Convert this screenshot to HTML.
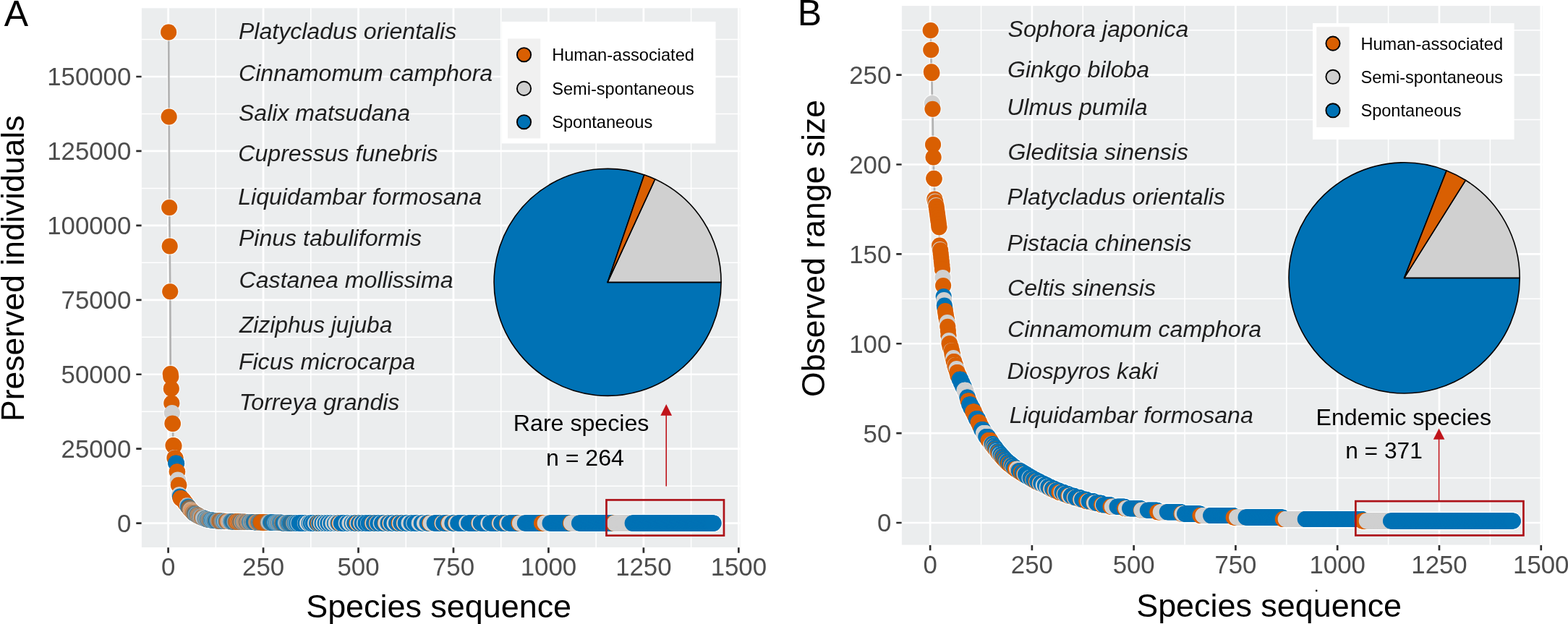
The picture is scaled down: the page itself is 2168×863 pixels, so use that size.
<!DOCTYPE html>
<html lang="en"><head><meta charset="utf-8"><title>Species sequence figure</title>
<style>html,body{margin:0;padding:0;background:#fff}body{width:2168px;height:863px;overflow:hidden}svg{display:block}text{font-family:"Liberation Sans",Arial,Helvetica,sans-serif}.tk text{font-size:34.8px;fill:#4D4D4D}.sp text{font-size:32.1px;font-style:italic;fill:#1e1e1e}.lg text{font-size:23.6px;fill:#000}.ax{font-size:44.9px;fill:#000}.ay{font-size:44.55px;fill:#000}.an{font-size:32.1px;fill:#000}.pl{font-size:50px;fill:#000}</style></head><body>
<svg width="2168" height="863" viewBox="0 0 2168 863">
<rect width="2168" height="863" fill="#fff"/>
<rect x="195.9" y="11.3" width="827.5" height="745.7" fill="#EBEDEE"/>
<path d="M298.32 11.3V757M429.77 11.3V757M561.23 11.3V757M692.68 11.3V757M824.13 11.3V757M955.58 11.3V757M195.9 672.13H1023.4M195.9 569.2H1023.4M195.9 466.27H1023.4M195.9 363.33H1023.4M195.9 260.4H1023.4M195.9 157.47H1023.4M195.9 54.53H1023.4" stroke="#fff" stroke-width="1.5" fill="none"/>
<path d="M232.6 11.3V757M364.05 11.3V757M495.5 11.3V757M626.95 11.3V757M758.4 11.3V757M889.85 11.3V757M1021.3 11.3V757M195.9 723.6H1023.4M195.9 620.67H1023.4M195.9 517.73H1023.4M195.9 414.8H1023.4M195.9 311.87H1023.4M195.9 208.93H1023.4M195.9 106H1023.4" stroke="#fff" stroke-width="2.7" fill="none"/>
<polyline points="233.13,44.5 233.65,161.5 234.18,287 234.7,340.5 235.23,403.3 235.75,517 236.28,521 236.81,537.5 237.33,557.5 237.86,571 238.38,585.5 238.91,586 239.44,616 239.96,616.35 240.49,616.7 241.01,633 241.54,633.4 242.06,633.6 242.59,633.8 243.12,640.6 243.64,640.8 244.17,641 244.69,652.2 245.22,652.5 245.75,663.6 246.27,664.6 246.8,670.7 247.32,671 247.85,684.2 248.37,684.6 248.9,686.5 249.43,689 249.95,689.2 250.48,689.4 251,689.6 251.53,689.8 252.05,690 252.58,690.71 253.11,691.41 253.63,692.12 254.16,692.82 254.68,693.53 255.21,694.24 255.74,694.94 256.26,695.65 256.79,696.35 257.31,697.06 257.84,697.76 258.36,698.47 258.89,699.18 259.42,699.88 259.94,700.59 260.47,701.29 260.99,702 261.52,702.61 262.04,703.22 262.57,703.83 263.1,704.43 263.62,705.04 264.15,705.65 264.67,706.26 265.2,706.87 265.73,707.47 266.25,708.08 266.78,708.69 267.3,709.3 267.83,709.61 268.35,709.92 268.88,710.24 269.41,710.55 269.93,710.86 270.46,711.17 270.98,711.49 271.51,711.8 272.03,712.06 272.56,712.33 273.09,712.59 273.61,712.86 274.14,713.12 274.66,713.39 275.19,713.65 275.72,713.91 276.24,714.18 276.77,714.44 277.29,714.71 277.82,714.97 278.34,715.24 278.87,715.5 279.4,715.7 279.92,715.9 280.45,716.1 280.97,716.3 281.5,716.5 282.03,716.7 282.55,716.9 283.08,717.1 283.6,717.3 284.13,717.5 284.65,717.7 285.18,717.9 285.71,718.1 286.23,718.3 286.76,718.5 287.28,718.59 287.81,718.67 288.33,718.76 288.86,718.85 289.39,718.93 289.91,719.02 290.44,719.11 290.96,719.19 291.49,719.28 292.02,719.37 292.54,719.45 293.07,719.54 293.59,719.63 294.12,719.71 294.64,719.8 295.17,719.84 295.7,719.89 296.22,719.93 296.75,719.98 297.27,720.02 297.8,720.07 298.32,720.11 298.85,720.16 299.38,720.2 299.9,720.24 300.43,720.29 300.95,720.33 301.48,720.38 302.01,720.42 302.53,720.47 303.06,720.51 303.58,720.56 304.11,720.6 304.63,720.62 305.16,720.65 305.69,720.68 306.21,720.7 306.74,720.73 307.26,720.75 307.79,720.77 308.32,720.8 308.84,720.83 309.37,720.85 309.89,720.88 310.42,720.9 310.94,720.93 311.47,720.95 312,720.98 312.52,721 313.05,721.03 313.57,721.05 314.1,721.08 314.62,721.1 315.15,721.12 315.68,721.15 316.2,721.18 316.73,721.2 317.25,721.22 317.78,721.23 318.31,721.25 318.83,721.27 319.36,721.28 319.88,721.3 320.41,721.32 320.93,721.33 321.46,721.35 321.99,721.37 322.51,721.38 323.04,721.4 323.56,721.42 324.09,721.43 324.62,721.45 325.14,721.47 325.67,721.48 326.19,721.5 326.72,721.52 327.24,721.53 327.77,721.55 328.3,721.57 328.82,721.58 329.35,721.6 329.87,721.62 330.4,721.63 330.92,721.65 331.45,721.67 331.98,721.68 332.5,721.7 333.03,721.72 333.55,721.73 334.08,721.75 334.61,721.77 335.13,721.78 335.66,721.8 336.18,721.81 336.71,721.82 337.23,721.83 337.76,721.84 338.29,721.86 338.81,721.87 339.34,721.88 339.86,721.89 340.39,721.9 340.91,721.91 341.44,721.92 341.97,721.93 342.49,721.94 343.02,721.96 343.54,721.97 344.07,721.98 344.6,721.99 345.12,722 345.65,722.01 346.17,722.02 346.7,722.03 347.22,722.04 347.75,722.06 348.28,722.07 348.8,722.08 349.33,722.09 349.85,722.1 350.38,722.11 350.9,722.12 351.43,722.13 351.96,722.14 352.48,722.16 353.01,722.17 353.53,722.18 354.06,722.19 354.59,722.2 355.11,722.21 355.64,722.22 356.16,722.23 356.69,722.24 357.21,722.26 357.74,722.27 358.27,722.28 358.79,722.29 359.32,722.3 359.84,722.31 360.37,722.32 360.9,722.33 361.42,722.34 361.95,722.36 362.47,722.37 363,722.38 363.52,722.39 364.05,722.4 364.58,722.41 365.1,722.42 365.63,722.43 366.15,722.44 366.68,722.45 367.2,722.46 367.73,722.47 368.26,722.48 368.78,722.49 369.31,722.5 369.83,722.51 370.36,722.52 370.89,722.52 371.41,722.53 371.94,722.54 372.46,722.55 372.99,722.56 373.51,722.57 374.04,722.58 374.57,722.59 375.09,722.6 375.62,722.61 376.14,722.62 376.67,722.63 377.19,722.64 377.72,722.65 378.25,722.66 378.77,722.67 379.3,722.68 379.82,722.69 380.35,722.7 380.88,722.71 381.4,722.72 381.93,722.73 382.45,722.74 382.98,722.75 383.5,722.76 384.03,722.77 384.56,722.77 385.08,722.78 385.61,722.79 386.13,722.8 386.66,722.81 387.19,722.82 387.71,722.83 388.24,722.84 388.76,722.85 389.29,722.86 389.81,722.87 390.34,723.37 390.87,723.37 391.39,723.37 391.92,723.37 392.44,723.37 392.97,723.37 393.49,723.37 394.02,723.37 394.55,723.37 395.07,723.37 395.6,723.37 396.12,723.37 396.65,723.37 397.18,723.37 397.7,723.38 398.23,723.38 398.75,723.38 399.28,723.38 399.8,723.38 400.33,723.38 400.86,723.38 401.38,723.38 401.91,723.38 402.43,723.38 402.96,723.39 403.49,723.39 404.01,723.39 404.54,723.39 405.06,723.39 405.59,723.39 406.11,723.39 406.64,723.39 407.17,723.39 407.69,723.39 408.22,723.39 408.74,723.39 409.27,723.39 409.79,723.39 410.32,723.39 410.85,723.39 411.37,723.39 411.9,723.39 412.42,723.4 412.95,723.4 413.48,723.4 414,723.4 414.53,723.4 415.05,723.4 415.58,723.4 416.1,723.4 416.63,723.4 417.16,723.4 417.68,723.4 418.21,723.4 418.73,723.41 419.26,723.41 419.78,723.41 420.31,723.41 420.84,723.41 421.36,723.41 421.89,723.41 422.41,723.41 422.94,723.41 423.47,723.41 423.99,723.41 424.52,723.41 425.04,723.41 425.57,723.41 426.09,723.41 426.62,723.41 427.15,723.41 427.67,723.41 428.2,723.41 428.72,723.42 429.25,723.42 429.77,723.42 430.3,723.42 430.83,723.42 431.35,723.42 431.88,723.42 432.4,723.42 432.93,723.42 433.46,723.42 433.98,723.42 434.51,723.42 435.03,723.42 435.56,723.42 436.08,723.43 436.61,723.43 437.14,723.43 437.66,723.43 438.19,723.43 438.71,723.43 439.24,723.43 439.77,723.43 440.29,723.43 440.82,723.43 441.34,723.43 441.87,723.43 442.39,723.43 442.92,723.43 443.45,723.44 443.97,723.44 444.5,723.44 445.02,723.44 445.55,723.44 446.07,723.44 446.6,723.44 447.13,723.44 447.65,723.44 448.18,723.44 448.7,723.44 449.23,723.44 449.76,723.44 450.28,723.44 450.81,723.44 451.33,723.44 451.86,723.44 452.38,723.44 452.91,723.44 453.44,723.44 453.96,723.44 454.49,723.44 455.01,723.44 455.54,723.44 456.07,723.45 456.59,723.45 457.12,723.45 457.64,723.45 458.17,723.45 458.69,723.45 459.22,723.45 459.75,723.45 460.27,723.45 460.8,723.45 461.32,723.45 461.85,723.45 462.37,723.45 462.9,723.45 463.43,723.45 463.95,723.45 464.48,723.46 465,723.46 465.53,723.46 466.06,723.46 466.58,723.46 467.11,723.46 467.63,723.46 468.16,723.46 468.68,723.46 469.21,723.46 469.74,723.46 470.26,723.46 470.79,723.46 471.31,723.46 471.84,723.46 472.36,723.46 472.89,723.46 473.42,723.46 473.94,723.46 474.47,723.46 474.99,723.46 475.52,723.46 476.05,723.46 476.57,723.46 477.1,723.46 477.62,723.46 478.15,723.46 478.67,723.47 479.2,723.47 479.73,723.47 480.25,723.47 480.78,723.47 481.3,723.47 481.83,723.47 482.36,723.47 482.88,723.47 483.41,723.47 483.93,723.47 484.46,723.47 484.98,723.47 485.51,723.47 486.04,723.47 486.56,723.47 487.09,723.47 487.61,723.47 488.14,723.48 488.66,723.48 489.19,723.48 489.72,723.48 490.24,723.48 490.77,723.48 491.29,723.48 491.82,723.48 492.35,723.48 492.87,723.48 493.4,723.48 493.92,723.48 494.45,723.48 494.97,723.48 495.5,723.48 496.03,723.48 496.55,723.48 497.08,723.48 497.6,723.48 498.13,723.48 498.65,723.48 499.18,723.48 499.71,723.48 500.23,723.48 500.76,723.48 501.28,723.48 501.81,723.48 502.34,723.48 502.86,723.48 503.39,723.48 503.91,723.49 504.44,723.49 504.96,723.49 505.49,723.49 506.02,723.49 506.54,723.49 507.07,723.49 507.59,723.49 508.12,723.49 508.64,723.49 509.17,723.49 509.7,723.49 510.22,723.49 510.75,723.49 511.27,723.49 511.8,723.49 512.33,723.49 512.85,723.49 513.38,723.49 513.9,723.49 514.43,723.49 514.95,723.5 515.48,723.5 516.01,723.5 516.53,723.5 517.06,723.5 517.58,723.5 518.11,723.5 518.64,723.5 519.16,723.5 519.69,723.5 520.21,723.5 520.74,723.5 521.26,723.5 521.79,723.5 522.32,723.5 522.84,723.5 523.37,723.5 523.89,723.5 524.42,723.5 524.94,723.5 525.47,723.5 526,723.5 526.52,723.51 527.05,723.51 527.57,723.51 528.1,723.51 528.63,723.51 529.15,723.51 529.68,723.51 530.2,723.51 530.73,723.51 531.25,723.51 531.78,723.51 532.31,723.51 532.83,723.51 533.36,723.51 533.88,723.51 534.41,723.51 534.94,723.51 535.46,723.51 535.99,723.51 536.51,723.51 537.04,723.51 537.56,723.51 538.09,723.51 538.62,723.51 539.14,723.51 539.67,723.51 540.19,723.51 540.72,723.51 541.24,723.51 541.77,723.51 542.3,723.51 542.82,723.51 543.35,723.51 543.87,723.51 544.4,723.51 544.93,723.51 545.45,723.52 545.98,723.52 546.5,723.52 547.03,723.52 547.55,723.52 548.08,723.52 548.61,723.52 549.13,723.52 549.66,723.52 550.18,723.52 550.71,723.52 551.23,723.52 551.76,723.52 552.29,723.52 552.81,723.52 553.34,723.52 553.86,723.52 554.39,723.52 554.92,723.52 555.44,723.52 555.97,723.52 556.49,723.52 557.02,723.52 557.54,723.52 558.07,723.52 558.6,723.53 559.12,723.53 559.65,723.53 560.17,723.53 560.7,723.53 561.23,723.53 561.75,723.53 562.28,723.53 562.8,723.53 563.33,723.53 563.85,723.53 564.38,723.53 564.91,723.53 565.43,723.53 565.96,723.53 566.48,723.53 567.01,723.53 567.53,723.53 568.06,723.53 568.59,723.53 569.11,723.53 569.64,723.53 570.16,723.53 570.69,723.53 571.22,723.53 571.74,723.53 572.27,723.53 572.79,723.53 573.32,723.53 573.84,723.53 574.37,723.53 574.9,723.53 575.42,723.53 575.95,723.53 576.47,723.53 577,723.53 577.52,723.53 578.05,723.53 578.58,723.53 579.1,723.53 579.63,723.54 580.15,723.54 580.68,723.54 581.21,723.54 581.73,723.54 582.26,723.54 582.78,723.54 583.31,723.54 583.83,723.54 584.36,723.54 584.89,723.54 585.41,723.54 585.94,723.54 586.46,723.54 586.99,723.54 587.51,723.54 588.04,723.54 588.57,723.54 589.09,723.54 589.62,723.54 590.14,723.54 590.67,723.54 591.2,723.54 591.72,723.54 592.25,723.54 592.77,723.54 593.3,723.54 593.82,723.54 594.35,723.55 594.88,723.55 595.4,723.55 595.93,723.55 596.45,723.55 596.98,723.55 597.51,723.55 598.03,723.55 598.56,723.55 599.08,723.55 599.61,723.55 600.13,723.55 600.66,723.55 601.19,723.55 601.71,723.55 602.24,723.55 602.76,723.55 603.29,723.55 603.81,723.55 604.34,723.55 604.87,723.55 605.39,723.55 605.92,723.55 606.44,723.55 606.97,723.55 607.5,723.55 608.02,723.55 608.55,723.55 609.07,723.55 609.6,723.55 610.12,723.55 610.65,723.55 611.18,723.55 611.7,723.55 612.23,723.55 612.75,723.55 613.28,723.55 613.81,723.55 614.33,723.55 614.86,723.55 615.38,723.55 615.91,723.55 616.43,723.55 616.96,723.55 617.49,723.55 618.01,723.55 618.54,723.55 619.06,723.55 619.59,723.55 620.11,723.55 620.64,723.55 621.17,723.55 621.69,723.55 622.22,723.55 622.74,723.55 623.27,723.55 623.8,723.55 624.32,723.55 624.85,723.55 625.37,723.55 625.9,723.55 626.42,723.55 626.95,723.55 627.48,723.55 628,723.55 628.53,723.55 629.05,723.55 629.58,723.55 630.1,723.56 630.63,723.56 631.16,723.56 631.68,723.56 632.21,723.56 632.73,723.56 633.26,723.56 633.79,723.56 634.31,723.56 634.84,723.56 635.36,723.56 635.89,723.56 636.41,723.56 636.94,723.56 637.47,723.56 637.99,723.56 638.52,723.56 639.04,723.56 639.57,723.56 640.1,723.56 640.62,723.56 641.15,723.56 641.67,723.56 642.2,723.56 642.72,723.56 643.25,723.56 643.78,723.56 644.3,723.56 644.83,723.56 645.35,723.56 645.88,723.56 646.4,723.56 646.93,723.56 647.46,723.56 647.98,723.56 648.51,723.56 649.03,723.56 649.56,723.56 650.09,723.56 650.61,723.56 651.14,723.56 651.66,723.56 652.19,723.56 652.71,723.56 653.24,723.56 653.77,723.56 654.29,723.56 654.82,723.56 655.34,723.56 655.87,723.56 656.39,723.56 656.92,723.56 657.45,723.56 657.97,723.56 658.5,723.56 659.02,723.56 659.55,723.56 660.08,723.56 660.6,723.56 661.13,723.56 661.65,723.56 662.18,723.57 662.7,723.57 663.23,723.57 663.76,723.57 664.28,723.57 664.81,723.57 665.33,723.57 665.86,723.57 666.38,723.57 666.91,723.57 667.44,723.57 667.96,723.57 668.49,723.57 669.01,723.57 669.54,723.57 670.07,723.57 670.59,723.57 671.12,723.57 671.64,723.57 672.17,723.57 672.69,723.57 673.22,723.57 673.75,723.57 674.27,723.57 674.8,723.57 675.32,723.57 675.85,723.57 676.38,723.57 676.9,723.57 677.43,723.57 677.95,723.57 678.48,723.57 679,723.57 679.53,723.57 680.06,723.57 680.58,723.57 681.11,723.57 681.63,723.57 682.16,723.57 682.68,723.57 683.21,723.57 683.74,723.57 684.26,723.57 684.79,723.57 685.31,723.57 685.84,723.57 686.37,723.57 686.89,723.57 687.42,723.57 687.94,723.57 688.47,723.57 688.99,723.57 689.52,723.57 690.05,723.57 690.57,723.58 691.1,723.58 691.62,723.58 692.15,723.58 692.68,723.58 693.2,723.58 693.73,723.58 694.25,723.58 694.78,723.58 695.3,723.58 695.83,723.58 696.36,723.58 696.88,723.58 697.41,723.58 697.93,723.58 698.46,723.58 698.98,723.58 699.51,723.58 700.04,723.58 700.56,723.58 701.09,723.58 701.61,723.58 702.14,723.58 702.67,723.58 703.19,723.58 703.72,723.58 704.24,723.58 704.77,723.58 705.29,723.58 705.82,723.58 706.35,723.58 706.87,723.58 707.4,723.58 707.92,723.58 708.45,723.58 708.97,723.58 709.5,723.58 710.03,723.58 710.55,723.58 711.08,723.58 711.6,723.58 712.13,723.58 712.66,723.58 713.18,723.58 713.71,723.58 714.23,723.58 714.76,723.58 715.28,723.58 715.81,723.58 716.34,723.58 716.86,723.58 717.39,723.58 717.91,723.58 718.44,723.58 718.97,723.58 719.49,723.58 720.02,723.58 720.54,723.58 721.07,723.58 721.59,723.58 722.12,723.58 722.65,723.58 723.17,723.58 723.7,723.58 724.22,723.58 724.75,723.58 725.27,723.58 725.8,723.58 726.33,723.58 726.85,723.58 727.38,723.58 727.9,723.58 728.43,723.58 728.96,723.58 729.48,723.58 730.01,723.58 730.53,723.58 731.06,723.58 731.58,723.58 732.11,723.58 732.64,723.58 733.16,723.58 733.69,723.58 734.21,723.58 734.74,723.58 735.26,723.58 735.79,723.58 736.32,723.58 736.84,723.58 737.37,723.58 737.89,723.58 738.42,723.58 738.95,723.58 739.47,723.58 740,723.58 740.52,723.58 741.05,723.58 741.57,723.58 742.1,723.58 742.63,723.58 743.15,723.58 743.68,723.58 744.2,723.58 744.73,723.58 745.26,723.58 745.78,723.58 746.31,723.58 746.83,723.58 747.36,723.58 747.88,723.58 748.41,723.58 748.94,723.59 749.46,723.59 749.99,723.59 750.51,723.59 751.04,723.59 751.56,723.59 752.09,723.59 752.62,723.59 753.14,723.59 753.67,723.59 754.19,723.59 754.72,723.59 755.25,723.59 755.77,723.59 756.3,723.59 756.82,723.59 757.35,723.59 757.87,723.59 758.4,723.59 758.93,723.59 759.45,723.59 759.98,723.59 760.5,723.59 761.03,723.59 761.55,723.59 762.08,723.59 762.61,723.59 763.13,723.59 763.66,723.59 764.18,723.59 764.71,723.59 765.24,723.59 765.76,723.59 766.29,723.59 766.81,723.59 767.34,723.59 767.86,723.59 768.39,723.59 768.92,723.59 769.44,723.59 769.97,723.59 770.49,723.59 771.02,723.59 771.55,723.59 772.07,723.59 772.6,723.59 773.12,723.59 773.65,723.59 774.17,723.59 774.7,723.59 775.23,723.59 775.75,723.59 776.28,723.59 776.8,723.59 777.33,723.59 777.85,723.59 778.38,723.59 778.91,723.59 779.43,723.59 779.96,723.59 780.48,723.59 781.01,723.59 781.54,723.59 782.06,723.59 782.59,723.59 783.11,723.59 783.64,723.59 784.16,723.59 784.69,723.59 785.22,723.59 785.74,723.59 786.27,723.59 786.79,723.59 787.32,723.59 787.84,723.59 788.37,723.59 788.9,723.59 789.42,723.59 789.95,723.59 790.47,723.59 791,723.59 791.53,723.59 792.05,723.59 792.58,723.59 793.1,723.59 793.63,723.59 794.15,723.59 794.68,723.59 795.21,723.59 795.73,723.59 796.26,723.59 796.78,723.59 797.31,723.59 797.84,723.59 798.36,723.59 798.89,723.59 799.41,723.59 799.94,723.59 800.46,723.59 800.99,723.59 801.52,723.59 802.04,723.59 802.57,723.59 803.09,723.59 803.62,723.59 804.14,723.59 804.67,723.59 805.2,723.59 805.72,723.59 806.25,723.59 806.77,723.59 807.3,723.59 807.83,723.59 808.35,723.59 808.88,723.59 809.4,723.59 809.93,723.59 810.45,723.59 810.98,723.59 811.51,723.59 812.03,723.59 812.56,723.59 813.08,723.59 813.61,723.59 814.13,723.59 814.66,723.59 815.19,723.59 815.71,723.59 816.24,723.59 816.76,723.59 817.29,723.59 817.82,723.59 818.34,723.59 818.87,723.59 819.39,723.59 819.92,723.59 820.44,723.59 820.97,723.59 821.5,723.59 822.02,723.59 822.55,723.59 823.07,723.59 823.6,723.59 824.13,723.59 824.65,723.59 825.18,723.59 825.7,723.59 826.23,723.59 826.75,723.59 827.28,723.59 827.81,723.59 828.33,723.59 828.86,723.59 829.38,723.59 829.91,723.59 830.43,723.59 830.96,723.59 831.49,723.59 832.01,723.59 832.54,723.59 833.06,723.59 833.59,723.59 834.12,723.59 834.64,723.59 835.17,723.59 835.69,723.59 836.22,723.59 836.74,723.59 837.27,723.59 837.8,723.59 838.32,723.59 838.85,723.59 839.37,723.59 839.9,723.59 840.42,723.59 840.95,723.59 841.48,723.59 842,723.59 842.53,723.59 843.05,723.59 843.58,723.59 844.11,723.59 844.63,723.59 845.16,723.59 845.68,723.59 846.21,723.59 846.73,723.59 847.26,723.59 847.79,723.59 848.31,723.6 848.84,723.6 849.36,723.6 849.89,723.6 850.42,723.6 850.94,723.6 851.47,723.6 851.99,723.6 852.52,723.6 853.04,723.6 853.57,723.6 854.1,723.6 854.62,723.6 855.15,723.6 855.67,723.6 856.2,723.6 856.72,723.6 857.25,723.6 857.78,723.6 858.3,723.6 858.83,723.6 859.35,723.6 859.88,723.6 860.41,723.6 860.93,723.6 861.46,723.6 861.98,723.6 862.51,723.6 863.03,723.6 863.56,723.6 864.09,723.6 864.61,723.6 865.14,723.6 865.66,723.6 866.19,723.6 866.71,723.6 867.24,723.6 867.77,723.6 868.29,723.6 868.82,723.6 869.34,723.6 869.87,723.6 870.4,723.6 870.92,723.6 871.45,723.6 871.97,723.6 872.5,723.6 873.02,723.6 873.55,723.6 874.08,723.6 874.6,723.6 875.13,723.6 875.65,723.6 876.18,723.6 876.71,723.6 877.23,723.6 877.76,723.6 878.28,723.6 878.81,723.6 879.33,723.6 879.86,723.6 880.39,723.6 880.91,723.6 881.44,723.6 881.96,723.6 882.49,723.6 883.01,723.6 883.54,723.6 884.07,723.6 884.59,723.6 885.12,723.6 885.64,723.6 886.17,723.6 886.7,723.6 887.22,723.6 887.75,723.6 888.27,723.6 888.8,723.6 889.32,723.6 889.85,723.6 890.38,723.6 890.9,723.6 891.43,723.6 891.95,723.6 892.48,723.6 893,723.6 893.53,723.6 894.06,723.6 894.58,723.6 895.11,723.6 895.63,723.6 896.16,723.6 896.69,723.6 897.21,723.6 897.74,723.6 898.26,723.6 898.79,723.6 899.31,723.6 899.84,723.6 900.37,723.6 900.89,723.6 901.42,723.6 901.94,723.6 902.47,723.6 903,723.6 903.52,723.6 904.05,723.6 904.57,723.6 905.1,723.6 905.62,723.6 906.15,723.6 906.68,723.6 907.2,723.6 907.73,723.6 908.25,723.6 908.78,723.6 909.3,723.6 909.83,723.6 910.36,723.6 910.88,723.6 911.41,723.6 911.93,723.6 912.46,723.6 912.99,723.6 913.51,723.6 914.04,723.6 914.56,723.6 915.09,723.6 915.61,723.6 916.14,723.6 916.67,723.6 917.19,723.6 917.72,723.6 918.24,723.6 918.77,723.6 919.29,723.6 919.82,723.6 920.35,723.6 920.87,723.6 921.4,723.6 921.92,723.6 922.45,723.6 922.98,723.6 923.5,723.6 924.03,723.6 924.55,723.6 925.08,723.6 925.6,723.6 926.13,723.6 926.66,723.6 927.18,723.6 927.71,723.6 928.23,723.6 928.76,723.6 929.29,723.6 929.81,723.6 930.34,723.6 930.86,723.6 931.39,723.6 931.91,723.6 932.44,723.6 932.97,723.6 933.49,723.6 934.02,723.6 934.54,723.6 935.07,723.6 935.59,723.6 936.12,723.6 936.65,723.6 937.17,723.6 937.7,723.6 938.22,723.6 938.75,723.6 939.28,723.6 939.8,723.6 940.33,723.6 940.85,723.6 941.38,723.6 941.9,723.6 942.43,723.6 942.96,723.6 943.48,723.6 944.01,723.6 944.53,723.6 945.06,723.6 945.58,723.6 946.11,723.6 946.64,723.6 947.16,723.6 947.69,723.6 948.21,723.6 948.74,723.6 949.27,723.6 949.79,723.6 950.32,723.6 950.84,723.6 951.37,723.6 951.89,723.6 952.42,723.6 952.95,723.6 953.47,723.6 954,723.6 954.52,723.6 955.05,723.6 955.58,723.6 956.1,723.6 956.63,723.6 957.15,723.6 957.68,723.6 958.2,723.6 958.73,723.6 959.26,723.6 959.78,723.6 960.31,723.6 960.83,723.6 961.36,723.6 961.88,723.6 962.41,723.6 962.94,723.6 963.46,723.6 963.99,723.6 964.51,723.6 965.04,723.6 965.57,723.6 966.09,723.6 966.62,723.6 967.14,723.6 967.67,723.6 968.19,723.6 968.72,723.6 969.25,723.6 969.77,723.6 970.3,723.6 970.82,723.6 971.35,723.6 971.87,723.6 972.4,723.6 972.93,723.6 973.45,723.6 973.98,723.6 974.5,723.6 975.03,723.6 975.56,723.6 976.08,723.6 976.61,723.6 977.13,723.6 977.66,723.6 978.18,723.6 978.71,723.6 979.24,723.6 979.76,723.6 980.29,723.6 980.81,723.6 981.34,723.6 981.87,723.6 982.39,723.6 982.92,723.6 983.44,723.6 983.97,723.6 984.49,723.6 985.02,723.6 985.55,723.6 986.07,723.6 986.6,723.6" fill="none" stroke="#B2B2B2" stroke-width="2.7" stroke-linejoin="round"/>
<g stroke="#fff" stroke-opacity="0.6" stroke-width="2.8"><use href="#sa"/></g>
<g id="sa">
<g>
<g fill="#D95F02"><circle cx="233.13" cy="44.5" r="11"/><circle cx="233.65" cy="161.5" r="11"/><circle cx="234.18" cy="287" r="11"/><circle cx="234.7" cy="340.5" r="11"/><circle cx="235.23" cy="403.3" r="11"/><circle cx="235.75" cy="517" r="11"/><circle cx="236.28" cy="521" r="11"/><circle cx="236.81" cy="537.5" r="11"/><circle cx="237.33" cy="557.5" r="11"/></g>
<g fill="#D0D0D0"><circle cx="237.86" cy="571" r="11"/></g>
<g fill="#D95F02"><circle cx="238.38" cy="585.5" r="11"/><circle cx="238.91" cy="586" r="11"/><circle cx="239.44" cy="616" r="11"/><circle cx="239.96" cy="616.35" r="11"/><circle cx="240.49" cy="616.7" r="11"/></g>
<g fill="#D0D0D0"><circle cx="241.01" cy="633" r="11"/></g>
<g fill="#D95F02"><circle cx="241.54" cy="633.4" r="11"/><circle cx="242.06" cy="633.6" r="11"/><circle cx="242.59" cy="633.8" r="11"/></g>
<g fill="#0072B5"><circle cx="243.12" cy="640.6" r="11"/><circle cx="243.64" cy="640.8" r="11"/><circle cx="244.17" cy="641" r="11"/></g>
<g fill="#D95F02"><circle cx="244.69" cy="652.2" r="11"/><circle cx="245.22" cy="652.5" r="11"/></g>
<g fill="#D0D0D0"><circle cx="245.75" cy="663.6" r="11"/><circle cx="246.27" cy="664.6" r="11"/></g>
<g fill="#D95F02"><circle cx="246.8" cy="670.7" r="11"/><circle cx="247.32" cy="671" r="11"/></g>
<g fill="#D0D0D0"><circle cx="247.85" cy="684.2" r="11"/><circle cx="248.37" cy="684.6" r="11"/></g>
<g fill="#0072B5"><circle cx="248.9" cy="686.5" r="11"/></g>
<g fill="#D95F02"><circle cx="249.43" cy="689" r="11"/><circle cx="249.95" cy="689.2" r="11"/><circle cx="250.48" cy="689.4" r="11"/><circle cx="251" cy="689.6" r="11"/><circle cx="251.53" cy="689.8" r="11"/><circle cx="252.05" cy="690" r="11"/><circle cx="252.58" cy="690.71" r="11"/><circle cx="253.11" cy="691.41" r="11"/><circle cx="253.63" cy="692.12" r="11"/><circle cx="254.16" cy="692.82" r="11"/><circle cx="254.68" cy="693.53" r="11"/><circle cx="255.21" cy="694.24" r="11"/><circle cx="255.74" cy="694.94" r="11"/><circle cx="256.26" cy="695.65" r="11"/><circle cx="256.79" cy="696.35" r="11"/><circle cx="257.31" cy="697.06" r="11"/><circle cx="257.84" cy="697.76" r="11"/><circle cx="258.36" cy="698.47" r="11"/></g>
</g>
<g id="da">
<g fill="#D0D0D0"><circle cx="258.89" cy="699.18" r="11"/><circle cx="259.42" cy="699.88" r="11"/></g>
<g fill="#0072B5"><circle cx="259.94" cy="700.59" r="11"/><circle cx="260.47" cy="701.29" r="11"/><circle cx="260.99" cy="702" r="11"/></g>
<g fill="#D95F02"><circle cx="261.52" cy="702.61" r="11"/><circle cx="262.04" cy="703.22" r="11"/></g>
<g fill="#0072B5"><circle cx="262.57" cy="703.83" r="11"/></g>
<g fill="#D95F02"><circle cx="263.1" cy="704.43" r="11"/></g>
<g fill="#D0D0D0"><circle cx="263.62" cy="705.04" r="11"/><circle cx="264.15" cy="705.65" r="11"/></g>
<g fill="#D95F02"><circle cx="264.67" cy="706.26" r="11"/></g>
<g fill="#D0D0D0"><circle cx="265.2" cy="706.87" r="11"/></g>
<g fill="#D95F02"><circle cx="265.73" cy="707.47" r="11"/></g>
<g fill="#D0D0D0"><circle cx="266.25" cy="708.08" r="11"/></g>
<g fill="#D95F02"><circle cx="266.78" cy="708.69" r="11"/><circle cx="267.3" cy="709.3" r="11"/></g>
<g fill="#D0D0D0"><circle cx="267.83" cy="709.61" r="11"/></g>
<g fill="#0072B5"><circle cx="268.35" cy="709.92" r="11"/></g>
<g fill="#D95F02"><circle cx="268.88" cy="710.24" r="11"/><circle cx="269.41" cy="710.55" r="11"/></g>
<g fill="#0072B5"><circle cx="269.93" cy="710.86" r="11"/><circle cx="270.46" cy="711.17" r="11"/></g>
<g fill="#D0D0D0"><circle cx="270.98" cy="711.49" r="11"/><circle cx="271.51" cy="711.8" r="11"/></g>
<g fill="#0072B5"><circle cx="272.03" cy="712.06" r="11"/></g>
<g fill="#D95F02"><circle cx="272.56" cy="712.33" r="11"/></g>
<g fill="#0072B5"><circle cx="273.09" cy="712.59" r="11"/></g>
<g fill="#D0D0D0"><circle cx="273.61" cy="712.86" r="11"/></g>
<g fill="#D95F02"><circle cx="274.14" cy="713.12" r="11"/><circle cx="274.66" cy="713.39" r="11"/></g>
<g fill="#D0D0D0"><circle cx="275.19" cy="713.65" r="11"/></g>
<g fill="#0072B5"><circle cx="275.72" cy="713.91" r="11"/></g>
<g fill="#D95F02"><circle cx="276.24" cy="714.18" r="11"/></g>
<g fill="#D0D0D0"><circle cx="276.77" cy="714.44" r="11"/></g>
<g fill="#0072B5"><circle cx="277.29" cy="714.71" r="11"/></g>
<g fill="#D0D0D0"><circle cx="277.82" cy="714.97" r="11"/><circle cx="278.34" cy="715.24" r="11"/></g>
<g fill="#D95F02"><circle cx="278.87" cy="715.5" r="11"/><circle cx="279.4" cy="715.7" r="11"/><circle cx="279.92" cy="715.9" r="11"/></g>
<g fill="#0072B5"><circle cx="280.45" cy="716.1" r="11"/></g>
<g fill="#D0D0D0"><circle cx="280.97" cy="716.3" r="11"/><circle cx="281.5" cy="716.5" r="11"/><circle cx="282.03" cy="716.7" r="11"/><circle cx="282.55" cy="716.9" r="11"/><circle cx="283.08" cy="717.1" r="11"/></g>
<g fill="#0072B5"><circle cx="283.6" cy="717.3" r="11"/><circle cx="284.13" cy="717.5" r="11"/></g>
<g fill="#D95F02"><circle cx="284.65" cy="717.7" r="11"/></g>
<g fill="#D0D0D0"><circle cx="285.18" cy="717.9" r="11"/><circle cx="285.71" cy="718.1" r="11"/></g>
<g fill="#0072B5"><circle cx="286.23" cy="718.3" r="11"/><circle cx="286.76" cy="718.5" r="11"/></g>
<g fill="#D0D0D0"><circle cx="287.28" cy="718.59" r="11"/></g>
<g fill="#0072B5"><circle cx="287.81" cy="718.67" r="11"/></g>
<g fill="#D95F02"><circle cx="288.33" cy="718.76" r="11"/></g>
<g fill="#D0D0D0"><circle cx="288.86" cy="718.85" r="11"/></g>
<g fill="#0072B5"><circle cx="289.39" cy="718.93" r="11"/></g>
<g fill="#D95F02"><circle cx="289.91" cy="719.02" r="11"/></g>
<g fill="#D0D0D0"><circle cx="290.44" cy="719.11" r="11"/></g>
<g fill="#D95F02"><circle cx="290.96" cy="719.19" r="11"/></g>
<g fill="#0072B5"><circle cx="291.49" cy="719.28" r="11"/><circle cx="292.02" cy="719.37" r="11"/></g>
<g fill="#D0D0D0"><circle cx="292.54" cy="719.45" r="11"/></g>
<g fill="#0072B5"><circle cx="293.07" cy="719.54" r="11"/></g>
<g fill="#D0D0D0"><circle cx="293.59" cy="719.63" r="11"/></g>
<g fill="#0072B5"><circle cx="294.12" cy="719.71" r="11"/><circle cx="294.64" cy="719.8" r="11"/></g>
<g fill="#D0D0D0"><circle cx="295.17" cy="719.84" r="11"/><circle cx="295.7" cy="719.89" r="11"/></g>
<g fill="#0072B5"><circle cx="296.22" cy="719.93" r="11"/><circle cx="296.75" cy="719.98" r="11"/></g>
<g fill="#D0D0D0"><circle cx="297.27" cy="720.02" r="11"/></g>
<g fill="#0072B5"><circle cx="297.8" cy="720.07" r="11"/></g>
<g fill="#D95F02"><circle cx="298.32" cy="720.11" r="11"/></g>
<g fill="#0072B5"><circle cx="298.85" cy="720.16" r="11"/><circle cx="299.38" cy="720.2" r="11"/><circle cx="299.9" cy="720.24" r="11"/><circle cx="300.43" cy="720.29" r="11"/></g>
<g fill="#D0D0D0"><circle cx="300.95" cy="720.33" r="11"/><circle cx="301.48" cy="720.38" r="11"/></g>
<g fill="#0072B5"><circle cx="302.01" cy="720.42" r="11"/></g>
<g fill="#D95F02"><circle cx="302.53" cy="720.47" r="11"/></g>
<g fill="#D0D0D0"><circle cx="303.06" cy="720.51" r="11"/></g>
<g fill="#D95F02"><circle cx="303.58" cy="720.56" r="11"/><circle cx="304.11" cy="720.6" r="11"/><circle cx="304.63" cy="720.62" r="11"/></g>
<g fill="#0072B5"><circle cx="305.16" cy="720.65" r="11"/></g>
<g fill="#D95F02"><circle cx="305.69" cy="720.68" r="11"/><circle cx="306.21" cy="720.7" r="11"/></g>
<g fill="#D0D0D0"><circle cx="306.74" cy="720.73" r="11"/></g>
<g fill="#0072B5"><circle cx="307.26" cy="720.75" r="11"/></g>
<g fill="#D95F02"><circle cx="307.79" cy="720.77" r="11"/></g>
<g fill="#D0D0D0"><circle cx="308.32" cy="720.8" r="11"/><circle cx="308.84" cy="720.83" r="11"/></g>
<g fill="#0072B5"><circle cx="309.37" cy="720.85" r="11"/><circle cx="309.89" cy="720.88" r="11"/><circle cx="310.42" cy="720.9" r="11"/></g>
<g fill="#D0D0D0"><circle cx="310.94" cy="720.93" r="11"/><circle cx="311.47" cy="720.95" r="11"/><circle cx="312" cy="720.98" r="11"/></g>
<g fill="#0072B5"><circle cx="312.52" cy="721" r="11"/><circle cx="313.05" cy="721.03" r="11"/></g>
<g fill="#D95F02"><circle cx="313.57" cy="721.05" r="11"/><circle cx="314.1" cy="721.08" r="11"/><circle cx="314.62" cy="721.1" r="11"/><circle cx="315.15" cy="721.12" r="11"/></g>
<g fill="#D0D0D0"><circle cx="315.68" cy="721.15" r="11"/><circle cx="316.2" cy="721.18" r="11"/><circle cx="316.73" cy="721.2" r="11"/></g>
<g fill="#D95F02"><circle cx="317.25" cy="721.22" r="11"/></g>
<g fill="#D0D0D0"><circle cx="317.78" cy="721.23" r="11"/><circle cx="318.31" cy="721.25" r="11"/><circle cx="318.83" cy="721.27" r="11"/></g>
<g fill="#0072B5"><circle cx="319.36" cy="721.28" r="11"/><circle cx="319.88" cy="721.3" r="11"/></g>
<g fill="#D0D0D0"><circle cx="320.41" cy="721.32" r="11"/></g>
<g fill="#0072B5"><circle cx="320.93" cy="721.33" r="11"/><circle cx="321.46" cy="721.35" r="11"/></g>
<g fill="#D95F02"><circle cx="321.99" cy="721.37" r="11"/></g>
<g fill="#0072B5"><circle cx="322.51" cy="721.38" r="11"/><circle cx="323.04" cy="721.4" r="11"/><circle cx="323.56" cy="721.42" r="11"/><circle cx="324.09" cy="721.43" r="11"/></g>
<g fill="#D0D0D0"><circle cx="324.62" cy="721.45" r="11"/><circle cx="325.14" cy="721.47" r="11"/></g>
<g fill="#D95F02"><circle cx="325.67" cy="721.48" r="11"/></g>
<g fill="#0072B5"><circle cx="326.19" cy="721.5" r="11"/></g>
<g fill="#D95F02"><circle cx="326.72" cy="721.52" r="11"/><circle cx="327.24" cy="721.53" r="11"/><circle cx="327.77" cy="721.55" r="11"/><circle cx="328.3" cy="721.57" r="11"/></g>
<g fill="#D0D0D0"><circle cx="328.82" cy="721.58" r="11"/></g>
<g fill="#D95F02"><circle cx="329.35" cy="721.6" r="11"/><circle cx="329.87" cy="721.62" r="11"/><circle cx="330.4" cy="721.63" r="11"/><circle cx="330.92" cy="721.65" r="11"/></g>
<g fill="#D0D0D0"><circle cx="331.45" cy="721.67" r="11"/></g>
<g fill="#D95F02"><circle cx="331.98" cy="721.68" r="11"/></g>
<g fill="#0072B5"><circle cx="332.5" cy="721.7" r="11"/><circle cx="333.03" cy="721.72" r="11"/></g>
<g fill="#D95F02"><circle cx="333.55" cy="721.73" r="11"/><circle cx="334.08" cy="721.75" r="11"/></g>
<g fill="#D0D0D0"><circle cx="334.61" cy="721.77" r="11"/><circle cx="335.13" cy="721.78" r="11"/></g>
<g fill="#D95F02"><circle cx="335.66" cy="721.8" r="11"/></g>
<g fill="#0072B5"><circle cx="336.18" cy="721.81" r="11"/><circle cx="336.71" cy="721.82" r="11"/></g>
<g fill="#D0D0D0"><circle cx="337.23" cy="721.83" r="11"/><circle cx="337.76" cy="721.84" r="11"/></g>
<g fill="#D95F02"><circle cx="338.29" cy="721.86" r="11"/><circle cx="338.81" cy="721.87" r="11"/></g>
<g fill="#D0D0D0"><circle cx="339.34" cy="721.88" r="11"/><circle cx="339.86" cy="721.89" r="11"/></g>
<g fill="#0072B5"><circle cx="340.39" cy="721.9" r="11"/></g>
<g fill="#D95F02"><circle cx="340.91" cy="721.91" r="11"/><circle cx="341.44" cy="721.92" r="11"/></g>
<g fill="#0072B5"><circle cx="341.97" cy="721.93" r="11"/></g>
<g fill="#D0D0D0"><circle cx="342.49" cy="721.94" r="11"/></g>
<g fill="#D95F02"><circle cx="343.02" cy="721.96" r="11"/></g>
<g fill="#D0D0D0"><circle cx="343.54" cy="721.97" r="11"/></g>
<g fill="#D95F02"><circle cx="344.07" cy="721.98" r="11"/></g>
<g fill="#D0D0D0"><circle cx="344.6" cy="721.99" r="11"/></g>
<g fill="#0072B5"><circle cx="345.12" cy="722" r="11"/><circle cx="345.65" cy="722.01" r="11"/><circle cx="346.17" cy="722.02" r="11"/></g>
<g fill="#D0D0D0"><circle cx="346.7" cy="722.03" r="11"/><circle cx="347.22" cy="722.04" r="11"/></g>
<g fill="#D95F02"><circle cx="347.75" cy="722.06" r="11"/></g>
<g fill="#0072B5"><circle cx="348.28" cy="722.07" r="11"/></g>
<g fill="#D0D0D0"><circle cx="348.8" cy="722.08" r="11"/></g>
<g fill="#0072B5"><circle cx="349.33" cy="722.09" r="11"/></g>
<g fill="#D0D0D0"><circle cx="349.85" cy="722.1" r="11"/></g>
<g fill="#D95F02"><circle cx="350.38" cy="722.11" r="11"/></g>
<g fill="#0072B5"><circle cx="350.9" cy="722.12" r="11"/><circle cx="351.43" cy="722.13" r="11"/><circle cx="351.96" cy="722.14" r="11"/><circle cx="352.48" cy="722.16" r="11"/><circle cx="353.01" cy="722.17" r="11"/><circle cx="353.53" cy="722.18" r="11"/></g>
<g fill="#D95F02"><circle cx="354.06" cy="722.19" r="11"/></g>
<g fill="#D0D0D0"><circle cx="354.59" cy="722.2" r="11"/><circle cx="355.11" cy="722.21" r="11"/></g>
<g fill="#D95F02"><circle cx="355.64" cy="722.22" r="11"/><circle cx="356.16" cy="722.23" r="11"/></g>
<g fill="#D0D0D0"><circle cx="356.69" cy="722.24" r="11"/></g>
<g fill="#D95F02"><circle cx="357.21" cy="722.26" r="11"/></g>
<g fill="#0072B5"><circle cx="357.74" cy="722.27" r="11"/><circle cx="358.27" cy="722.28" r="11"/></g>
<g fill="#D0D0D0"><circle cx="358.79" cy="722.29" r="11"/></g>
<g fill="#0072B5"><circle cx="359.32" cy="722.3" r="11"/><circle cx="359.84" cy="722.31" r="11"/></g>
<g fill="#D95F02"><circle cx="360.37" cy="722.32" r="11"/><circle cx="360.9" cy="722.33" r="11"/><circle cx="361.42" cy="722.34" r="11"/><circle cx="361.95" cy="722.36" r="11"/><circle cx="362.47" cy="722.37" r="11"/><circle cx="363" cy="722.38" r="11"/><circle cx="363.52" cy="722.39" r="11"/><circle cx="364.05" cy="722.4" r="11"/><circle cx="364.58" cy="722.41" r="11"/><circle cx="365.1" cy="722.42" r="11"/><circle cx="365.63" cy="722.43" r="11"/><circle cx="366.15" cy="722.44" r="11"/><circle cx="366.68" cy="722.45" r="11"/><circle cx="367.2" cy="722.46" r="11"/><circle cx="367.73" cy="722.47" r="11"/><circle cx="368.26" cy="722.48" r="11"/><circle cx="368.78" cy="722.49" r="11"/><circle cx="369.31" cy="722.5" r="11"/><circle cx="369.83" cy="722.51" r="11"/><circle cx="370.36" cy="722.52" r="11"/></g>
<g fill="#0072B5"><circle cx="370.89" cy="722.52" r="11"/></g>
<g fill="#D0D0D0"><circle cx="371.41" cy="722.53" r="11"/><circle cx="371.94" cy="722.54" r="11"/><circle cx="372.46" cy="722.55" r="11"/><circle cx="372.99" cy="722.56" r="11"/><circle cx="373.51" cy="722.57" r="11"/></g>
<g fill="#0072B5"><circle cx="374.04" cy="722.58" r="11"/><circle cx="374.57" cy="722.59" r="11"/><circle cx="375.09" cy="722.6" r="11"/><circle cx="375.62" cy="722.61" r="11"/><circle cx="376.14" cy="722.62" r="11"/><circle cx="376.67" cy="722.63" r="11"/></g>
<g fill="#D95F02"><circle cx="377.19" cy="722.64" r="11"/></g>
<g fill="#0072B5"><circle cx="377.72" cy="722.65" r="11"/><circle cx="378.25" cy="722.66" r="11"/><circle cx="378.77" cy="722.67" r="11"/><circle cx="379.3" cy="722.68" r="11"/><circle cx="379.82" cy="722.69" r="11"/></g>
<g fill="#D0D0D0"><circle cx="380.35" cy="722.7" r="11"/></g>
<g fill="#0072B5"><circle cx="380.88" cy="722.71" r="11"/></g>
<g fill="#D0D0D0"><circle cx="381.4" cy="722.72" r="11"/></g>
<g fill="#0072B5"><circle cx="381.93" cy="722.73" r="11"/><circle cx="382.45" cy="722.74" r="11"/></g>
<g fill="#D0D0D0"><circle cx="382.98" cy="722.75" r="11"/><circle cx="383.5" cy="722.76" r="11"/></g>
<g fill="#0072B5"><circle cx="384.03" cy="722.77" r="11"/><circle cx="384.56" cy="722.77" r="11"/></g>
<g fill="#D0D0D0"><circle cx="385.08" cy="722.78" r="11"/></g>
<g fill="#D95F02"><circle cx="385.61" cy="722.79" r="11"/></g>
<g fill="#D0D0D0"><circle cx="386.13" cy="722.8" r="11"/></g>
<g fill="#0072B5"><circle cx="386.66" cy="722.81" r="11"/><circle cx="387.19" cy="722.82" r="11"/></g>
<g fill="#D0D0D0"><circle cx="387.71" cy="722.83" r="11"/></g>
<g fill="#0072B5"><circle cx="388.24" cy="722.84" r="11"/><circle cx="388.76" cy="722.85" r="11"/><circle cx="389.29" cy="722.86" r="11"/></g>
<g fill="#D0D0D0"><circle cx="389.81" cy="722.87" r="11"/></g>
<g fill="#D95F02"><circle cx="390.34" cy="723.37" r="11"/><circle cx="390.87" cy="723.37" r="11"/></g>
<g fill="#0072B5"><circle cx="391.39" cy="723.37" r="11"/><circle cx="391.92" cy="723.37" r="11"/><circle cx="392.44" cy="723.37" r="11"/><circle cx="392.97" cy="723.37" r="11"/><circle cx="393.49" cy="723.37" r="11"/><circle cx="394.02" cy="723.37" r="11"/><circle cx="394.55" cy="723.37" r="11"/></g>
<g fill="#D0D0D0"><circle cx="395.07" cy="723.37" r="11"/><circle cx="395.6" cy="723.37" r="11"/><circle cx="396.12" cy="723.37" r="11"/><circle cx="396.65" cy="723.37" r="11"/></g>
<g fill="#0072B5"><circle cx="397.18" cy="723.37" r="11"/></g>
<g fill="#D95F02"><circle cx="397.7" cy="723.38" r="11"/></g>
<g fill="#D0D0D0"><circle cx="398.23" cy="723.38" r="11"/></g>
<g fill="#0072B5"><circle cx="398.75" cy="723.38" r="11"/><circle cx="399.28" cy="723.38" r="11"/><circle cx="399.8" cy="723.38" r="11"/></g>
<g fill="#D0D0D0"><circle cx="400.33" cy="723.38" r="11"/></g>
<g fill="#0072B5"><circle cx="400.86" cy="723.38" r="11"/><circle cx="401.38" cy="723.38" r="11"/><circle cx="401.91" cy="723.38" r="11"/><circle cx="402.43" cy="723.38" r="11"/></g>
<g fill="#D95F02"><circle cx="402.96" cy="723.39" r="11"/></g>
<g fill="#0072B5"><circle cx="403.49" cy="723.39" r="11"/><circle cx="404.01" cy="723.39" r="11"/><circle cx="404.54" cy="723.39" r="11"/><circle cx="405.06" cy="723.39" r="11"/><circle cx="405.59" cy="723.39" r="11"/></g>
<g fill="#D95F02"><circle cx="406.11" cy="723.39" r="11"/></g>
<g fill="#D0D0D0"><circle cx="406.64" cy="723.39" r="11"/><circle cx="407.17" cy="723.39" r="11"/></g>
<g fill="#0072B5"><circle cx="407.69" cy="723.39" r="11"/><circle cx="408.22" cy="723.39" r="11"/><circle cx="408.74" cy="723.39" r="11"/></g>
<g fill="#D0D0D0"><circle cx="409.27" cy="723.39" r="11"/><circle cx="409.79" cy="723.39" r="11"/></g>
<g fill="#0072B5"><circle cx="410.32" cy="723.39" r="11"/><circle cx="410.85" cy="723.39" r="11"/><circle cx="411.37" cy="723.39" r="11"/></g>
</g>
<filter id="ba" filterUnits="userSpaceOnUse" x="195.9" y="11.3" width="827.5" height="745.7" color-interpolation-filters="sRGB"><feGaussianBlur stdDeviation="0.8"/></filter>
<filter id="wa" filterUnits="userSpaceOnUse" x="195.9" y="11.3" width="827.5" height="745.7" color-interpolation-filters="sRGB"><feColorMatrix type="matrix" values="0 0 0 0 1 0 0 0 0 1 0 0 0 0 1 0 0 0 1 0"/></filter>
<mask id="ma" maskUnits="userSpaceOnUse" x="195.9" y="11.3" width="827.5" height="745.7"><use href="#da" filter="url(#wa)"/></mask>
<g mask="url(#ma)" opacity="0.6"><use href="#da" filter="url(#ba)"/></g>
<g>
<g fill="#0072B5"><circle cx="411.9" cy="723.39" r="11"/></g>
<g fill="#D0D0D0"><circle cx="412.42" cy="723.4" r="11"/><circle cx="412.95" cy="723.4" r="11"/></g>
<g fill="#0072B5"><circle cx="413.48" cy="723.4" r="11"/><circle cx="414" cy="723.4" r="11"/><circle cx="414.53" cy="723.4" r="11"/><circle cx="415.05" cy="723.4" r="11"/><circle cx="415.58" cy="723.4" r="11"/><circle cx="416.1" cy="723.4" r="11"/><circle cx="416.63" cy="723.4" r="11"/><circle cx="417.16" cy="723.4" r="11"/><circle cx="417.68" cy="723.4" r="11"/><circle cx="418.21" cy="723.4" r="11"/><circle cx="418.73" cy="723.41" r="11"/><circle cx="419.26" cy="723.41" r="11"/><circle cx="419.78" cy="723.41" r="11"/><circle cx="420.31" cy="723.41" r="11"/><circle cx="420.84" cy="723.41" r="11"/><circle cx="421.36" cy="723.41" r="11"/></g>
<g fill="#D0D0D0"><circle cx="421.89" cy="723.41" r="11"/></g>
<g fill="#0072B5"><circle cx="422.41" cy="723.41" r="11"/><circle cx="422.94" cy="723.41" r="11"/><circle cx="423.47" cy="723.41" r="11"/><circle cx="423.99" cy="723.41" r="11"/><circle cx="424.52" cy="723.41" r="11"/></g>
<g fill="#D0D0D0"><circle cx="425.04" cy="723.41" r="11"/><circle cx="425.57" cy="723.41" r="11"/><circle cx="426.09" cy="723.41" r="11"/><circle cx="426.62" cy="723.41" r="11"/><circle cx="427.15" cy="723.41" r="11"/></g>
<g fill="#0072B5"><circle cx="427.67" cy="723.41" r="11"/><circle cx="428.2" cy="723.41" r="11"/></g>
<g fill="#D0D0D0"><circle cx="428.72" cy="723.42" r="11"/><circle cx="429.25" cy="723.42" r="11"/></g>
<g fill="#0072B5"><circle cx="429.77" cy="723.42" r="11"/><circle cx="430.3" cy="723.42" r="11"/><circle cx="430.83" cy="723.42" r="11"/><circle cx="431.35" cy="723.42" r="11"/><circle cx="431.88" cy="723.42" r="11"/></g>
<g fill="#D0D0D0"><circle cx="432.4" cy="723.42" r="11"/></g>
<g fill="#0072B5"><circle cx="432.93" cy="723.42" r="11"/><circle cx="433.46" cy="723.42" r="11"/><circle cx="433.98" cy="723.42" r="11"/><circle cx="434.51" cy="723.42" r="11"/><circle cx="435.03" cy="723.42" r="11"/><circle cx="435.56" cy="723.42" r="11"/></g>
<g fill="#D0D0D0"><circle cx="436.08" cy="723.43" r="11"/><circle cx="436.61" cy="723.43" r="11"/><circle cx="437.14" cy="723.43" r="11"/><circle cx="437.66" cy="723.43" r="11"/></g>
<g fill="#0072B5"><circle cx="438.19" cy="723.43" r="11"/><circle cx="438.71" cy="723.43" r="11"/><circle cx="439.24" cy="723.43" r="11"/></g>
<g fill="#D95F02"><circle cx="439.77" cy="723.43" r="11"/><circle cx="440.29" cy="723.43" r="11"/></g>
<g fill="#D0D0D0"><circle cx="440.82" cy="723.43" r="11"/></g>
<g fill="#0072B5"><circle cx="441.34" cy="723.43" r="11"/><circle cx="441.87" cy="723.43" r="11"/><circle cx="442.39" cy="723.43" r="11"/><circle cx="442.92" cy="723.43" r="11"/></g>
<g fill="#D95F02"><circle cx="443.45" cy="723.44" r="11"/></g>
<g fill="#D0D0D0"><circle cx="443.97" cy="723.44" r="11"/><circle cx="444.5" cy="723.44" r="11"/><circle cx="445.02" cy="723.44" r="11"/></g>
<g fill="#0072B5"><circle cx="445.55" cy="723.44" r="11"/><circle cx="446.07" cy="723.44" r="11"/><circle cx="446.6" cy="723.44" r="11"/><circle cx="447.13" cy="723.44" r="11"/></g>
<g fill="#D0D0D0"><circle cx="447.65" cy="723.44" r="11"/><circle cx="448.18" cy="723.44" r="11"/><circle cx="448.7" cy="723.44" r="11"/><circle cx="449.23" cy="723.44" r="11"/></g>
<g fill="#0072B5"><circle cx="449.76" cy="723.44" r="11"/><circle cx="450.28" cy="723.44" r="11"/><circle cx="450.81" cy="723.44" r="11"/><circle cx="451.33" cy="723.44" r="11"/></g>
<g fill="#D0D0D0"><circle cx="451.86" cy="723.44" r="11"/><circle cx="452.38" cy="723.44" r="11"/><circle cx="452.91" cy="723.44" r="11"/></g>
<g fill="#0072B5"><circle cx="453.44" cy="723.44" r="11"/><circle cx="453.96" cy="723.44" r="11"/><circle cx="454.49" cy="723.44" r="11"/><circle cx="455.01" cy="723.44" r="11"/><circle cx="455.54" cy="723.44" r="11"/></g>
<g fill="#D0D0D0"><circle cx="456.07" cy="723.45" r="11"/><circle cx="456.59" cy="723.45" r="11"/><circle cx="457.12" cy="723.45" r="11"/></g>
<g fill="#0072B5"><circle cx="457.64" cy="723.45" r="11"/><circle cx="458.17" cy="723.45" r="11"/><circle cx="458.69" cy="723.45" r="11"/><circle cx="459.22" cy="723.45" r="11"/><circle cx="459.75" cy="723.45" r="11"/></g>
<g fill="#D0D0D0"><circle cx="460.27" cy="723.45" r="11"/><circle cx="460.8" cy="723.45" r="11"/><circle cx="461.32" cy="723.45" r="11"/><circle cx="461.85" cy="723.45" r="11"/><circle cx="462.37" cy="723.45" r="11"/></g>
<g fill="#0072B5"><circle cx="462.9" cy="723.45" r="11"/><circle cx="463.43" cy="723.45" r="11"/><circle cx="463.95" cy="723.45" r="11"/></g>
<g fill="#D0D0D0"><circle cx="464.48" cy="723.46" r="11"/><circle cx="465" cy="723.46" r="11"/><circle cx="465.53" cy="723.46" r="11"/><circle cx="466.06" cy="723.46" r="11"/><circle cx="466.58" cy="723.46" r="11"/><circle cx="467.11" cy="723.46" r="11"/></g>
<g fill="#0072B5"><circle cx="467.63" cy="723.46" r="11"/><circle cx="468.16" cy="723.46" r="11"/><circle cx="468.68" cy="723.46" r="11"/></g>
<g fill="#D95F02"><circle cx="469.21" cy="723.46" r="11"/><circle cx="469.74" cy="723.46" r="11"/></g>
<g fill="#D0D0D0"><circle cx="470.26" cy="723.46" r="11"/><circle cx="470.79" cy="723.46" r="11"/><circle cx="471.31" cy="723.46" r="11"/></g>
<g fill="#0072B5"><circle cx="471.84" cy="723.46" r="11"/><circle cx="472.36" cy="723.46" r="11"/><circle cx="472.89" cy="723.46" r="11"/><circle cx="473.42" cy="723.46" r="11"/><circle cx="473.94" cy="723.46" r="11"/><circle cx="474.47" cy="723.46" r="11"/><circle cx="474.99" cy="723.46" r="11"/><circle cx="475.52" cy="723.46" r="11"/><circle cx="476.05" cy="723.46" r="11"/><circle cx="476.57" cy="723.46" r="11"/><circle cx="477.1" cy="723.46" r="11"/><circle cx="477.62" cy="723.46" r="11"/><circle cx="478.15" cy="723.46" r="11"/></g>
<g fill="#D0D0D0"><circle cx="478.67" cy="723.47" r="11"/><circle cx="479.2" cy="723.47" r="11"/><circle cx="479.73" cy="723.47" r="11"/></g>
<g fill="#0072B5"><circle cx="480.25" cy="723.47" r="11"/><circle cx="480.78" cy="723.47" r="11"/><circle cx="481.3" cy="723.47" r="11"/><circle cx="481.83" cy="723.47" r="11"/><circle cx="482.36" cy="723.47" r="11"/><circle cx="482.88" cy="723.47" r="11"/></g>
<g fill="#D0D0D0"><circle cx="483.41" cy="723.47" r="11"/><circle cx="483.93" cy="723.47" r="11"/><circle cx="484.46" cy="723.47" r="11"/><circle cx="484.98" cy="723.47" r="11"/><circle cx="485.51" cy="723.47" r="11"/><circle cx="486.04" cy="723.47" r="11"/></g>
<g fill="#0072B5"><circle cx="486.56" cy="723.47" r="11"/><circle cx="487.09" cy="723.47" r="11"/><circle cx="487.61" cy="723.47" r="11"/></g>
<g fill="#D0D0D0"><circle cx="488.14" cy="723.48" r="11"/><circle cx="488.66" cy="723.48" r="11"/><circle cx="489.19" cy="723.48" r="11"/><circle cx="489.72" cy="723.48" r="11"/></g>
<g fill="#0072B5"><circle cx="490.24" cy="723.48" r="11"/><circle cx="490.77" cy="723.48" r="11"/><circle cx="491.29" cy="723.48" r="11"/><circle cx="491.82" cy="723.48" r="11"/><circle cx="492.35" cy="723.48" r="11"/><circle cx="492.87" cy="723.48" r="11"/></g>
<g fill="#D95F02"><circle cx="493.4" cy="723.48" r="11"/><circle cx="493.92" cy="723.48" r="11"/></g>
<g fill="#D0D0D0"><circle cx="494.45" cy="723.48" r="11"/><circle cx="494.97" cy="723.48" r="11"/><circle cx="495.5" cy="723.48" r="11"/></g>
<g fill="#0072B5"><circle cx="496.03" cy="723.48" r="11"/><circle cx="496.55" cy="723.48" r="11"/><circle cx="497.08" cy="723.48" r="11"/><circle cx="497.6" cy="723.48" r="11"/><circle cx="498.13" cy="723.48" r="11"/></g>
<g fill="#D95F02"><circle cx="498.65" cy="723.48" r="11"/></g>
<g fill="#D0D0D0"><circle cx="499.18" cy="723.48" r="11"/><circle cx="499.71" cy="723.48" r="11"/><circle cx="500.23" cy="723.48" r="11"/></g>
<g fill="#0072B5"><circle cx="500.76" cy="723.48" r="11"/><circle cx="501.28" cy="723.48" r="11"/><circle cx="501.81" cy="723.48" r="11"/><circle cx="502.34" cy="723.48" r="11"/><circle cx="502.86" cy="723.48" r="11"/><circle cx="503.39" cy="723.48" r="11"/></g>
<g fill="#D0D0D0"><circle cx="503.91" cy="723.49" r="11"/><circle cx="504.44" cy="723.49" r="11"/><circle cx="504.96" cy="723.49" r="11"/></g>
<g fill="#0072B5"><circle cx="505.49" cy="723.49" r="11"/><circle cx="506.02" cy="723.49" r="11"/><circle cx="506.54" cy="723.49" r="11"/><circle cx="507.07" cy="723.49" r="11"/><circle cx="507.59" cy="723.49" r="11"/><circle cx="508.12" cy="723.49" r="11"/><circle cx="508.64" cy="723.49" r="11"/></g>
<g fill="#D0D0D0"><circle cx="509.17" cy="723.49" r="11"/></g>
<g fill="#0072B5"><circle cx="509.7" cy="723.49" r="11"/><circle cx="510.22" cy="723.49" r="11"/><circle cx="510.75" cy="723.49" r="11"/><circle cx="511.27" cy="723.49" r="11"/><circle cx="511.8" cy="723.49" r="11"/><circle cx="512.33" cy="723.49" r="11"/><circle cx="512.85" cy="723.49" r="11"/><circle cx="513.38" cy="723.49" r="11"/><circle cx="513.9" cy="723.49" r="11"/><circle cx="514.43" cy="723.49" r="11"/></g>
<g fill="#D95F02"><circle cx="514.95" cy="723.5" r="11"/></g>
<g fill="#D0D0D0"><circle cx="515.48" cy="723.5" r="11"/><circle cx="516.01" cy="723.5" r="11"/><circle cx="516.53" cy="723.5" r="11"/></g>
<g fill="#0072B5"><circle cx="517.06" cy="723.5" r="11"/><circle cx="517.58" cy="723.5" r="11"/><circle cx="518.11" cy="723.5" r="11"/><circle cx="518.64" cy="723.5" r="11"/><circle cx="519.16" cy="723.5" r="11"/><circle cx="519.69" cy="723.5" r="11"/><circle cx="520.21" cy="723.5" r="11"/></g>
<g fill="#D95F02"><circle cx="520.74" cy="723.5" r="11"/></g>
<g fill="#D0D0D0"><circle cx="521.26" cy="723.5" r="11"/><circle cx="521.79" cy="723.5" r="11"/></g>
<g fill="#0072B5"><circle cx="522.32" cy="723.5" r="11"/><circle cx="522.84" cy="723.5" r="11"/><circle cx="523.37" cy="723.5" r="11"/><circle cx="523.89" cy="723.5" r="11"/><circle cx="524.42" cy="723.5" r="11"/><circle cx="524.94" cy="723.5" r="11"/><circle cx="525.47" cy="723.5" r="11"/><circle cx="526" cy="723.5" r="11"/></g>
<g fill="#D0D0D0"><circle cx="526.52" cy="723.51" r="11"/><circle cx="527.05" cy="723.51" r="11"/><circle cx="527.57" cy="723.51" r="11"/></g>
<g fill="#0072B5"><circle cx="528.1" cy="723.51" r="11"/><circle cx="528.63" cy="723.51" r="11"/><circle cx="529.15" cy="723.51" r="11"/><circle cx="529.68" cy="723.51" r="11"/><circle cx="530.2" cy="723.51" r="11"/><circle cx="530.73" cy="723.51" r="11"/><circle cx="531.25" cy="723.51" r="11"/><circle cx="531.78" cy="723.51" r="11"/><circle cx="532.31" cy="723.51" r="11"/></g>
<g fill="#D95F02"><circle cx="532.83" cy="723.51" r="11"/></g>
<g fill="#D0D0D0"><circle cx="533.36" cy="723.51" r="11"/><circle cx="533.88" cy="723.51" r="11"/><circle cx="534.41" cy="723.51" r="11"/><circle cx="534.94" cy="723.51" r="11"/><circle cx="535.46" cy="723.51" r="11"/><circle cx="535.99" cy="723.51" r="11"/></g>
<g fill="#0072B5"><circle cx="536.51" cy="723.51" r="11"/><circle cx="537.04" cy="723.51" r="11"/><circle cx="537.56" cy="723.51" r="11"/><circle cx="538.09" cy="723.51" r="11"/><circle cx="538.62" cy="723.51" r="11"/></g>
<g fill="#D95F02"><circle cx="539.14" cy="723.51" r="11"/></g>
<g fill="#D0D0D0"><circle cx="539.67" cy="723.51" r="11"/><circle cx="540.19" cy="723.51" r="11"/><circle cx="540.72" cy="723.51" r="11"/></g>
<g fill="#0072B5"><circle cx="541.24" cy="723.51" r="11"/><circle cx="541.77" cy="723.51" r="11"/><circle cx="542.3" cy="723.51" r="11"/><circle cx="542.82" cy="723.51" r="11"/><circle cx="543.35" cy="723.51" r="11"/><circle cx="543.87" cy="723.51" r="11"/><circle cx="544.4" cy="723.51" r="11"/><circle cx="544.93" cy="723.51" r="11"/></g>
<g fill="#D0D0D0"><circle cx="545.45" cy="723.52" r="11"/><circle cx="545.98" cy="723.52" r="11"/><circle cx="546.5" cy="723.52" r="11"/><circle cx="547.03" cy="723.52" r="11"/><circle cx="547.55" cy="723.52" r="11"/></g>
<g fill="#0072B5"><circle cx="548.08" cy="723.52" r="11"/><circle cx="548.61" cy="723.52" r="11"/><circle cx="549.13" cy="723.52" r="11"/><circle cx="549.66" cy="723.52" r="11"/><circle cx="550.18" cy="723.52" r="11"/><circle cx="550.71" cy="723.52" r="11"/><circle cx="551.23" cy="723.52" r="11"/></g>
<g fill="#D95F02"><circle cx="551.76" cy="723.52" r="11"/><circle cx="552.29" cy="723.52" r="11"/></g>
<g fill="#D0D0D0"><circle cx="552.81" cy="723.52" r="11"/><circle cx="553.34" cy="723.52" r="11"/><circle cx="553.86" cy="723.52" r="11"/></g>
<g fill="#0072B5"><circle cx="554.39" cy="723.52" r="11"/><circle cx="554.92" cy="723.52" r="11"/><circle cx="555.44" cy="723.52" r="11"/><circle cx="555.97" cy="723.52" r="11"/><circle cx="556.49" cy="723.52" r="11"/><circle cx="557.02" cy="723.52" r="11"/><circle cx="557.54" cy="723.52" r="11"/><circle cx="558.07" cy="723.52" r="11"/></g>
<g fill="#D95F02"><circle cx="558.6" cy="723.53" r="11"/></g>
<g fill="#D0D0D0"><circle cx="559.12" cy="723.53" r="11"/><circle cx="559.65" cy="723.53" r="11"/><circle cx="560.17" cy="723.53" r="11"/></g>
<g fill="#0072B5"><circle cx="560.7" cy="723.53" r="11"/><circle cx="561.23" cy="723.53" r="11"/><circle cx="561.75" cy="723.53" r="11"/><circle cx="562.28" cy="723.53" r="11"/><circle cx="562.8" cy="723.53" r="11"/><circle cx="563.33" cy="723.53" r="11"/><circle cx="563.85" cy="723.53" r="11"/><circle cx="564.38" cy="723.53" r="11"/><circle cx="564.91" cy="723.53" r="11"/></g>
<g fill="#D0D0D0"><circle cx="565.43" cy="723.53" r="11"/><circle cx="565.96" cy="723.53" r="11"/><circle cx="566.48" cy="723.53" r="11"/><circle cx="567.01" cy="723.53" r="11"/><circle cx="567.53" cy="723.53" r="11"/><circle cx="568.06" cy="723.53" r="11"/></g>
<g fill="#0072B5"><circle cx="568.59" cy="723.53" r="11"/><circle cx="569.11" cy="723.53" r="11"/><circle cx="569.64" cy="723.53" r="11"/><circle cx="570.16" cy="723.53" r="11"/><circle cx="570.69" cy="723.53" r="11"/><circle cx="571.22" cy="723.53" r="11"/><circle cx="571.74" cy="723.53" r="11"/></g>
<g fill="#D0D0D0"><circle cx="572.27" cy="723.53" r="11"/><circle cx="572.79" cy="723.53" r="11"/></g>
<g fill="#0072B5"><circle cx="573.32" cy="723.53" r="11"/><circle cx="573.84" cy="723.53" r="11"/><circle cx="574.37" cy="723.53" r="11"/><circle cx="574.9" cy="723.53" r="11"/><circle cx="575.42" cy="723.53" r="11"/><circle cx="575.95" cy="723.53" r="11"/><circle cx="576.47" cy="723.53" r="11"/><circle cx="577" cy="723.53" r="11"/><circle cx="577.52" cy="723.53" r="11"/><circle cx="578.05" cy="723.53" r="11"/><circle cx="578.58" cy="723.53" r="11"/><circle cx="579.1" cy="723.53" r="11"/></g>
<g fill="#D0D0D0"><circle cx="579.63" cy="723.54" r="11"/><circle cx="580.15" cy="723.54" r="11"/><circle cx="580.68" cy="723.54" r="11"/><circle cx="581.21" cy="723.54" r="11"/><circle cx="581.73" cy="723.54" r="11"/><circle cx="582.26" cy="723.54" r="11"/></g>
<g fill="#0072B5"><circle cx="582.78" cy="723.54" r="11"/><circle cx="583.31" cy="723.54" r="11"/><circle cx="583.83" cy="723.54" r="11"/><circle cx="584.36" cy="723.54" r="11"/><circle cx="584.89" cy="723.54" r="11"/><circle cx="585.41" cy="723.54" r="11"/><circle cx="585.94" cy="723.54" r="11"/><circle cx="586.46" cy="723.54" r="11"/></g>
<g fill="#D0D0D0"><circle cx="586.99" cy="723.54" r="11"/><circle cx="587.51" cy="723.54" r="11"/><circle cx="588.04" cy="723.54" r="11"/><circle cx="588.57" cy="723.54" r="11"/><circle cx="589.09" cy="723.54" r="11"/><circle cx="589.62" cy="723.54" r="11"/><circle cx="590.14" cy="723.54" r="11"/></g>
<g fill="#0072B5"><circle cx="590.67" cy="723.54" r="11"/><circle cx="591.2" cy="723.54" r="11"/><circle cx="591.72" cy="723.54" r="11"/><circle cx="592.25" cy="723.54" r="11"/><circle cx="592.77" cy="723.54" r="11"/><circle cx="593.3" cy="723.54" r="11"/><circle cx="593.82" cy="723.54" r="11"/></g>
<g fill="#D95F02"><circle cx="594.35" cy="723.55" r="11"/><circle cx="594.88" cy="723.55" r="11"/></g>
<g fill="#D0D0D0"><circle cx="595.4" cy="723.55" r="11"/><circle cx="595.93" cy="723.55" r="11"/><circle cx="596.45" cy="723.55" r="11"/><circle cx="596.98" cy="723.55" r="11"/><circle cx="597.51" cy="723.55" r="11"/><circle cx="598.03" cy="723.55" r="11"/><circle cx="598.56" cy="723.55" r="11"/><circle cx="599.08" cy="723.55" r="11"/><circle cx="599.61" cy="723.55" r="11"/><circle cx="600.13" cy="723.55" r="11"/></g>
<g fill="#0072B5"><circle cx="600.66" cy="723.55" r="11"/><circle cx="601.19" cy="723.55" r="11"/><circle cx="601.71" cy="723.55" r="11"/><circle cx="602.24" cy="723.55" r="11"/><circle cx="602.76" cy="723.55" r="11"/><circle cx="603.29" cy="723.55" r="11"/><circle cx="603.81" cy="723.55" r="11"/><circle cx="604.34" cy="723.55" r="11"/><circle cx="604.87" cy="723.55" r="11"/><circle cx="605.39" cy="723.55" r="11"/><circle cx="605.92" cy="723.55" r="11"/><circle cx="606.44" cy="723.55" r="11"/><circle cx="606.97" cy="723.55" r="11"/><circle cx="607.5" cy="723.55" r="11"/><circle cx="608.02" cy="723.55" r="11"/><circle cx="608.55" cy="723.55" r="11"/><circle cx="609.07" cy="723.55" r="11"/><circle cx="609.6" cy="723.55" r="11"/><circle cx="610.12" cy="723.55" r="11"/><circle cx="610.65" cy="723.55" r="11"/></g>
<g fill="#D95F02"><circle cx="611.18" cy="723.55" r="11"/></g>
<g fill="#D0D0D0"><circle cx="611.7" cy="723.55" r="11"/><circle cx="612.23" cy="723.55" r="11"/><circle cx="612.75" cy="723.55" r="11"/></g>
<g fill="#0072B5"><circle cx="613.28" cy="723.55" r="11"/><circle cx="613.81" cy="723.55" r="11"/><circle cx="614.33" cy="723.55" r="11"/><circle cx="614.86" cy="723.55" r="11"/><circle cx="615.38" cy="723.55" r="11"/><circle cx="615.91" cy="723.55" r="11"/><circle cx="616.43" cy="723.55" r="11"/><circle cx="616.96" cy="723.55" r="11"/><circle cx="617.49" cy="723.55" r="11"/><circle cx="618.01" cy="723.55" r="11"/><circle cx="618.54" cy="723.55" r="11"/><circle cx="619.06" cy="723.55" r="11"/><circle cx="619.59" cy="723.55" r="11"/></g>
<g fill="#D95F02"><circle cx="620.11" cy="723.55" r="11"/><circle cx="620.64" cy="723.55" r="11"/></g>
<g fill="#D0D0D0"><circle cx="621.17" cy="723.55" r="11"/><circle cx="621.69" cy="723.55" r="11"/><circle cx="622.22" cy="723.55" r="11"/><circle cx="622.74" cy="723.55" r="11"/><circle cx="623.27" cy="723.55" r="11"/><circle cx="623.8" cy="723.55" r="11"/><circle cx="624.32" cy="723.55" r="11"/><circle cx="624.85" cy="723.55" r="11"/></g>
<g fill="#0072B5"><circle cx="625.37" cy="723.55" r="11"/><circle cx="625.9" cy="723.55" r="11"/><circle cx="626.42" cy="723.55" r="11"/><circle cx="626.95" cy="723.55" r="11"/><circle cx="627.48" cy="723.55" r="11"/><circle cx="628" cy="723.55" r="11"/><circle cx="628.53" cy="723.55" r="11"/><circle cx="629.05" cy="723.55" r="11"/><circle cx="629.58" cy="723.55" r="11"/></g>
<g fill="#D95F02"><circle cx="630.1" cy="723.56" r="11"/></g>
<g fill="#D0D0D0"><circle cx="630.63" cy="723.56" r="11"/><circle cx="631.16" cy="723.56" r="11"/><circle cx="631.68" cy="723.56" r="11"/><circle cx="632.21" cy="723.56" r="11"/><circle cx="632.73" cy="723.56" r="11"/></g>
<g fill="#0072B5"><circle cx="633.26" cy="723.56" r="11"/><circle cx="633.79" cy="723.56" r="11"/><circle cx="634.31" cy="723.56" r="11"/><circle cx="634.84" cy="723.56" r="11"/><circle cx="635.36" cy="723.56" r="11"/><circle cx="635.89" cy="723.56" r="11"/><circle cx="636.41" cy="723.56" r="11"/><circle cx="636.94" cy="723.56" r="11"/><circle cx="637.47" cy="723.56" r="11"/><circle cx="637.99" cy="723.56" r="11"/><circle cx="638.52" cy="723.56" r="11"/><circle cx="639.04" cy="723.56" r="11"/><circle cx="639.57" cy="723.56" r="11"/><circle cx="640.1" cy="723.56" r="11"/><circle cx="640.62" cy="723.56" r="11"/><circle cx="641.15" cy="723.56" r="11"/><circle cx="641.67" cy="723.56" r="11"/><circle cx="642.2" cy="723.56" r="11"/><circle cx="642.72" cy="723.56" r="11"/><circle cx="643.25" cy="723.56" r="11"/><circle cx="643.78" cy="723.56" r="11"/><circle cx="644.3" cy="723.56" r="11"/><circle cx="644.83" cy="723.56" r="11"/></g>
<g fill="#D0D0D0"><circle cx="645.35" cy="723.56" r="11"/><circle cx="645.88" cy="723.56" r="11"/><circle cx="646.4" cy="723.56" r="11"/><circle cx="646.93" cy="723.56" r="11"/><circle cx="647.46" cy="723.56" r="11"/></g>
<g fill="#0072B5"><circle cx="647.98" cy="723.56" r="11"/><circle cx="648.51" cy="723.56" r="11"/><circle cx="649.03" cy="723.56" r="11"/><circle cx="649.56" cy="723.56" r="11"/><circle cx="650.09" cy="723.56" r="11"/><circle cx="650.61" cy="723.56" r="11"/><circle cx="651.14" cy="723.56" r="11"/><circle cx="651.66" cy="723.56" r="11"/><circle cx="652.19" cy="723.56" r="11"/><circle cx="652.71" cy="723.56" r="11"/><circle cx="653.24" cy="723.56" r="11"/><circle cx="653.77" cy="723.56" r="11"/><circle cx="654.29" cy="723.56" r="11"/><circle cx="654.82" cy="723.56" r="11"/><circle cx="655.34" cy="723.56" r="11"/><circle cx="655.87" cy="723.56" r="11"/><circle cx="656.39" cy="723.56" r="11"/><circle cx="656.92" cy="723.56" r="11"/><circle cx="657.45" cy="723.56" r="11"/><circle cx="657.97" cy="723.56" r="11"/><circle cx="658.5" cy="723.56" r="11"/><circle cx="659.02" cy="723.56" r="11"/><circle cx="659.55" cy="723.56" r="11"/><circle cx="660.08" cy="723.56" r="11"/><circle cx="660.6" cy="723.56" r="11"/><circle cx="661.13" cy="723.56" r="11"/><circle cx="661.65" cy="723.56" r="11"/></g>
<g fill="#D95F02"><circle cx="662.18" cy="723.57" r="11"/></g>
<g fill="#D0D0D0"><circle cx="662.7" cy="723.57" r="11"/><circle cx="663.23" cy="723.57" r="11"/><circle cx="663.76" cy="723.57" r="11"/><circle cx="664.28" cy="723.57" r="11"/></g>
<g fill="#0072B5"><circle cx="664.81" cy="723.57" r="11"/><circle cx="665.33" cy="723.57" r="11"/><circle cx="665.86" cy="723.57" r="11"/><circle cx="666.38" cy="723.57" r="11"/><circle cx="666.91" cy="723.57" r="11"/><circle cx="667.44" cy="723.57" r="11"/><circle cx="667.96" cy="723.57" r="11"/><circle cx="668.49" cy="723.57" r="11"/><circle cx="669.01" cy="723.57" r="11"/><circle cx="669.54" cy="723.57" r="11"/><circle cx="670.07" cy="723.57" r="11"/><circle cx="670.59" cy="723.57" r="11"/><circle cx="671.12" cy="723.57" r="11"/><circle cx="671.64" cy="723.57" r="11"/><circle cx="672.17" cy="723.57" r="11"/><circle cx="672.69" cy="723.57" r="11"/><circle cx="673.22" cy="723.57" r="11"/><circle cx="673.75" cy="723.57" r="11"/><circle cx="674.27" cy="723.57" r="11"/><circle cx="674.8" cy="723.57" r="11"/></g>
<g fill="#D0D0D0"><circle cx="675.32" cy="723.57" r="11"/><circle cx="675.85" cy="723.57" r="11"/><circle cx="676.38" cy="723.57" r="11"/><circle cx="676.9" cy="723.57" r="11"/><circle cx="677.43" cy="723.57" r="11"/></g>
<g fill="#0072B5"><circle cx="677.95" cy="723.57" r="11"/><circle cx="678.48" cy="723.57" r="11"/><circle cx="679" cy="723.57" r="11"/><circle cx="679.53" cy="723.57" r="11"/><circle cx="680.06" cy="723.57" r="11"/><circle cx="680.58" cy="723.57" r="11"/><circle cx="681.11" cy="723.57" r="11"/><circle cx="681.63" cy="723.57" r="11"/><circle cx="682.16" cy="723.57" r="11"/><circle cx="682.68" cy="723.57" r="11"/><circle cx="683.21" cy="723.57" r="11"/><circle cx="683.74" cy="723.57" r="11"/><circle cx="684.26" cy="723.57" r="11"/><circle cx="684.79" cy="723.57" r="11"/><circle cx="685.31" cy="723.57" r="11"/><circle cx="685.84" cy="723.57" r="11"/><circle cx="686.37" cy="723.57" r="11"/><circle cx="686.89" cy="723.57" r="11"/><circle cx="687.42" cy="723.57" r="11"/><circle cx="687.94" cy="723.57" r="11"/><circle cx="688.47" cy="723.57" r="11"/><circle cx="688.99" cy="723.57" r="11"/><circle cx="689.52" cy="723.57" r="11"/><circle cx="690.05" cy="723.57" r="11"/></g>
<g fill="#D95F02"><circle cx="690.57" cy="723.58" r="11"/></g>
<g fill="#D0D0D0"><circle cx="691.1" cy="723.58" r="11"/><circle cx="691.62" cy="723.58" r="11"/><circle cx="692.15" cy="723.58" r="11"/><circle cx="692.68" cy="723.58" r="11"/></g>
<g fill="#0072B5"><circle cx="693.2" cy="723.58" r="11"/><circle cx="693.73" cy="723.58" r="11"/><circle cx="694.25" cy="723.58" r="11"/><circle cx="694.78" cy="723.58" r="11"/><circle cx="695.3" cy="723.58" r="11"/><circle cx="695.83" cy="723.58" r="11"/><circle cx="696.36" cy="723.58" r="11"/><circle cx="696.88" cy="723.58" r="11"/><circle cx="697.41" cy="723.58" r="11"/><circle cx="697.93" cy="723.58" r="11"/><circle cx="698.46" cy="723.58" r="11"/><circle cx="698.98" cy="723.58" r="11"/><circle cx="699.51" cy="723.58" r="11"/><circle cx="700.04" cy="723.58" r="11"/><circle cx="700.56" cy="723.58" r="11"/></g>
<g fill="#D95F02"><circle cx="701.09" cy="723.58" r="11"/></g>
<g fill="#D0D0D0"><circle cx="701.61" cy="723.58" r="11"/><circle cx="702.14" cy="723.58" r="11"/><circle cx="702.67" cy="723.58" r="11"/><circle cx="703.19" cy="723.58" r="11"/><circle cx="703.72" cy="723.58" r="11"/></g>
<g fill="#0072B5"><circle cx="704.24" cy="723.58" r="11"/><circle cx="704.77" cy="723.58" r="11"/><circle cx="705.29" cy="723.58" r="11"/><circle cx="705.82" cy="723.58" r="11"/><circle cx="706.35" cy="723.58" r="11"/><circle cx="706.87" cy="723.58" r="11"/><circle cx="707.4" cy="723.58" r="11"/><circle cx="707.92" cy="723.58" r="11"/><circle cx="708.45" cy="723.58" r="11"/><circle cx="708.97" cy="723.58" r="11"/><circle cx="709.5" cy="723.58" r="11"/><circle cx="710.03" cy="723.58" r="11"/><circle cx="710.55" cy="723.58" r="11"/><circle cx="711.08" cy="723.58" r="11"/><circle cx="711.6" cy="723.58" r="11"/><circle cx="712.13" cy="723.58" r="11"/><circle cx="712.66" cy="723.58" r="11"/><circle cx="713.18" cy="723.58" r="11"/><circle cx="713.71" cy="723.58" r="11"/><circle cx="714.23" cy="723.58" r="11"/><circle cx="714.76" cy="723.58" r="11"/><circle cx="715.28" cy="723.58" r="11"/><circle cx="715.81" cy="723.58" r="11"/><circle cx="716.34" cy="723.58" r="11"/><circle cx="716.86" cy="723.58" r="11"/></g>
<g fill="#D95F02"><circle cx="717.39" cy="723.58" r="11"/><circle cx="717.91" cy="723.58" r="11"/><circle cx="718.44" cy="723.58" r="11"/></g>
<g fill="#D0D0D0"><circle cx="718.97" cy="723.58" r="11"/><circle cx="719.49" cy="723.58" r="11"/><circle cx="720.02" cy="723.58" r="11"/><circle cx="720.54" cy="723.58" r="11"/><circle cx="721.07" cy="723.58" r="11"/><circle cx="721.59" cy="723.58" r="11"/><circle cx="722.12" cy="723.58" r="11"/><circle cx="722.65" cy="723.58" r="11"/><circle cx="723.17" cy="723.58" r="11"/><circle cx="723.7" cy="723.58" r="11"/><circle cx="724.22" cy="723.58" r="11"/><circle cx="724.75" cy="723.58" r="11"/><circle cx="725.27" cy="723.58" r="11"/></g>
<g fill="#0072B5"><circle cx="725.8" cy="723.58" r="11"/><circle cx="726.33" cy="723.58" r="11"/><circle cx="726.85" cy="723.58" r="11"/><circle cx="727.38" cy="723.58" r="11"/><circle cx="727.9" cy="723.58" r="11"/><circle cx="728.43" cy="723.58" r="11"/><circle cx="728.96" cy="723.58" r="11"/><circle cx="729.48" cy="723.58" r="11"/><circle cx="730.01" cy="723.58" r="11"/><circle cx="730.53" cy="723.58" r="11"/><circle cx="731.06" cy="723.58" r="11"/><circle cx="731.58" cy="723.58" r="11"/><circle cx="732.11" cy="723.58" r="11"/><circle cx="732.64" cy="723.58" r="11"/><circle cx="733.16" cy="723.58" r="11"/><circle cx="733.69" cy="723.58" r="11"/><circle cx="734.21" cy="723.58" r="11"/><circle cx="734.74" cy="723.58" r="11"/><circle cx="735.26" cy="723.58" r="11"/><circle cx="735.79" cy="723.58" r="11"/><circle cx="736.32" cy="723.58" r="11"/><circle cx="736.84" cy="723.58" r="11"/><circle cx="737.37" cy="723.58" r="11"/><circle cx="737.89" cy="723.58" r="11"/><circle cx="738.42" cy="723.58" r="11"/><circle cx="738.95" cy="723.58" r="11"/><circle cx="739.47" cy="723.58" r="11"/><circle cx="740" cy="723.58" r="11"/><circle cx="740.52" cy="723.58" r="11"/><circle cx="741.05" cy="723.58" r="11"/><circle cx="741.57" cy="723.58" r="11"/><circle cx="742.1" cy="723.58" r="11"/><circle cx="742.63" cy="723.58" r="11"/><circle cx="743.15" cy="723.58" r="11"/><circle cx="743.68" cy="723.58" r="11"/><circle cx="744.2" cy="723.58" r="11"/><circle cx="744.73" cy="723.58" r="11"/><circle cx="745.26" cy="723.58" r="11"/><circle cx="745.78" cy="723.58" r="11"/><circle cx="746.31" cy="723.58" r="11"/><circle cx="746.83" cy="723.58" r="11"/><circle cx="747.36" cy="723.58" r="11"/><circle cx="747.88" cy="723.58" r="11"/><circle cx="748.41" cy="723.58" r="11"/></g>
<g fill="#D95F02"><circle cx="748.94" cy="723.59" r="11"/><circle cx="749.46" cy="723.59" r="11"/><circle cx="749.99" cy="723.59" r="11"/><circle cx="750.51" cy="723.59" r="11"/><circle cx="751.04" cy="723.59" r="11"/><circle cx="751.56" cy="723.59" r="11"/><circle cx="752.09" cy="723.59" r="11"/><circle cx="752.62" cy="723.59" r="11"/><circle cx="753.14" cy="723.59" r="11"/></g>
<g fill="#D0D0D0"><circle cx="753.67" cy="723.59" r="11"/><circle cx="754.19" cy="723.59" r="11"/><circle cx="754.72" cy="723.59" r="11"/><circle cx="755.25" cy="723.59" r="11"/><circle cx="755.77" cy="723.59" r="11"/><circle cx="756.3" cy="723.59" r="11"/><circle cx="756.82" cy="723.59" r="11"/><circle cx="757.35" cy="723.59" r="11"/><circle cx="757.87" cy="723.59" r="11"/><circle cx="758.4" cy="723.59" r="11"/><circle cx="758.93" cy="723.59" r="11"/><circle cx="759.45" cy="723.59" r="11"/><circle cx="759.98" cy="723.59" r="11"/></g>
<g fill="#0072B5"><circle cx="760.5" cy="723.59" r="11"/><circle cx="761.03" cy="723.59" r="11"/><circle cx="761.55" cy="723.59" r="11"/><circle cx="762.08" cy="723.59" r="11"/><circle cx="762.61" cy="723.59" r="11"/><circle cx="763.13" cy="723.59" r="11"/><circle cx="763.66" cy="723.59" r="11"/><circle cx="764.18" cy="723.59" r="11"/><circle cx="764.71" cy="723.59" r="11"/><circle cx="765.24" cy="723.59" r="11"/><circle cx="765.76" cy="723.59" r="11"/><circle cx="766.29" cy="723.59" r="11"/><circle cx="766.81" cy="723.59" r="11"/><circle cx="767.34" cy="723.59" r="11"/><circle cx="767.86" cy="723.59" r="11"/><circle cx="768.39" cy="723.59" r="11"/><circle cx="768.92" cy="723.59" r="11"/><circle cx="769.44" cy="723.59" r="11"/><circle cx="769.97" cy="723.59" r="11"/><circle cx="770.49" cy="723.59" r="11"/><circle cx="771.02" cy="723.59" r="11"/><circle cx="771.55" cy="723.59" r="11"/><circle cx="772.07" cy="723.59" r="11"/><circle cx="772.6" cy="723.59" r="11"/><circle cx="773.12" cy="723.59" r="11"/><circle cx="773.65" cy="723.59" r="11"/><circle cx="774.17" cy="723.59" r="11"/><circle cx="774.7" cy="723.59" r="11"/><circle cx="775.23" cy="723.59" r="11"/><circle cx="775.75" cy="723.59" r="11"/><circle cx="776.28" cy="723.59" r="11"/><circle cx="776.8" cy="723.59" r="11"/><circle cx="777.33" cy="723.59" r="11"/><circle cx="777.85" cy="723.59" r="11"/><circle cx="778.38" cy="723.59" r="11"/><circle cx="778.91" cy="723.59" r="11"/><circle cx="779.43" cy="723.59" r="11"/><circle cx="779.96" cy="723.59" r="11"/><circle cx="780.48" cy="723.59" r="11"/><circle cx="781.01" cy="723.59" r="11"/><circle cx="781.54" cy="723.59" r="11"/><circle cx="782.06" cy="723.59" r="11"/><circle cx="782.59" cy="723.59" r="11"/><circle cx="783.11" cy="723.59" r="11"/><circle cx="783.64" cy="723.59" r="11"/><circle cx="784.16" cy="723.59" r="11"/><circle cx="784.69" cy="723.59" r="11"/><circle cx="785.22" cy="723.59" r="11"/><circle cx="785.74" cy="723.59" r="11"/><circle cx="786.27" cy="723.59" r="11"/><circle cx="786.79" cy="723.59" r="11"/><circle cx="787.32" cy="723.59" r="11"/><circle cx="787.84" cy="723.59" r="11"/><circle cx="788.37" cy="723.59" r="11"/></g>
<g fill="#D95F02"><circle cx="788.9" cy="723.59" r="11"/><circle cx="789.42" cy="723.59" r="11"/></g>
<g fill="#D0D0D0"><circle cx="789.95" cy="723.59" r="11"/><circle cx="790.47" cy="723.59" r="11"/><circle cx="791" cy="723.59" r="11"/><circle cx="791.53" cy="723.59" r="11"/><circle cx="792.05" cy="723.59" r="11"/><circle cx="792.58" cy="723.59" r="11"/><circle cx="793.1" cy="723.59" r="11"/><circle cx="793.63" cy="723.59" r="11"/><circle cx="794.15" cy="723.59" r="11"/><circle cx="794.68" cy="723.59" r="11"/><circle cx="795.21" cy="723.59" r="11"/><circle cx="795.73" cy="723.59" r="11"/><circle cx="796.26" cy="723.59" r="11"/><circle cx="796.78" cy="723.59" r="11"/><circle cx="797.31" cy="723.59" r="11"/><circle cx="797.84" cy="723.59" r="11"/><circle cx="798.36" cy="723.59" r="11"/><circle cx="798.89" cy="723.59" r="11"/><circle cx="799.41" cy="723.59" r="11"/><circle cx="799.94" cy="723.59" r="11"/><circle cx="800.46" cy="723.59" r="11"/></g>
<g fill="#0072B5"><circle cx="800.99" cy="723.59" r="11"/><circle cx="801.52" cy="723.59" r="11"/><circle cx="802.04" cy="723.59" r="11"/><circle cx="802.57" cy="723.59" r="11"/><circle cx="803.09" cy="723.59" r="11"/><circle cx="803.62" cy="723.59" r="11"/><circle cx="804.14" cy="723.59" r="11"/><circle cx="804.67" cy="723.59" r="11"/><circle cx="805.2" cy="723.59" r="11"/><circle cx="805.72" cy="723.59" r="11"/><circle cx="806.25" cy="723.59" r="11"/><circle cx="806.77" cy="723.59" r="11"/><circle cx="807.3" cy="723.59" r="11"/><circle cx="807.83" cy="723.59" r="11"/><circle cx="808.35" cy="723.59" r="11"/><circle cx="808.88" cy="723.59" r="11"/><circle cx="809.4" cy="723.59" r="11"/><circle cx="809.93" cy="723.59" r="11"/><circle cx="810.45" cy="723.59" r="11"/><circle cx="810.98" cy="723.59" r="11"/><circle cx="811.51" cy="723.59" r="11"/><circle cx="812.03" cy="723.59" r="11"/><circle cx="812.56" cy="723.59" r="11"/><circle cx="813.08" cy="723.59" r="11"/><circle cx="813.61" cy="723.59" r="11"/><circle cx="814.13" cy="723.59" r="11"/><circle cx="814.66" cy="723.59" r="11"/><circle cx="815.19" cy="723.59" r="11"/><circle cx="815.71" cy="723.59" r="11"/><circle cx="816.24" cy="723.59" r="11"/><circle cx="816.76" cy="723.59" r="11"/><circle cx="817.29" cy="723.59" r="11"/><circle cx="817.82" cy="723.59" r="11"/><circle cx="818.34" cy="723.59" r="11"/><circle cx="818.87" cy="723.59" r="11"/><circle cx="819.39" cy="723.59" r="11"/><circle cx="819.92" cy="723.59" r="11"/><circle cx="820.44" cy="723.59" r="11"/><circle cx="820.97" cy="723.59" r="11"/><circle cx="821.5" cy="723.59" r="11"/><circle cx="822.02" cy="723.59" r="11"/><circle cx="822.55" cy="723.59" r="11"/><circle cx="823.07" cy="723.59" r="11"/><circle cx="823.6" cy="723.59" r="11"/><circle cx="824.13" cy="723.59" r="11"/><circle cx="824.65" cy="723.59" r="11"/><circle cx="825.18" cy="723.59" r="11"/><circle cx="825.7" cy="723.59" r="11"/><circle cx="826.23" cy="723.59" r="11"/><circle cx="826.75" cy="723.59" r="11"/><circle cx="827.28" cy="723.59" r="11"/><circle cx="827.81" cy="723.59" r="11"/><circle cx="828.33" cy="723.59" r="11"/><circle cx="828.86" cy="723.59" r="11"/><circle cx="829.38" cy="723.59" r="11"/><circle cx="829.91" cy="723.59" r="11"/><circle cx="830.43" cy="723.59" r="11"/><circle cx="830.96" cy="723.59" r="11"/><circle cx="831.49" cy="723.59" r="11"/><circle cx="832.01" cy="723.59" r="11"/><circle cx="832.54" cy="723.59" r="11"/><circle cx="833.06" cy="723.59" r="11"/><circle cx="833.59" cy="723.59" r="11"/><circle cx="834.12" cy="723.59" r="11"/><circle cx="834.64" cy="723.59" r="11"/><circle cx="835.17" cy="723.59" r="11"/><circle cx="835.69" cy="723.59" r="11"/><circle cx="836.22" cy="723.59" r="11"/><circle cx="836.74" cy="723.59" r="11"/><circle cx="837.27" cy="723.59" r="11"/><circle cx="837.8" cy="723.59" r="11"/><circle cx="838.32" cy="723.59" r="11"/><circle cx="838.85" cy="723.59" r="11"/><circle cx="839.37" cy="723.59" r="11"/><circle cx="839.9" cy="723.59" r="11"/><circle cx="840.42" cy="723.59" r="11"/><circle cx="840.95" cy="723.59" r="11"/><circle cx="841.48" cy="723.59" r="11"/><circle cx="842" cy="723.59" r="11"/><circle cx="842.53" cy="723.59" r="11"/><circle cx="843.05" cy="723.59" r="11"/><circle cx="843.58" cy="723.59" r="11"/><circle cx="844.11" cy="723.59" r="11"/><circle cx="844.63" cy="723.59" r="11"/><circle cx="845.16" cy="723.59" r="11"/><circle cx="845.68" cy="723.59" r="11"/><circle cx="846.21" cy="723.59" r="11"/><circle cx="846.73" cy="723.59" r="11"/><circle cx="847.26" cy="723.59" r="11"/><circle cx="847.79" cy="723.59" r="11"/></g>
<g fill="#D95F02"><circle cx="848.31" cy="723.6" r="11"/><circle cx="848.84" cy="723.6" r="11"/><circle cx="849.36" cy="723.6" r="11"/></g>
<g fill="#D0D0D0"><circle cx="849.89" cy="723.6" r="11"/><circle cx="850.42" cy="723.6" r="11"/><circle cx="850.94" cy="723.6" r="11"/><circle cx="851.47" cy="723.6" r="11"/><circle cx="851.99" cy="723.6" r="11"/><circle cx="852.52" cy="723.6" r="11"/><circle cx="853.04" cy="723.6" r="11"/><circle cx="853.57" cy="723.6" r="11"/><circle cx="854.1" cy="723.6" r="11"/><circle cx="854.62" cy="723.6" r="11"/><circle cx="855.15" cy="723.6" r="11"/><circle cx="855.67" cy="723.6" r="11"/><circle cx="856.2" cy="723.6" r="11"/><circle cx="856.72" cy="723.6" r="11"/><circle cx="857.25" cy="723.6" r="11"/><circle cx="857.78" cy="723.6" r="11"/><circle cx="858.3" cy="723.6" r="11"/><circle cx="858.83" cy="723.6" r="11"/><circle cx="859.35" cy="723.6" r="11"/><circle cx="859.88" cy="723.6" r="11"/><circle cx="860.41" cy="723.6" r="11"/><circle cx="860.93" cy="723.6" r="11"/><circle cx="861.46" cy="723.6" r="11"/><circle cx="861.98" cy="723.6" r="11"/><circle cx="862.51" cy="723.6" r="11"/><circle cx="863.03" cy="723.6" r="11"/><circle cx="863.56" cy="723.6" r="11"/><circle cx="864.09" cy="723.6" r="11"/><circle cx="864.61" cy="723.6" r="11"/><circle cx="865.14" cy="723.6" r="11"/><circle cx="865.66" cy="723.6" r="11"/><circle cx="866.19" cy="723.6" r="11"/><circle cx="866.71" cy="723.6" r="11"/><circle cx="867.24" cy="723.6" r="11"/><circle cx="867.77" cy="723.6" r="11"/><circle cx="868.29" cy="723.6" r="11"/><circle cx="868.82" cy="723.6" r="11"/><circle cx="869.34" cy="723.6" r="11"/><circle cx="869.87" cy="723.6" r="11"/><circle cx="870.4" cy="723.6" r="11"/><circle cx="870.92" cy="723.6" r="11"/><circle cx="871.45" cy="723.6" r="11"/><circle cx="871.97" cy="723.6" r="11"/><circle cx="872.5" cy="723.6" r="11"/><circle cx="873.02" cy="723.6" r="11"/><circle cx="873.55" cy="723.6" r="11"/><circle cx="874.08" cy="723.6" r="11"/></g>
<g fill="#0072B5"><circle cx="874.6" cy="723.6" r="11"/><circle cx="875.13" cy="723.6" r="11"/><circle cx="875.65" cy="723.6" r="11"/><circle cx="876.18" cy="723.6" r="11"/><circle cx="876.71" cy="723.6" r="11"/><circle cx="877.23" cy="723.6" r="11"/><circle cx="877.76" cy="723.6" r="11"/><circle cx="878.28" cy="723.6" r="11"/><circle cx="878.81" cy="723.6" r="11"/><circle cx="879.33" cy="723.6" r="11"/><circle cx="879.86" cy="723.6" r="11"/><circle cx="880.39" cy="723.6" r="11"/><circle cx="880.91" cy="723.6" r="11"/><circle cx="881.44" cy="723.6" r="11"/><circle cx="881.96" cy="723.6" r="11"/><circle cx="882.49" cy="723.6" r="11"/><circle cx="883.01" cy="723.6" r="11"/><circle cx="883.54" cy="723.6" r="11"/><circle cx="884.07" cy="723.6" r="11"/><circle cx="884.59" cy="723.6" r="11"/><circle cx="885.12" cy="723.6" r="11"/><circle cx="885.64" cy="723.6" r="11"/><circle cx="886.17" cy="723.6" r="11"/><circle cx="886.7" cy="723.6" r="11"/><circle cx="887.22" cy="723.6" r="11"/><circle cx="887.75" cy="723.6" r="11"/><circle cx="888.27" cy="723.6" r="11"/><circle cx="888.8" cy="723.6" r="11"/><circle cx="889.32" cy="723.6" r="11"/><circle cx="889.85" cy="723.6" r="11"/><circle cx="890.38" cy="723.6" r="11"/><circle cx="890.9" cy="723.6" r="11"/><circle cx="891.43" cy="723.6" r="11"/><circle cx="891.95" cy="723.6" r="11"/><circle cx="892.48" cy="723.6" r="11"/><circle cx="893" cy="723.6" r="11"/><circle cx="893.53" cy="723.6" r="11"/><circle cx="894.06" cy="723.6" r="11"/><circle cx="894.58" cy="723.6" r="11"/><circle cx="895.11" cy="723.6" r="11"/><circle cx="895.63" cy="723.6" r="11"/><circle cx="896.16" cy="723.6" r="11"/><circle cx="896.69" cy="723.6" r="11"/><circle cx="897.21" cy="723.6" r="11"/><circle cx="897.74" cy="723.6" r="11"/><circle cx="898.26" cy="723.6" r="11"/><circle cx="898.79" cy="723.6" r="11"/><circle cx="899.31" cy="723.6" r="11"/><circle cx="899.84" cy="723.6" r="11"/><circle cx="900.37" cy="723.6" r="11"/><circle cx="900.89" cy="723.6" r="11"/><circle cx="901.42" cy="723.6" r="11"/><circle cx="901.94" cy="723.6" r="11"/><circle cx="902.47" cy="723.6" r="11"/><circle cx="903" cy="723.6" r="11"/><circle cx="903.52" cy="723.6" r="11"/><circle cx="904.05" cy="723.6" r="11"/><circle cx="904.57" cy="723.6" r="11"/><circle cx="905.1" cy="723.6" r="11"/><circle cx="905.62" cy="723.6" r="11"/><circle cx="906.15" cy="723.6" r="11"/><circle cx="906.68" cy="723.6" r="11"/><circle cx="907.2" cy="723.6" r="11"/><circle cx="907.73" cy="723.6" r="11"/><circle cx="908.25" cy="723.6" r="11"/><circle cx="908.78" cy="723.6" r="11"/><circle cx="909.3" cy="723.6" r="11"/><circle cx="909.83" cy="723.6" r="11"/><circle cx="910.36" cy="723.6" r="11"/><circle cx="910.88" cy="723.6" r="11"/><circle cx="911.41" cy="723.6" r="11"/><circle cx="911.93" cy="723.6" r="11"/><circle cx="912.46" cy="723.6" r="11"/><circle cx="912.99" cy="723.6" r="11"/><circle cx="913.51" cy="723.6" r="11"/><circle cx="914.04" cy="723.6" r="11"/><circle cx="914.56" cy="723.6" r="11"/><circle cx="915.09" cy="723.6" r="11"/><circle cx="915.61" cy="723.6" r="11"/><circle cx="916.14" cy="723.6" r="11"/><circle cx="916.67" cy="723.6" r="11"/><circle cx="917.19" cy="723.6" r="11"/><circle cx="917.72" cy="723.6" r="11"/><circle cx="918.24" cy="723.6" r="11"/><circle cx="918.77" cy="723.6" r="11"/><circle cx="919.29" cy="723.6" r="11"/><circle cx="919.82" cy="723.6" r="11"/><circle cx="920.35" cy="723.6" r="11"/><circle cx="920.87" cy="723.6" r="11"/><circle cx="921.4" cy="723.6" r="11"/><circle cx="921.92" cy="723.6" r="11"/><circle cx="922.45" cy="723.6" r="11"/><circle cx="922.98" cy="723.6" r="11"/><circle cx="923.5" cy="723.6" r="11"/><circle cx="924.03" cy="723.6" r="11"/><circle cx="924.55" cy="723.6" r="11"/><circle cx="925.08" cy="723.6" r="11"/><circle cx="925.6" cy="723.6" r="11"/><circle cx="926.13" cy="723.6" r="11"/><circle cx="926.66" cy="723.6" r="11"/><circle cx="927.18" cy="723.6" r="11"/><circle cx="927.71" cy="723.6" r="11"/><circle cx="928.23" cy="723.6" r="11"/><circle cx="928.76" cy="723.6" r="11"/><circle cx="929.29" cy="723.6" r="11"/><circle cx="929.81" cy="723.6" r="11"/><circle cx="930.34" cy="723.6" r="11"/><circle cx="930.86" cy="723.6" r="11"/><circle cx="931.39" cy="723.6" r="11"/><circle cx="931.91" cy="723.6" r="11"/><circle cx="932.44" cy="723.6" r="11"/><circle cx="932.97" cy="723.6" r="11"/><circle cx="933.49" cy="723.6" r="11"/><circle cx="934.02" cy="723.6" r="11"/><circle cx="934.54" cy="723.6" r="11"/><circle cx="935.07" cy="723.6" r="11"/><circle cx="935.59" cy="723.6" r="11"/><circle cx="936.12" cy="723.6" r="11"/><circle cx="936.65" cy="723.6" r="11"/><circle cx="937.17" cy="723.6" r="11"/><circle cx="937.7" cy="723.6" r="11"/><circle cx="938.22" cy="723.6" r="11"/><circle cx="938.75" cy="723.6" r="11"/><circle cx="939.28" cy="723.6" r="11"/><circle cx="939.8" cy="723.6" r="11"/><circle cx="940.33" cy="723.6" r="11"/><circle cx="940.85" cy="723.6" r="11"/><circle cx="941.38" cy="723.6" r="11"/><circle cx="941.9" cy="723.6" r="11"/><circle cx="942.43" cy="723.6" r="11"/><circle cx="942.96" cy="723.6" r="11"/><circle cx="943.48" cy="723.6" r="11"/><circle cx="944.01" cy="723.6" r="11"/><circle cx="944.53" cy="723.6" r="11"/><circle cx="945.06" cy="723.6" r="11"/><circle cx="945.58" cy="723.6" r="11"/><circle cx="946.11" cy="723.6" r="11"/><circle cx="946.64" cy="723.6" r="11"/><circle cx="947.16" cy="723.6" r="11"/><circle cx="947.69" cy="723.6" r="11"/><circle cx="948.21" cy="723.6" r="11"/><circle cx="948.74" cy="723.6" r="11"/><circle cx="949.27" cy="723.6" r="11"/><circle cx="949.79" cy="723.6" r="11"/><circle cx="950.32" cy="723.6" r="11"/><circle cx="950.84" cy="723.6" r="11"/><circle cx="951.37" cy="723.6" r="11"/><circle cx="951.89" cy="723.6" r="11"/><circle cx="952.42" cy="723.6" r="11"/><circle cx="952.95" cy="723.6" r="11"/><circle cx="953.47" cy="723.6" r="11"/><circle cx="954" cy="723.6" r="11"/><circle cx="954.52" cy="723.6" r="11"/><circle cx="955.05" cy="723.6" r="11"/><circle cx="955.58" cy="723.6" r="11"/><circle cx="956.1" cy="723.6" r="11"/><circle cx="956.63" cy="723.6" r="11"/><circle cx="957.15" cy="723.6" r="11"/><circle cx="957.68" cy="723.6" r="11"/><circle cx="958.2" cy="723.6" r="11"/><circle cx="958.73" cy="723.6" r="11"/><circle cx="959.26" cy="723.6" r="11"/><circle cx="959.78" cy="723.6" r="11"/><circle cx="960.31" cy="723.6" r="11"/><circle cx="960.83" cy="723.6" r="11"/><circle cx="961.36" cy="723.6" r="11"/><circle cx="961.88" cy="723.6" r="11"/><circle cx="962.41" cy="723.6" r="11"/><circle cx="962.94" cy="723.6" r="11"/><circle cx="963.46" cy="723.6" r="11"/><circle cx="963.99" cy="723.6" r="11"/><circle cx="964.51" cy="723.6" r="11"/><circle cx="965.04" cy="723.6" r="11"/><circle cx="965.57" cy="723.6" r="11"/><circle cx="966.09" cy="723.6" r="11"/><circle cx="966.62" cy="723.6" r="11"/><circle cx="967.14" cy="723.6" r="11"/><circle cx="967.67" cy="723.6" r="11"/><circle cx="968.19" cy="723.6" r="11"/><circle cx="968.72" cy="723.6" r="11"/><circle cx="969.25" cy="723.6" r="11"/><circle cx="969.77" cy="723.6" r="11"/><circle cx="970.3" cy="723.6" r="11"/><circle cx="970.82" cy="723.6" r="11"/><circle cx="971.35" cy="723.6" r="11"/><circle cx="971.87" cy="723.6" r="11"/><circle cx="972.4" cy="723.6" r="11"/><circle cx="972.93" cy="723.6" r="11"/><circle cx="973.45" cy="723.6" r="11"/><circle cx="973.98" cy="723.6" r="11"/><circle cx="974.5" cy="723.6" r="11"/><circle cx="975.03" cy="723.6" r="11"/><circle cx="975.56" cy="723.6" r="11"/><circle cx="976.08" cy="723.6" r="11"/><circle cx="976.61" cy="723.6" r="11"/><circle cx="977.13" cy="723.6" r="11"/><circle cx="977.66" cy="723.6" r="11"/><circle cx="978.18" cy="723.6" r="11"/><circle cx="978.71" cy="723.6" r="11"/><circle cx="979.24" cy="723.6" r="11"/><circle cx="979.76" cy="723.6" r="11"/><circle cx="980.29" cy="723.6" r="11"/><circle cx="980.81" cy="723.6" r="11"/><circle cx="981.34" cy="723.6" r="11"/><circle cx="981.87" cy="723.6" r="11"/><circle cx="982.39" cy="723.6" r="11"/><circle cx="982.92" cy="723.6" r="11"/><circle cx="983.44" cy="723.6" r="11"/><circle cx="983.97" cy="723.6" r="11"/><circle cx="984.49" cy="723.6" r="11"/><circle cx="985.02" cy="723.6" r="11"/><circle cx="985.55" cy="723.6" r="11"/><circle cx="986.07" cy="723.6" r="11"/><circle cx="986.6" cy="723.6" r="11"/></g>
</g>
</g>
<rect x="693.7" y="29.9" width="295.8" height="168.5" fill="#fff"/>
<rect x="702" y="53.5" width="45.2" height="137.9" fill="#F0F0F0"/>
<g stroke="#000" stroke-width="1.9">
<circle cx="724.5" cy="75.7" r="9.6" fill="#D95F02"/>
<circle cx="724.5" cy="122.4" r="9.6" fill="#D0D0D0"/>
<circle cx="724.5" cy="168.7" r="9.6" fill="#0072B5"/>
</g>
<g class="lg">
<text x="763.2" y="84.4">Human-associated</text>
<text x="763.2" y="130.5">Semi-spontaneous</text>
<text x="763.2" y="177">Spontaneous</text>
</g>
<g stroke="#000" stroke-width="1.6" stroke-linejoin="round">
<path d="M840.1 390.4L890.7 241.78A157 157 0 1 0 997.1 390.4Z" fill="#0072B5"/>
<path d="M840.1 390.4L997.1 390.4A157 157 0 0 0 905.71 247.76Z" fill="#D0D0D0"/>
<path d="M840.1 390.4L905.71 247.76A157 157 0 0 0 890.7 241.78Z" fill="#D95F02"/>
</g>
<g class="sp">
<text x="329.9" y="54.1">Platycladus orientalis</text>
<text x="330" y="111.6">Cinnamomum camphora</text>
<text x="329.9" y="166.6">Salix matsudana</text>
<text x="329.3" y="223">Cupressus funebris</text>
<text x="329.2" y="283">Liquidambar formosana</text>
<text x="329.9" y="340">Pinus tabuliformis</text>
<text x="330.6" y="398.1">Castanea mollissima</text>
<text x="331" y="460" style="font-size:31.7px">Ziziphus jujuba</text>
<text x="329.9" y="510.7">Ficus microcarpa</text>
<text x="330.7" y="567.2">Torreya grandis</text>
</g>
<text class="an" x="709.8" y="596.3" style="font-size:32.15px">Rare species</text>
<text class="an" x="754.9" y="643.9">n = 264</text>
<rect x="838.45" y="691.45" width="162.5" height="49.2" fill="none" stroke="#AD1219" stroke-width="2.7"/>
<path d="M921.2 672.6V573.7" stroke="#BE141B" stroke-width="1.6" fill="none"/>
<path d="M921.2 559.1L929.1 574.7H913.3Z" fill="#C0141B"/>
<path d="M232.6 757.3v7.4M364.05 757.3v7.4M495.5 757.3v7.4M626.95 757.3v7.4M758.4 757.3v7.4M889.85 757.3v7.4M1021.3 757.3v7.4M195.6 723.6h-7.3M195.6 620.67h-7.3M195.6 517.73h-7.3M195.6 414.8h-7.3M195.6 311.87h-7.3M195.6 208.93h-7.3M195.6 106h-7.3" stroke="#2e2e2e" stroke-width="2.7" fill="none"/>
<g class="tk" text-anchor="middle">
<text transform="translate(232.6 796.3) scale(1 1.02)">0</text>
<text transform="translate(364.05 796.3) scale(1 1.02)">250</text>
<text transform="translate(495.5 796.3) scale(1 1.02)">500</text>
<text transform="translate(626.95 796.3) scale(1 1.02)">750</text>
<text transform="translate(758.4 796.3) scale(1 1.02)">1000</text>
<text transform="translate(889.85 796.3) scale(1 1.02)">1250</text>
<text transform="translate(1021.3 796.3) scale(1 1.02)">1500</text>
</g>
<g class="tk" text-anchor="end">
<text transform="translate(181.3 736) scale(1 1.02)">0</text>
<text transform="translate(181.3 633.07) scale(1 1.02)">25000</text>
<text transform="translate(181.3 530.13) scale(1 1.02)">50000</text>
<text transform="translate(181.3 427.2) scale(1 1.02)">75000</text>
<text transform="translate(181.3 324.27) scale(1 1.02)">100000</text>
<text transform="translate(181.3 221.33) scale(1 1.02)">125000</text>
<text transform="translate(181.3 118.4) scale(1 1.02)">150000</text>
</g>
<text class="ax" x="423.2" y="854.3">Species sequence</text>
<text class="ay" transform="translate(33.3 583) rotate(-90)">Preserved individuals</text>
<text class="pl" x="5.8" y="35.6">A</text>
<rect x="1246.9" y="8.1" width="885.5" height="745.5" fill="#EBEDEE"/>
<path d="M1356.49 8.1V753.6M1497.26 8.1V753.6M1638.04 8.1V753.6M1778.81 8.1V753.6M1919.59 8.1V753.6M2060.36 8.1V753.6M1246.9 661.06H2132.4M1246.9 537.18H2132.4M1246.9 413.3H2132.4M1246.9 289.42H2132.4M1246.9 165.54H2132.4M1246.9 41.66H2132.4" stroke="#fff" stroke-width="1.5" fill="none"/>
<path d="M1286.1 8.1V753.6M1426.88 8.1V753.6M1567.65 8.1V753.6M1708.42 8.1V753.6M1849.2 8.1V753.6M1989.97 8.1V753.6M2130.75 8.1V753.6M1246.9 723H2132.4M1246.9 599.12H2132.4M1246.9 475.24H2132.4M1246.9 351.36H2132.4M1246.9 227.48H2132.4M1246.9 103.6H2132.4" stroke="#fff" stroke-width="2.7" fill="none"/>
<polyline points="1286.66,42 1287.23,69 1287.79,99.3 1288.35,100.9 1288.92,143 1289.48,150.8 1290.04,200 1290.6,217.5 1291.17,246.8 1291.73,247.3 1292.29,275.4 1292.86,278.6 1293.42,279.6 1293.98,284 1294.55,285 1295.11,289 1295.67,293.2 1296.24,297.4 1296.8,301.6 1297.36,305.8 1297.93,310 1298.49,314.2 1299.05,339.5 1299.61,345 1300.18,346 1300.74,351 1301.3,356.38 1301.87,361.75 1302.43,367.12 1302.99,372.5 1303.56,384 1304.12,395 1304.68,410 1305.25,415 1305.81,422.5 1306.37,426.25 1306.93,430 1307.5,433.75 1308.06,437.5 1308.62,440.33 1309.19,443.17 1309.75,446 1310.31,451.75 1310.88,457.5 1311.44,464.25 1312,471 1312.57,475.24 1313.13,475.24 1313.69,480.2 1314.25,480.2 1314.82,480.2 1315.38,485.15 1315.94,485.15 1316.51,490.11 1317.07,490.11 1317.63,495.06 1318.2,495.06 1318.76,500.02 1319.32,500.02 1319.89,504.97 1320.45,504.97 1321.01,504.97 1321.58,509.93 1322.14,509.93 1322.7,509.93 1323.26,514.88 1323.83,514.88 1324.39,519.84 1324.95,519.84 1325.52,519.84 1326.08,519.84 1326.64,524.79 1327.21,524.79 1327.77,524.79 1328.33,524.79 1328.9,529.75 1329.46,529.75 1330.02,529.75 1330.58,529.75 1331.15,534.7 1331.71,534.7 1332.27,534.7 1332.84,534.7 1333.4,539.66 1333.96,539.66 1334.53,539.66 1335.09,539.66 1335.65,544.61 1336.22,544.61 1336.78,544.61 1337.34,549.57 1337.91,549.57 1338.47,554.52 1339.03,554.52 1339.59,554.52 1340.16,559.48 1340.72,559.48 1341.28,559.48 1341.85,559.48 1342.41,564.43 1342.97,564.43 1343.54,564.43 1344.1,564.43 1344.66,564.43 1345.23,569.39 1345.79,569.39 1346.35,569.39 1346.91,569.39 1347.48,574.34 1348.04,574.34 1348.6,574.34 1349.17,574.34 1349.73,579.3 1350.29,579.3 1350.86,579.3 1351.42,579.3 1351.98,579.3 1352.55,584.25 1353.11,584.25 1353.67,584.25 1354.24,584.25 1354.8,589.21 1355.36,589.21 1355.92,589.21 1356.49,589.21 1357.05,594.16 1357.61,594.16 1358.18,594.16 1358.74,594.16 1359.3,594.16 1359.87,599.12 1360.43,599.12 1360.99,599.12 1361.56,599.12 1362.12,599.12 1362.68,599.12 1363.24,604.08 1363.81,604.08 1364.37,604.08 1364.93,604.08 1365.5,604.08 1366.06,604.08 1366.62,609.03 1367.19,609.03 1367.75,609.03 1368.31,609.03 1368.88,609.03 1369.44,609.03 1370,613.99 1370.56,611.51 1371.13,613.99 1371.69,613.99 1372.25,613.99 1372.82,616.46 1373.38,616.46 1373.94,616.46 1374.51,618.94 1375.07,618.94 1375.63,618.94 1376.2,618.94 1376.76,621.42 1377.32,621.42 1377.89,621.42 1378.45,623.9 1379.01,623.9 1379.57,623.9 1380.14,626.37 1380.7,626.37 1381.26,626.37 1381.83,626.37 1382.39,628.85 1382.95,628.85 1383.52,628.85 1384.08,628.85 1384.64,631.33 1385.21,631.33 1385.77,631.33 1386.33,631.33 1386.89,633.81 1387.46,633.81 1388.02,633.81 1388.58,633.81 1389.15,636.28 1389.71,636.28 1390.27,636.28 1390.84,636.28 1391.4,638.76 1391.96,638.76 1392.53,638.76 1393.09,638.76 1393.65,638.76 1394.22,641.24 1394.78,641.24 1395.34,641.24 1395.9,641.24 1396.47,641.24 1397.03,641.24 1397.59,643.72 1398.16,643.72 1398.72,643.72 1399.28,643.72 1399.85,643.72 1400.41,646.19 1400.97,646.19 1401.54,646.19 1402.1,646.19 1402.66,646.19 1403.22,646.19 1403.79,648.67 1404.35,648.67 1404.91,648.67 1405.48,648.67 1406.04,648.67 1406.6,648.67 1407.17,648.67 1407.73,651.15 1408.29,651.15 1408.86,651.15 1409.42,651.15 1409.98,651.15 1410.55,651.15 1411.11,651.15 1411.67,653.63 1412.23,653.63 1412.8,653.63 1413.36,653.63 1413.92,653.63 1414.49,653.63 1415.05,653.63 1415.61,656.1 1416.18,656.1 1416.74,656.1 1417.3,656.1 1417.87,656.1 1418.43,656.1 1418.99,656.1 1419.55,658.58 1420.12,658.58 1420.68,658.58 1421.24,658.58 1421.81,658.58 1422.37,658.58 1422.93,658.58 1423.5,661.06 1424.06,661.06 1424.62,661.06 1425.19,661.06 1425.75,661.06 1426.31,661.06 1426.88,661.06 1427.44,661.06 1428,663.54 1428.56,663.54 1429.13,663.54 1429.69,663.54 1430.25,663.54 1430.82,663.54 1431.38,663.54 1431.94,663.54 1432.51,666.02 1433.07,666.02 1433.63,666.02 1434.2,666.02 1434.76,666.02 1435.32,666.02 1435.88,666.02 1436.45,666.02 1437.01,666.02 1437.57,668.49 1438.14,668.49 1438.7,668.49 1439.26,668.49 1439.83,668.49 1440.39,668.49 1440.95,668.49 1441.52,668.49 1442.08,668.49 1442.64,670.97 1443.2,670.97 1443.77,670.97 1444.33,670.97 1444.89,670.97 1445.46,670.97 1446.02,670.97 1446.58,670.97 1447.15,670.97 1447.71,673.45 1448.27,673.45 1448.84,673.45 1449.4,673.45 1449.96,673.45 1450.53,673.45 1451.09,673.45 1451.65,673.45 1452.21,673.45 1452.78,675.93 1453.34,675.93 1453.9,675.93 1454.47,675.93 1455.03,675.93 1455.59,675.93 1456.16,675.93 1456.72,675.93 1457.28,675.93 1457.85,675.93 1458.41,678.4 1458.97,678.4 1459.53,678.4 1460.1,678.4 1460.66,678.4 1461.22,678.4 1461.79,678.4 1462.35,678.4 1462.91,678.4 1463.48,678.4 1464.04,678.4 1464.6,680.88 1465.17,680.88 1465.73,680.88 1466.29,680.88 1466.86,680.88 1467.42,680.88 1467.98,680.88 1468.54,680.88 1469.11,680.88 1469.67,680.88 1470.23,680.88 1470.8,680.88 1471.36,683.36 1471.92,683.36 1472.49,683.36 1473.05,683.36 1473.61,683.36 1474.18,683.36 1474.74,683.36 1475.3,683.36 1475.86,683.36 1476.43,683.36 1476.99,683.36 1477.55,685.84 1478.12,685.84 1478.68,685.84 1479.24,685.84 1479.81,685.84 1480.37,685.84 1480.93,685.84 1481.5,685.84 1482.06,685.84 1482.62,685.84 1483.18,685.84 1483.75,685.84 1484.31,685.84 1484.87,685.84 1485.44,688.31 1486,688.31 1486.56,688.31 1487.13,688.31 1487.69,688.31 1488.25,688.31 1488.82,688.31 1489.38,688.31 1489.94,688.31 1490.51,688.31 1491.07,688.31 1491.63,688.31 1492.19,688.31 1492.76,688.31 1493.32,688.31 1493.88,690.79 1494.45,690.79 1495.01,690.79 1495.57,690.79 1496.14,690.79 1496.7,690.79 1497.26,690.79 1497.83,690.79 1498.39,690.79 1498.95,690.79 1499.51,690.79 1500.08,690.79 1500.64,690.79 1501.2,690.79 1501.77,690.79 1502.33,693.27 1502.89,693.27 1503.46,693.27 1504.02,693.27 1504.58,693.27 1505.15,693.27 1505.71,693.27 1506.27,693.27 1506.84,693.27 1507.4,693.27 1507.96,693.27 1508.52,693.27 1509.09,693.27 1509.65,693.27 1510.21,693.27 1510.78,693.27 1511.34,693.27 1511.9,693.27 1512.47,695.75 1513.03,695.75 1513.59,695.75 1514.16,695.75 1514.72,695.75 1515.28,695.75 1515.84,695.75 1516.41,695.75 1516.97,695.75 1517.53,695.75 1518.1,695.75 1518.66,695.75 1519.22,695.75 1519.79,695.75 1520.35,695.75 1520.91,695.75 1521.48,695.75 1522.04,695.75 1522.6,695.75 1523.17,698.22 1523.73,698.22 1524.29,698.22 1524.85,698.22 1525.42,698.22 1525.98,698.22 1526.54,698.22 1527.11,698.22 1527.67,698.22 1528.23,698.22 1528.8,698.22 1529.36,698.22 1529.92,698.22 1530.49,698.22 1531.05,698.22 1531.61,698.22 1532.17,698.22 1532.74,698.22 1533.3,698.22 1533.86,698.22 1534.43,698.22 1534.99,698.22 1535.55,700.7 1536.12,700.7 1536.68,700.7 1537.24,700.7 1537.81,700.7 1538.37,700.7 1538.93,700.7 1539.49,700.7 1540.06,700.7 1540.62,700.7 1541.18,700.7 1541.75,700.7 1542.31,700.7 1542.87,700.7 1543.44,700.7 1544,700.7 1544.56,700.7 1545.13,700.7 1545.69,700.7 1546.25,700.7 1546.82,700.7 1547.38,700.7 1547.94,700.7 1548.5,700.7 1549.07,700.7 1549.63,700.7 1550.19,700.7 1550.76,700.7 1551.32,700.7 1551.88,700.7 1552.45,700.7 1553.01,700.7 1553.57,700.7 1554.14,700.7 1554.7,700.7 1555.26,703.18 1555.82,703.18 1556.39,703.18 1556.95,703.18 1557.51,703.18 1558.08,703.18 1558.64,703.18 1559.2,703.18 1559.77,703.18 1560.33,703.18 1560.89,703.18 1561.46,703.18 1562.02,703.18 1562.58,703.18 1563.15,703.18 1563.71,703.18 1564.27,703.18 1564.83,703.18 1565.4,703.18 1565.96,703.18 1566.52,703.18 1567.09,703.18 1567.65,703.18 1568.21,703.18 1568.78,703.18 1569.34,703.18 1569.9,703.18 1570.47,703.18 1571.03,703.18 1571.59,703.18 1572.15,703.18 1572.72,703.18 1573.28,703.18 1573.84,703.18 1574.41,703.18 1574.97,703.18 1575.53,703.18 1576.1,703.18 1576.66,703.18 1577.22,703.18 1577.79,705.66 1578.35,705.66 1578.91,705.66 1579.48,705.66 1580.04,705.66 1580.6,705.66 1581.16,705.66 1581.73,705.66 1582.29,705.66 1582.85,705.66 1583.42,705.66 1583.98,705.66 1584.54,705.66 1585.11,705.66 1585.67,705.66 1586.23,705.66 1586.8,705.66 1587.36,705.66 1587.92,705.66 1588.48,705.66 1589.05,705.66 1589.61,705.66 1590.17,705.66 1590.74,705.66 1591.3,705.66 1591.86,705.66 1592.43,705.66 1592.99,705.66 1593.55,705.66 1594.12,705.66 1594.68,705.66 1595.24,705.66 1595.8,705.66 1596.37,705.66 1596.93,705.66 1597.49,705.66 1598.06,705.66 1598.62,705.66 1599.18,705.66 1599.75,705.66 1600.31,708.13 1600.87,708.13 1601.44,708.13 1602,708.13 1602.56,708.13 1603.13,708.13 1603.69,708.13 1604.25,708.13 1604.81,708.13 1605.38,708.13 1605.94,708.13 1606.5,708.13 1607.07,708.13 1607.63,708.13 1608.19,708.13 1608.76,708.13 1609.32,708.13 1609.88,708.13 1610.45,708.13 1611.01,708.13 1611.57,708.13 1612.13,708.13 1612.7,708.13 1613.26,708.13 1613.82,708.13 1614.39,708.13 1614.95,708.13 1615.51,708.13 1616.08,708.13 1616.64,708.13 1617.2,708.13 1617.77,708.13 1618.33,708.13 1618.89,708.13 1619.46,708.13 1620.02,708.13 1620.58,708.13 1621.14,708.13 1621.71,708.13 1622.27,708.13 1622.83,708.13 1623.4,708.13 1623.96,708.13 1624.52,708.13 1625.09,708.13 1625.65,708.13 1626.21,708.13 1626.78,708.13 1627.34,708.13 1627.9,708.13 1628.46,708.13 1629.03,708.13 1629.59,708.13 1630.15,708.13 1630.72,708.13 1631.28,708.13 1631.84,708.13 1632.41,708.13 1632.97,708.13 1633.53,710.61 1634.1,710.61 1634.66,710.61 1635.22,710.61 1635.79,710.61 1636.35,710.61 1636.91,710.61 1637.47,710.61 1638.04,710.61 1638.6,710.61 1639.16,710.61 1639.73,710.61 1640.29,710.61 1640.85,710.61 1641.42,710.61 1641.98,710.61 1642.54,710.61 1643.11,710.61 1643.67,710.61 1644.23,710.61 1644.79,710.61 1645.36,710.61 1645.92,710.61 1646.48,710.61 1647.05,710.61 1647.61,710.61 1648.17,710.61 1648.74,710.61 1649.3,710.61 1649.86,710.61 1650.43,710.61 1650.99,710.61 1651.55,710.61 1652.12,710.61 1652.68,710.61 1653.24,710.61 1653.8,710.61 1654.37,710.61 1654.93,710.61 1655.49,710.61 1656.06,710.61 1656.62,710.61 1657.18,710.61 1657.75,710.61 1658.31,710.61 1658.87,710.61 1659.44,713.09 1660,713.09 1660.56,713.09 1661.12,713.09 1661.69,713.09 1662.25,713.09 1662.81,713.09 1663.38,713.09 1663.94,713.09 1664.5,713.09 1665.07,713.09 1665.63,713.09 1666.19,713.09 1666.76,713.09 1667.32,713.09 1667.88,713.09 1668.44,713.09 1669.01,713.09 1669.57,713.09 1670.13,713.09 1670.7,713.09 1671.26,713.09 1671.82,713.09 1672.39,713.09 1672.95,713.09 1673.51,713.09 1674.08,713.09 1674.64,713.09 1675.2,713.09 1675.77,713.09 1676.33,713.09 1676.89,713.09 1677.45,713.09 1678.02,713.09 1678.58,713.09 1679.14,713.09 1679.71,713.09 1680.27,713.09 1680.83,713.09 1681.4,713.09 1681.96,713.09 1682.52,713.09 1683.09,713.09 1683.65,713.09 1684.21,713.09 1684.77,713.09 1685.34,713.09 1685.9,713.09 1686.46,713.09 1687.03,713.09 1687.59,713.09 1688.15,713.09 1688.72,713.09 1689.28,713.09 1689.84,713.09 1690.41,713.09 1690.97,713.09 1691.53,713.09 1692.1,713.09 1692.66,713.09 1693.22,713.09 1693.78,713.09 1694.35,713.09 1694.91,713.09 1695.47,713.09 1696.04,713.09 1696.6,713.09 1697.16,713.09 1697.73,713.09 1698.29,713.09 1698.85,713.09 1699.42,713.09 1699.98,713.09 1700.54,713.09 1701.1,713.09 1701.67,713.09 1702.23,713.09 1702.79,713.09 1703.36,713.09 1703.92,713.09 1704.48,713.09 1705.05,713.09 1705.61,715.57 1706.17,715.57 1706.74,715.57 1707.3,715.57 1707.86,715.57 1708.42,715.57 1708.99,715.57 1709.55,715.57 1710.11,715.57 1710.68,715.57 1711.24,715.57 1711.8,715.57 1712.37,715.57 1712.93,715.57 1713.49,715.57 1714.06,715.57 1714.62,715.57 1715.18,715.57 1715.75,715.57 1716.31,715.57 1716.87,715.57 1717.43,715.57 1718,715.57 1718.56,715.57 1719.12,715.57 1719.69,715.57 1720.25,715.57 1720.81,715.57 1721.38,715.57 1721.94,715.57 1722.5,715.57 1723.07,715.57 1723.63,715.57 1724.19,715.57 1724.75,715.57 1725.32,715.57 1725.88,715.57 1726.44,715.57 1727.01,715.57 1727.57,715.57 1728.13,715.57 1728.7,715.57 1729.26,715.57 1729.82,715.57 1730.39,715.57 1730.95,715.57 1731.51,715.57 1732.08,715.57 1732.64,715.57 1733.2,715.57 1733.76,715.57 1734.33,715.57 1734.89,715.57 1735.45,715.57 1736.02,715.57 1736.58,715.57 1737.14,715.57 1737.71,715.57 1738.27,715.57 1738.83,715.57 1739.4,715.57 1739.96,715.57 1740.52,715.57 1741.08,715.57 1741.65,715.57 1742.21,715.57 1742.77,715.57 1743.34,715.57 1743.9,715.57 1744.46,715.57 1745.03,715.57 1745.59,715.57 1746.15,715.57 1746.72,715.57 1747.28,715.57 1747.84,715.57 1748.41,715.57 1748.97,715.57 1749.53,715.57 1750.09,715.57 1750.66,715.57 1751.22,715.57 1751.78,715.57 1752.35,715.57 1752.91,715.57 1753.47,715.57 1754.04,715.57 1754.6,715.57 1755.16,715.57 1755.73,715.57 1756.29,715.57 1756.85,715.57 1757.41,715.57 1757.98,715.57 1758.54,715.57 1759.1,715.57 1759.67,715.57 1760.23,715.57 1760.79,715.57 1761.36,715.57 1761.92,715.57 1762.48,715.57 1763.05,715.57 1763.61,715.57 1764.17,715.57 1764.73,715.57 1765.3,715.57 1765.86,715.57 1766.42,715.57 1766.99,715.57 1767.55,715.57 1768.11,715.57 1768.68,715.57 1769.24,715.57 1769.8,715.57 1770.37,715.57 1770.93,715.57 1771.49,715.57 1772.06,715.57 1772.62,715.57 1773.18,715.57 1773.74,718.04 1774.31,718.04 1774.87,718.04 1775.43,718.04 1776,718.04 1776.56,718.04 1777.12,718.04 1777.69,718.04 1778.25,718.04 1778.81,718.04 1779.38,718.04 1779.94,718.04 1780.5,718.04 1781.06,718.04 1781.63,718.04 1782.19,718.04 1782.75,718.04 1783.32,718.04 1783.88,718.04 1784.44,718.04 1785.01,718.04 1785.57,718.04 1786.13,718.04 1786.7,718.04 1787.26,718.04 1787.82,718.04 1788.39,718.04 1788.95,718.04 1789.51,718.04 1790.07,718.04 1790.64,718.04 1791.2,718.04 1791.76,718.04 1792.33,718.04 1792.89,718.04 1793.45,718.04 1794.02,718.04 1794.58,718.04 1795.14,718.04 1795.71,718.04 1796.27,718.04 1796.83,718.04 1797.39,718.04 1797.96,718.04 1798.52,718.04 1799.08,718.04 1799.65,718.04 1800.21,718.04 1800.77,718.04 1801.34,718.04 1801.9,718.04 1802.46,718.04 1803.03,718.04 1803.59,718.04 1804.15,718.04 1804.72,718.04 1805.28,718.04 1805.84,718.04 1806.4,718.04 1806.97,718.04 1807.53,718.04 1808.09,718.04 1808.66,718.04 1809.22,718.04 1809.78,718.04 1810.35,718.04 1810.91,718.04 1811.47,718.04 1812.04,718.04 1812.6,718.04 1813.16,718.04 1813.72,718.04 1814.29,718.04 1814.85,718.04 1815.41,718.04 1815.98,718.04 1816.54,718.04 1817.1,718.04 1817.67,718.04 1818.23,718.04 1818.79,718.04 1819.36,718.04 1819.92,718.04 1820.48,718.04 1821.05,718.04 1821.61,718.04 1822.17,718.04 1822.73,718.04 1823.3,718.04 1823.86,718.04 1824.42,718.04 1824.99,718.04 1825.55,718.04 1826.11,718.04 1826.68,718.04 1827.24,718.04 1827.8,718.04 1828.37,718.04 1828.93,718.04 1829.49,718.04 1830.05,718.04 1830.62,718.04 1831.18,718.04 1831.74,718.04 1832.31,718.04 1832.87,718.04 1833.43,718.04 1834,718.04 1834.56,718.04 1835.12,718.04 1835.69,718.04 1836.25,718.04 1836.81,718.04 1837.37,718.04 1837.94,718.04 1838.5,718.04 1839.06,718.04 1839.63,718.04 1840.19,718.04 1840.75,718.04 1841.32,718.04 1841.88,718.04 1842.44,718.04 1843.01,718.04 1843.57,718.04 1844.13,718.04 1844.7,718.04 1845.26,718.04 1845.82,718.04 1846.38,718.04 1846.95,718.04 1847.51,718.04 1848.07,718.04 1848.64,718.04 1849.2,718.04 1849.76,718.04 1850.33,718.04 1850.89,718.04 1851.45,718.04 1852.02,718.04 1852.58,718.04 1853.14,718.04 1853.7,718.04 1854.27,718.04 1854.83,718.04 1855.39,718.04 1855.96,718.04 1856.52,718.04 1857.08,718.04 1857.65,718.04 1858.21,718.04 1858.77,718.04 1859.34,718.04 1859.9,718.04 1860.46,718.04 1861.03,718.04 1861.59,718.04 1862.15,718.04 1862.71,718.04 1863.28,718.04 1863.84,718.04 1864.4,718.04 1864.97,718.04 1865.53,718.04 1866.09,718.04 1866.66,718.04 1867.22,718.04 1867.78,718.04 1868.35,718.04 1868.91,718.04 1869.47,718.04 1870.03,718.04 1870.6,718.04 1871.16,718.04 1871.72,718.04 1872.29,718.04 1872.85,718.04 1873.41,718.04 1873.98,718.04 1874.54,718.04 1875.1,718.04 1875.67,718.04 1876.23,718.04 1876.79,718.04 1877.36,718.04 1877.92,718.04 1878.48,718.04 1879.04,718.04 1879.61,718.04 1880.17,718.04 1880.73,718.04 1881.3,718.04 1881.86,718.04 1882.42,718.04 1882.99,718.04 1883.55,720.52 1884.11,720.52 1884.68,720.52 1885.24,720.52 1885.8,720.52 1886.36,720.52 1886.93,720.52 1887.49,720.52 1888.05,720.52 1888.62,720.52 1889.18,720.52 1889.74,720.52 1890.31,720.52 1890.87,720.52 1891.43,720.52 1892,720.52 1892.56,720.52 1893.12,720.52 1893.68,720.52 1894.25,720.52 1894.81,720.52 1895.37,720.52 1895.94,720.52 1896.5,720.52 1897.06,720.52 1897.63,720.52 1898.19,720.52 1898.75,720.52 1899.32,720.52 1899.88,720.52 1900.44,720.52 1901.01,720.52 1901.57,720.52 1902.13,720.52 1902.69,720.52 1903.26,720.52 1903.82,720.52 1904.38,720.52 1904.95,720.52 1905.51,720.52 1906.07,720.52 1906.64,720.52 1907.2,720.52 1907.76,720.52 1908.33,720.52 1908.89,720.52 1909.45,720.52 1910.01,720.52 1910.58,720.52 1911.14,720.52 1911.7,720.52 1912.27,720.52 1912.83,720.52 1913.39,720.52 1913.96,720.52 1914.52,720.52 1915.08,720.52 1915.65,720.52 1916.21,720.52 1916.77,720.52 1917.34,720.52 1917.9,720.52 1918.46,720.52 1919.02,720.52 1919.59,720.52 1920.15,720.52 1920.71,720.52 1921.28,720.52 1921.84,720.52 1922.4,720.52 1922.97,720.52 1923.53,720.52 1924.09,720.52 1924.66,720.52 1925.22,720.52 1925.78,720.52 1926.34,720.52 1926.91,720.52 1927.47,720.52 1928.03,720.52 1928.6,720.52 1929.16,720.52 1929.72,720.52 1930.29,720.52 1930.85,720.52 1931.41,720.52 1931.98,720.52 1932.54,720.52 1933.1,720.52 1933.66,720.52 1934.23,720.52 1934.79,720.52 1935.35,720.52 1935.92,720.52 1936.48,720.52 1937.04,720.52 1937.61,720.52 1938.17,720.52 1938.73,720.52 1939.3,720.52 1939.86,720.52 1940.42,720.52 1940.99,720.52 1941.55,720.52 1942.11,720.52 1942.67,720.52 1943.24,720.52 1943.8,720.52 1944.36,720.52 1944.93,720.52 1945.49,720.52 1946.05,720.52 1946.62,720.52 1947.18,720.52 1947.74,720.52 1948.31,720.52 1948.87,720.52 1949.43,720.52 1949.99,720.52 1950.56,720.52 1951.12,720.52 1951.68,720.52 1952.25,720.52 1952.81,720.52 1953.37,720.52 1953.94,720.52 1954.5,720.52 1955.06,720.52 1955.63,720.52 1956.19,720.52 1956.75,720.52 1957.32,720.52 1957.88,720.52 1958.44,720.52 1959,720.52 1959.57,720.52 1960.13,720.52 1960.69,720.52 1961.26,720.52 1961.82,720.52 1962.38,720.52 1962.95,720.52 1963.51,720.52 1964.07,720.52 1964.64,720.52 1965.2,720.52 1965.76,720.52 1966.32,720.52 1966.89,720.52 1967.45,720.52 1968.01,720.52 1968.58,720.52 1969.14,720.52 1969.7,720.52 1970.27,720.52 1970.83,720.52 1971.39,720.52 1971.96,720.52 1972.52,720.52 1973.08,720.52 1973.65,720.52 1974.21,720.52 1974.77,720.52 1975.33,720.52 1975.9,720.52 1976.46,720.52 1977.02,720.52 1977.59,720.52 1978.15,720.52 1978.71,720.52 1979.28,720.52 1979.84,720.52 1980.4,720.52 1980.97,720.52 1981.53,720.52 1982.09,720.52 1982.65,720.52 1983.22,720.52 1983.78,720.52 1984.34,720.52 1984.91,720.52 1985.47,720.52 1986.03,720.52 1986.6,720.52 1987.16,720.52 1987.72,720.52 1988.29,720.52 1988.85,720.52 1989.41,720.52 1989.97,720.52 1990.54,720.52 1991.1,720.52 1991.66,720.52 1992.23,720.52 1992.79,720.52 1993.35,720.52 1993.92,720.52 1994.48,720.52 1995.04,720.52 1995.61,720.52 1996.17,720.52 1996.73,720.52 1997.3,720.52 1997.86,720.52 1998.42,720.52 1998.98,720.52 1999.55,720.52 2000.11,720.52 2000.67,720.52 2001.24,720.52 2001.8,720.52 2002.36,720.52 2002.93,720.52 2003.49,720.52 2004.05,720.52 2004.62,720.52 2005.18,720.52 2005.74,720.52 2006.3,720.52 2006.87,720.52 2007.43,720.52 2007.99,720.52 2008.56,720.52 2009.12,720.52 2009.68,720.52 2010.25,720.52 2010.81,720.52 2011.37,720.52 2011.94,720.52 2012.5,720.52 2013.06,720.52 2013.63,720.52 2014.19,720.52 2014.75,720.52 2015.31,720.52 2015.88,720.52 2016.44,720.52 2017,720.52 2017.57,720.52 2018.13,720.52 2018.69,720.52 2019.26,720.52 2019.82,720.52 2020.38,720.52 2020.95,720.52 2021.51,720.52 2022.07,720.52 2022.63,720.52 2023.2,720.52 2023.76,720.52 2024.32,720.52 2024.89,720.52 2025.45,720.52 2026.01,720.52 2026.58,720.52 2027.14,720.52 2027.7,720.52 2028.27,720.52 2028.83,720.52 2029.39,720.52 2029.96,720.52 2030.52,720.52 2031.08,720.52 2031.64,720.52 2032.21,720.52 2032.77,720.52 2033.33,720.52 2033.9,720.52 2034.46,720.52 2035.02,720.52 2035.59,720.52 2036.15,720.52 2036.71,720.52 2037.28,720.52 2037.84,720.52 2038.4,720.52 2038.96,720.52 2039.53,720.52 2040.09,720.52 2040.65,720.52 2041.22,720.52 2041.78,720.52 2042.34,720.52 2042.91,720.52 2043.47,720.52 2044.03,720.52 2044.6,720.52 2045.16,720.52 2045.72,720.52 2046.28,720.52 2046.85,720.52 2047.41,720.52 2047.97,720.52 2048.54,720.52 2049.1,720.52 2049.66,720.52 2050.23,720.52 2050.79,720.52 2051.35,720.52 2051.92,720.52 2052.48,720.52 2053.04,720.52 2053.61,720.52 2054.17,720.52 2054.73,720.52 2055.29,720.52 2055.86,720.52 2056.42,720.52 2056.98,720.52 2057.55,720.52 2058.11,720.52 2058.67,720.52 2059.24,720.52 2059.8,720.52 2060.36,720.52 2060.93,720.52 2061.49,720.52 2062.05,720.52 2062.61,720.52 2063.18,720.52 2063.74,720.52 2064.3,720.52 2064.87,720.52 2065.43,720.52 2065.99,720.52 2066.56,720.52 2067.12,720.52 2067.68,720.52 2068.25,720.52 2068.81,720.52 2069.37,720.52 2069.94,720.52 2070.5,720.52 2071.06,720.52 2071.62,720.52 2072.19,720.52 2072.75,720.52 2073.31,720.52 2073.88,720.52 2074.44,720.52 2075,720.52 2075.57,720.52 2076.13,720.52 2076.69,720.52 2077.26,720.52 2077.82,720.52 2078.38,720.52 2078.94,720.52 2079.51,720.52 2080.07,720.52 2080.63,720.52 2081.2,720.52 2081.76,720.52 2082.32,720.52 2082.89,720.52 2083.45,720.52 2084.01,720.52 2084.58,720.52 2085.14,720.52 2085.7,720.52 2086.27,720.52 2086.83,720.52 2087.39,720.52 2087.95,720.52 2088.52,720.52 2089.08,720.52 2089.64,720.52 2090.21,720.52 2090.77,720.52 2091.33,720.52 2091.9,720.52" fill="none" stroke="#B2B2B2" stroke-width="2.7" stroke-linejoin="round"/>
<g stroke="#fff" stroke-opacity="0.6" stroke-width="2.8"><use href="#sb"/></g>
<g id="sb">
<g>
<g fill="#D95F02"><circle cx="1286.66" cy="42" r="11"/><circle cx="1287.23" cy="69" r="11"/><circle cx="1287.79" cy="99.3" r="11"/><circle cx="1288.35" cy="100.9" r="11"/></g>
<g fill="#D0D0D0"><circle cx="1288.92" cy="143" r="11"/></g>
<g fill="#D95F02"><circle cx="1289.48" cy="150.8" r="11"/><circle cx="1290.04" cy="200" r="11"/><circle cx="1290.6" cy="217.5" r="11"/><circle cx="1291.17" cy="246.8" r="11"/><circle cx="1291.73" cy="247.3" r="11"/><circle cx="1292.29" cy="275.4" r="11"/></g>
<g fill="#D0D0D0"><circle cx="1292.86" cy="278.6" r="11"/></g>
<g fill="#D95F02"><circle cx="1293.42" cy="279.6" r="11"/></g>
<g fill="#D0D0D0"><circle cx="1293.98" cy="284" r="11"/></g>
<g fill="#D95F02"><circle cx="1294.55" cy="285" r="11"/><circle cx="1295.11" cy="289" r="11"/><circle cx="1295.67" cy="293.2" r="11"/><circle cx="1296.24" cy="297.4" r="11"/><circle cx="1296.8" cy="301.6" r="11"/><circle cx="1297.36" cy="305.8" r="11"/><circle cx="1297.93" cy="310" r="11"/><circle cx="1298.49" cy="314.2" r="11"/><circle cx="1299.05" cy="339.5" r="11"/></g>
<g fill="#D0D0D0"><circle cx="1299.61" cy="345" r="11"/></g>
<g fill="#D95F02"><circle cx="1300.18" cy="346" r="11"/><circle cx="1300.74" cy="351" r="11"/><circle cx="1301.3" cy="356.38" r="11"/><circle cx="1301.87" cy="361.75" r="11"/><circle cx="1302.43" cy="367.12" r="11"/><circle cx="1302.99" cy="372.5" r="11"/></g>
<g fill="#D0D0D0"><circle cx="1303.56" cy="384" r="11"/></g>
<g fill="#D95F02"><circle cx="1304.12" cy="395" r="11"/></g>
<g fill="#0072B5"><circle cx="1304.68" cy="410" r="11"/></g>
<g fill="#D0D0D0"><circle cx="1305.25" cy="415" r="11"/></g>
<g fill="#0072B5"><circle cx="1305.81" cy="422.5" r="11"/><circle cx="1306.37" cy="426.25" r="11"/></g>
<g fill="#D95F02"><circle cx="1306.93" cy="430" r="11"/><circle cx="1307.5" cy="433.75" r="11"/><circle cx="1308.06" cy="437.5" r="11"/><circle cx="1308.62" cy="440.33" r="11"/><circle cx="1309.19" cy="443.17" r="11"/></g>
<g fill="#D0D0D0"><circle cx="1309.75" cy="446" r="11"/></g>
<g fill="#D95F02"><circle cx="1310.31" cy="451.75" r="11"/><circle cx="1310.88" cy="457.5" r="11"/><circle cx="1311.44" cy="464.25" r="11"/></g>
<g fill="#D0D0D0"><circle cx="1312" cy="471" r="11"/></g>
<g fill="#D95F02"><circle cx="1312.57" cy="475.24" r="11"/><circle cx="1313.13" cy="475.24" r="11"/><circle cx="1313.69" cy="480.2" r="11"/><circle cx="1314.25" cy="480.2" r="11"/><circle cx="1314.82" cy="480.2" r="11"/></g>
<g fill="#D0D0D0"><circle cx="1315.38" cy="485.15" r="11"/></g>
<g fill="#D95F02"><circle cx="1315.94" cy="485.15" r="11"/><circle cx="1316.51" cy="490.11" r="11"/><circle cx="1317.07" cy="490.11" r="11"/><circle cx="1317.63" cy="495.06" r="11"/></g>
<g fill="#D0D0D0"><circle cx="1318.2" cy="495.06" r="11"/></g>
<g fill="#D95F02"><circle cx="1318.76" cy="500.02" r="11"/><circle cx="1319.32" cy="500.02" r="11"/><circle cx="1319.89" cy="504.97" r="11"/></g>
<g fill="#D0D0D0"><circle cx="1320.45" cy="504.97" r="11"/></g>
<g fill="#D95F02"><circle cx="1321.01" cy="504.97" r="11"/><circle cx="1321.58" cy="509.93" r="11"/><circle cx="1322.14" cy="509.93" r="11"/></g>
<g fill="#D0D0D0"><circle cx="1322.7" cy="509.93" r="11"/></g>
<g fill="#D95F02"><circle cx="1323.26" cy="514.88" r="11"/><circle cx="1323.83" cy="514.88" r="11"/><circle cx="1324.39" cy="519.84" r="11"/><circle cx="1324.95" cy="519.84" r="11"/><circle cx="1325.52" cy="519.84" r="11"/><circle cx="1326.08" cy="519.84" r="11"/></g>
<g fill="#0072B5"><circle cx="1326.64" cy="524.79" r="11"/><circle cx="1327.21" cy="524.79" r="11"/><circle cx="1327.77" cy="524.79" r="11"/><circle cx="1328.33" cy="524.79" r="11"/><circle cx="1328.9" cy="529.75" r="11"/><circle cx="1329.46" cy="529.75" r="11"/><circle cx="1330.02" cy="529.75" r="11"/><circle cx="1330.58" cy="529.75" r="11"/><circle cx="1331.15" cy="534.7" r="11"/><circle cx="1331.71" cy="534.7" r="11"/><circle cx="1332.27" cy="534.7" r="11"/><circle cx="1332.84" cy="534.7" r="11"/></g>
<g fill="#D0D0D0"><circle cx="1333.4" cy="539.66" r="11"/><circle cx="1333.96" cy="539.66" r="11"/><circle cx="1334.53" cy="539.66" r="11"/><circle cx="1335.09" cy="539.66" r="11"/><circle cx="1335.65" cy="544.61" r="11"/><circle cx="1336.22" cy="544.61" r="11"/><circle cx="1336.78" cy="544.61" r="11"/></g>
<g fill="#0072B5"><circle cx="1337.34" cy="549.57" r="11"/><circle cx="1337.91" cy="549.57" r="11"/></g>
<g fill="#D95F02"><circle cx="1338.47" cy="554.52" r="11"/><circle cx="1339.03" cy="554.52" r="11"/><circle cx="1339.59" cy="554.52" r="11"/></g>
<g fill="#0072B5"><circle cx="1340.16" cy="559.48" r="11"/><circle cx="1340.72" cy="559.48" r="11"/><circle cx="1341.28" cy="559.48" r="11"/><circle cx="1341.85" cy="559.48" r="11"/><circle cx="1342.41" cy="564.43" r="11"/><circle cx="1342.97" cy="564.43" r="11"/><circle cx="1343.54" cy="564.43" r="11"/><circle cx="1344.1" cy="564.43" r="11"/><circle cx="1344.66" cy="564.43" r="11"/></g>
<g fill="#D95F02"><circle cx="1345.23" cy="569.39" r="11"/><circle cx="1345.79" cy="569.39" r="11"/><circle cx="1346.35" cy="569.39" r="11"/><circle cx="1346.91" cy="569.39" r="11"/><circle cx="1347.48" cy="574.34" r="11"/><circle cx="1348.04" cy="574.34" r="11"/><circle cx="1348.6" cy="574.34" r="11"/><circle cx="1349.17" cy="574.34" r="11"/></g>
<g fill="#0072B5"><circle cx="1349.73" cy="579.3" r="11"/><circle cx="1350.29" cy="579.3" r="11"/><circle cx="1350.86" cy="579.3" r="11"/><circle cx="1351.42" cy="579.3" r="11"/><circle cx="1351.98" cy="579.3" r="11"/></g>
<g fill="#D95F02"><circle cx="1352.55" cy="584.25" r="11"/><circle cx="1353.11" cy="584.25" r="11"/><circle cx="1353.67" cy="584.25" r="11"/><circle cx="1354.24" cy="584.25" r="11"/><circle cx="1354.8" cy="589.21" r="11"/><circle cx="1355.36" cy="589.21" r="11"/><circle cx="1355.92" cy="589.21" r="11"/><circle cx="1356.49" cy="589.21" r="11"/></g>
<g fill="#0072B5"><circle cx="1357.05" cy="594.16" r="11"/><circle cx="1357.61" cy="594.16" r="11"/><circle cx="1358.18" cy="594.16" r="11"/><circle cx="1358.74" cy="594.16" r="11"/><circle cx="1359.3" cy="594.16" r="11"/></g>
<g fill="#D0D0D0"><circle cx="1359.87" cy="599.12" r="11"/><circle cx="1360.43" cy="599.12" r="11"/><circle cx="1360.99" cy="599.12" r="11"/><circle cx="1361.56" cy="599.12" r="11"/><circle cx="1362.12" cy="599.12" r="11"/><circle cx="1362.68" cy="599.12" r="11"/></g>
<g fill="#0072B5"><circle cx="1363.24" cy="604.08" r="11"/><circle cx="1363.81" cy="604.08" r="11"/><circle cx="1364.37" cy="604.08" r="11"/><circle cx="1364.93" cy="604.08" r="11"/><circle cx="1365.5" cy="604.08" r="11"/><circle cx="1366.06" cy="604.08" r="11"/></g>
<g fill="#D95F02"><circle cx="1366.62" cy="609.03" r="11"/><circle cx="1367.19" cy="609.03" r="11"/><circle cx="1367.75" cy="609.03" r="11"/><circle cx="1368.31" cy="609.03" r="11"/><circle cx="1368.88" cy="609.03" r="11"/><circle cx="1369.44" cy="609.03" r="11"/></g>
<g fill="#D0D0D0"><circle cx="1370" cy="613.99" r="11"/></g>
<g fill="#D95F02"><circle cx="1370.56" cy="611.51" r="11"/></g>
<g fill="#D0D0D0"><circle cx="1371.13" cy="613.99" r="11"/></g>
<g fill="#0072B5"><circle cx="1371.69" cy="613.99" r="11"/><circle cx="1372.25" cy="613.99" r="11"/></g>
<g fill="#D95F02"><circle cx="1372.82" cy="616.46" r="11"/></g>
<g fill="#D0D0D0"><circle cx="1373.38" cy="616.46" r="11"/></g>
<g fill="#0072B5"><circle cx="1373.94" cy="616.46" r="11"/></g>
<g fill="#D95F02"><circle cx="1374.51" cy="618.94" r="11"/></g>
<g fill="#D0D0D0"><circle cx="1375.07" cy="618.94" r="11"/></g>
<g fill="#0072B5"><circle cx="1375.63" cy="618.94" r="11"/><circle cx="1376.2" cy="618.94" r="11"/></g>
<g fill="#D95F02"><circle cx="1376.76" cy="621.42" r="11"/><circle cx="1377.32" cy="621.42" r="11"/></g>
<g fill="#0072B5"><circle cx="1377.89" cy="621.42" r="11"/></g>
<g fill="#D0D0D0"><circle cx="1378.45" cy="623.9" r="11"/><circle cx="1379.01" cy="623.9" r="11"/></g>
<g fill="#0072B5"><circle cx="1379.57" cy="623.9" r="11"/></g>
<g fill="#D95F02"><circle cx="1380.14" cy="626.37" r="11"/><circle cx="1380.7" cy="626.37" r="11"/><circle cx="1381.26" cy="626.37" r="11"/></g>
<g fill="#0072B5"><circle cx="1381.83" cy="626.37" r="11"/></g>
<g fill="#D0D0D0"><circle cx="1382.39" cy="628.85" r="11"/><circle cx="1382.95" cy="628.85" r="11"/></g>
<g fill="#0072B5"><circle cx="1383.52" cy="628.85" r="11"/><circle cx="1384.08" cy="628.85" r="11"/></g>
<g fill="#D95F02"><circle cx="1384.64" cy="631.33" r="11"/></g>
<g fill="#D0D0D0"><circle cx="1385.21" cy="631.33" r="11"/></g>
<g fill="#0072B5"><circle cx="1385.77" cy="631.33" r="11"/><circle cx="1386.33" cy="631.33" r="11"/></g>
<g fill="#D95F02"><circle cx="1386.89" cy="633.81" r="11"/><circle cx="1387.46" cy="633.81" r="11"/></g>
<g fill="#0072B5"><circle cx="1388.02" cy="633.81" r="11"/><circle cx="1388.58" cy="633.81" r="11"/></g>
<g fill="#D95F02"><circle cx="1389.15" cy="636.28" r="11"/><circle cx="1389.71" cy="636.28" r="11"/></g>
<g fill="#0072B5"><circle cx="1390.27" cy="636.28" r="11"/><circle cx="1390.84" cy="636.28" r="11"/></g>
<g fill="#D95F02"><circle cx="1391.4" cy="638.76" r="11"/></g>
<g fill="#D0D0D0"><circle cx="1391.96" cy="638.76" r="11"/></g>
<g fill="#0072B5"><circle cx="1392.53" cy="638.76" r="11"/><circle cx="1393.09" cy="638.76" r="11"/><circle cx="1393.65" cy="638.76" r="11"/></g>
<g fill="#D95F02"><circle cx="1394.22" cy="641.24" r="11"/><circle cx="1394.78" cy="641.24" r="11"/><circle cx="1395.34" cy="641.24" r="11"/></g>
<g fill="#0072B5"><circle cx="1395.9" cy="641.24" r="11"/><circle cx="1396.47" cy="641.24" r="11"/><circle cx="1397.03" cy="641.24" r="11"/></g>
<g fill="#D95F02"><circle cx="1397.59" cy="643.72" r="11"/><circle cx="1398.16" cy="643.72" r="11"/></g>
<g fill="#D0D0D0"><circle cx="1398.72" cy="643.72" r="11"/></g>
<g fill="#0072B5"><circle cx="1399.28" cy="643.72" r="11"/><circle cx="1399.85" cy="643.72" r="11"/></g>
<g fill="#D95F02"><circle cx="1400.41" cy="646.19" r="11"/></g>
<g fill="#D0D0D0"><circle cx="1400.97" cy="646.19" r="11"/></g>
<g fill="#0072B5"><circle cx="1401.54" cy="646.19" r="11"/><circle cx="1402.1" cy="646.19" r="11"/><circle cx="1402.66" cy="646.19" r="11"/><circle cx="1403.22" cy="646.19" r="11"/></g>
<g fill="#D95F02"><circle cx="1403.79" cy="648.67" r="11"/><circle cx="1404.35" cy="648.67" r="11"/><circle cx="1404.91" cy="648.67" r="11"/><circle cx="1405.48" cy="648.67" r="11"/></g>
<g fill="#D0D0D0"><circle cx="1406.04" cy="648.67" r="11"/><circle cx="1406.6" cy="648.67" r="11"/><circle cx="1407.17" cy="648.67" r="11"/></g>
<g fill="#D95F02"><circle cx="1407.73" cy="651.15" r="11"/></g>
<g fill="#D0D0D0"><circle cx="1408.29" cy="651.15" r="11"/></g>
<g fill="#0072B5"><circle cx="1408.86" cy="651.15" r="11"/><circle cx="1409.42" cy="651.15" r="11"/><circle cx="1409.98" cy="651.15" r="11"/><circle cx="1410.55" cy="651.15" r="11"/><circle cx="1411.11" cy="651.15" r="11"/></g>
<g fill="#D95F02"><circle cx="1411.67" cy="653.63" r="11"/><circle cx="1412.23" cy="653.63" r="11"/><circle cx="1412.8" cy="653.63" r="11"/></g>
<g fill="#0072B5"><circle cx="1413.36" cy="653.63" r="11"/><circle cx="1413.92" cy="653.63" r="11"/><circle cx="1414.49" cy="653.63" r="11"/><circle cx="1415.05" cy="653.63" r="11"/></g>
<g fill="#D95F02"><circle cx="1415.61" cy="656.1" r="11"/><circle cx="1416.18" cy="656.1" r="11"/></g>
<g fill="#D0D0D0"><circle cx="1416.74" cy="656.1" r="11"/><circle cx="1417.3" cy="656.1" r="11"/></g>
<g fill="#0072B5"><circle cx="1417.87" cy="656.1" r="11"/><circle cx="1418.43" cy="656.1" r="11"/><circle cx="1418.99" cy="656.1" r="11"/><circle cx="1419.55" cy="658.58" r="11"/><circle cx="1420.12" cy="658.58" r="11"/><circle cx="1420.68" cy="658.58" r="11"/><circle cx="1421.24" cy="658.58" r="11"/><circle cx="1421.81" cy="658.58" r="11"/><circle cx="1422.37" cy="658.58" r="11"/><circle cx="1422.93" cy="658.58" r="11"/></g>
<g fill="#D0D0D0"><circle cx="1423.5" cy="661.06" r="11"/><circle cx="1424.06" cy="661.06" r="11"/></g>
<g fill="#0072B5"><circle cx="1424.62" cy="661.06" r="11"/><circle cx="1425.19" cy="661.06" r="11"/><circle cx="1425.75" cy="661.06" r="11"/><circle cx="1426.31" cy="661.06" r="11"/><circle cx="1426.88" cy="661.06" r="11"/><circle cx="1427.44" cy="661.06" r="11"/></g>
<g fill="#D95F02"><circle cx="1428" cy="663.54" r="11"/></g>
<g fill="#D0D0D0"><circle cx="1428.56" cy="663.54" r="11"/></g>
<g fill="#0072B5"><circle cx="1429.13" cy="663.54" r="11"/><circle cx="1429.69" cy="663.54" r="11"/><circle cx="1430.25" cy="663.54" r="11"/><circle cx="1430.82" cy="663.54" r="11"/><circle cx="1431.38" cy="663.54" r="11"/><circle cx="1431.94" cy="663.54" r="11"/></g>
<g fill="#D95F02"><circle cx="1432.51" cy="666.02" r="11"/><circle cx="1433.07" cy="666.02" r="11"/></g>
<g fill="#D0D0D0"><circle cx="1433.63" cy="666.02" r="11"/></g>
<g fill="#0072B5"><circle cx="1434.2" cy="666.02" r="11"/><circle cx="1434.76" cy="666.02" r="11"/><circle cx="1435.32" cy="666.02" r="11"/><circle cx="1435.88" cy="666.02" r="11"/><circle cx="1436.45" cy="666.02" r="11"/><circle cx="1437.01" cy="666.02" r="11"/></g>
<g fill="#D95F02"><circle cx="1437.57" cy="668.49" r="11"/></g>
<g fill="#D0D0D0"><circle cx="1438.14" cy="668.49" r="11"/><circle cx="1438.7" cy="668.49" r="11"/></g>
<g fill="#0072B5"><circle cx="1439.26" cy="668.49" r="11"/><circle cx="1439.83" cy="668.49" r="11"/><circle cx="1440.39" cy="668.49" r="11"/><circle cx="1440.95" cy="668.49" r="11"/><circle cx="1441.52" cy="668.49" r="11"/><circle cx="1442.08" cy="668.49" r="11"/></g>
<g fill="#D0D0D0"><circle cx="1442.64" cy="670.97" r="11"/><circle cx="1443.2" cy="670.97" r="11"/><circle cx="1443.77" cy="670.97" r="11"/><circle cx="1444.33" cy="670.97" r="11"/></g>
<g fill="#0072B5"><circle cx="1444.89" cy="670.97" r="11"/><circle cx="1445.46" cy="670.97" r="11"/><circle cx="1446.02" cy="670.97" r="11"/><circle cx="1446.58" cy="670.97" r="11"/><circle cx="1447.15" cy="670.97" r="11"/></g>
<g fill="#D0D0D0"><circle cx="1447.71" cy="673.45" r="11"/><circle cx="1448.27" cy="673.45" r="11"/><circle cx="1448.84" cy="673.45" r="11"/></g>
<g fill="#0072B5"><circle cx="1449.4" cy="673.45" r="11"/><circle cx="1449.96" cy="673.45" r="11"/><circle cx="1450.53" cy="673.45" r="11"/><circle cx="1451.09" cy="673.45" r="11"/><circle cx="1451.65" cy="673.45" r="11"/><circle cx="1452.21" cy="673.45" r="11"/></g>
<g fill="#D95F02"><circle cx="1452.78" cy="675.93" r="11"/></g>
<g fill="#D0D0D0"><circle cx="1453.34" cy="675.93" r="11"/><circle cx="1453.9" cy="675.93" r="11"/><circle cx="1454.47" cy="675.93" r="11"/></g>
<g fill="#0072B5"><circle cx="1455.03" cy="675.93" r="11"/><circle cx="1455.59" cy="675.93" r="11"/><circle cx="1456.16" cy="675.93" r="11"/><circle cx="1456.72" cy="675.93" r="11"/><circle cx="1457.28" cy="675.93" r="11"/><circle cx="1457.85" cy="675.93" r="11"/></g>
<g fill="#D95F02"><circle cx="1458.41" cy="678.4" r="11"/><circle cx="1458.97" cy="678.4" r="11"/></g>
<g fill="#D0D0D0"><circle cx="1459.53" cy="678.4" r="11"/><circle cx="1460.1" cy="678.4" r="11"/></g>
<g fill="#0072B5"><circle cx="1460.66" cy="678.4" r="11"/><circle cx="1461.22" cy="678.4" r="11"/><circle cx="1461.79" cy="678.4" r="11"/><circle cx="1462.35" cy="678.4" r="11"/><circle cx="1462.91" cy="678.4" r="11"/><circle cx="1463.48" cy="678.4" r="11"/><circle cx="1464.04" cy="678.4" r="11"/></g>
<g fill="#D95F02"><circle cx="1464.6" cy="680.88" r="11"/><circle cx="1465.17" cy="680.88" r="11"/><circle cx="1465.73" cy="680.88" r="11"/><circle cx="1466.29" cy="680.88" r="11"/><circle cx="1466.86" cy="680.88" r="11"/></g>
<g fill="#D0D0D0"><circle cx="1467.42" cy="680.88" r="11"/><circle cx="1467.98" cy="680.88" r="11"/></g>
<g fill="#0072B5"><circle cx="1468.54" cy="680.88" r="11"/><circle cx="1469.11" cy="680.88" r="11"/><circle cx="1469.67" cy="680.88" r="11"/><circle cx="1470.23" cy="680.88" r="11"/><circle cx="1470.8" cy="680.88" r="11"/></g>
<g fill="#D95F02"><circle cx="1471.36" cy="683.36" r="11"/></g>
<g fill="#D0D0D0"><circle cx="1471.92" cy="683.36" r="11"/><circle cx="1472.49" cy="683.36" r="11"/></g>
<g fill="#0072B5"><circle cx="1473.05" cy="683.36" r="11"/><circle cx="1473.61" cy="683.36" r="11"/><circle cx="1474.18" cy="683.36" r="11"/><circle cx="1474.74" cy="683.36" r="11"/><circle cx="1475.3" cy="683.36" r="11"/><circle cx="1475.86" cy="683.36" r="11"/><circle cx="1476.43" cy="683.36" r="11"/><circle cx="1476.99" cy="683.36" r="11"/></g>
<g fill="#D95F02"><circle cx="1477.55" cy="685.84" r="11"/><circle cx="1478.12" cy="685.84" r="11"/></g>
<g fill="#D0D0D0"><circle cx="1478.68" cy="685.84" r="11"/><circle cx="1479.24" cy="685.84" r="11"/><circle cx="1479.81" cy="685.84" r="11"/><circle cx="1480.37" cy="685.84" r="11"/></g>
<g fill="#0072B5"><circle cx="1480.93" cy="685.84" r="11"/><circle cx="1481.5" cy="685.84" r="11"/><circle cx="1482.06" cy="685.84" r="11"/><circle cx="1482.62" cy="685.84" r="11"/><circle cx="1483.18" cy="685.84" r="11"/><circle cx="1483.75" cy="685.84" r="11"/><circle cx="1484.31" cy="685.84" r="11"/><circle cx="1484.87" cy="685.84" r="11"/></g>
<g fill="#D95F02"><circle cx="1485.44" cy="688.31" r="11"/></g>
<g fill="#D0D0D0"><circle cx="1486" cy="688.31" r="11"/><circle cx="1486.56" cy="688.31" r="11"/></g>
<g fill="#0072B5"><circle cx="1487.13" cy="688.31" r="11"/><circle cx="1487.69" cy="688.31" r="11"/><circle cx="1488.25" cy="688.31" r="11"/><circle cx="1488.82" cy="688.31" r="11"/><circle cx="1489.38" cy="688.31" r="11"/><circle cx="1489.94" cy="688.31" r="11"/><circle cx="1490.51" cy="688.31" r="11"/><circle cx="1491.07" cy="688.31" r="11"/><circle cx="1491.63" cy="688.31" r="11"/><circle cx="1492.19" cy="688.31" r="11"/><circle cx="1492.76" cy="688.31" r="11"/><circle cx="1493.32" cy="688.31" r="11"/></g>
<g fill="#D95F02"><circle cx="1493.88" cy="690.79" r="11"/></g>
<g fill="#D0D0D0"><circle cx="1494.45" cy="690.79" r="11"/><circle cx="1495.01" cy="690.79" r="11"/><circle cx="1495.57" cy="690.79" r="11"/></g>
<g fill="#0072B5"><circle cx="1496.14" cy="690.79" r="11"/><circle cx="1496.7" cy="690.79" r="11"/><circle cx="1497.26" cy="690.79" r="11"/><circle cx="1497.83" cy="690.79" r="11"/><circle cx="1498.39" cy="690.79" r="11"/><circle cx="1498.95" cy="690.79" r="11"/><circle cx="1499.51" cy="690.79" r="11"/><circle cx="1500.08" cy="690.79" r="11"/><circle cx="1500.64" cy="690.79" r="11"/><circle cx="1501.2" cy="690.79" r="11"/><circle cx="1501.77" cy="690.79" r="11"/></g>
<g fill="#D95F02"><circle cx="1502.33" cy="693.27" r="11"/><circle cx="1502.89" cy="693.27" r="11"/><circle cx="1503.46" cy="693.27" r="11"/><circle cx="1504.02" cy="693.27" r="11"/></g>
<g fill="#D0D0D0"><circle cx="1504.58" cy="693.27" r="11"/><circle cx="1505.15" cy="693.27" r="11"/></g>
<g fill="#0072B5"><circle cx="1505.71" cy="693.27" r="11"/><circle cx="1506.27" cy="693.27" r="11"/><circle cx="1506.84" cy="693.27" r="11"/><circle cx="1507.4" cy="693.27" r="11"/><circle cx="1507.96" cy="693.27" r="11"/><circle cx="1508.52" cy="693.27" r="11"/><circle cx="1509.09" cy="693.27" r="11"/><circle cx="1509.65" cy="693.27" r="11"/><circle cx="1510.21" cy="693.27" r="11"/><circle cx="1510.78" cy="693.27" r="11"/><circle cx="1511.34" cy="693.27" r="11"/><circle cx="1511.9" cy="693.27" r="11"/></g>
<g fill="#D95F02"><circle cx="1512.47" cy="695.75" r="11"/></g>
<g fill="#D0D0D0"><circle cx="1513.03" cy="695.75" r="11"/><circle cx="1513.59" cy="695.75" r="11"/><circle cx="1514.16" cy="695.75" r="11"/><circle cx="1514.72" cy="695.75" r="11"/><circle cx="1515.28" cy="695.75" r="11"/></g>
<g fill="#0072B5"><circle cx="1515.84" cy="695.75" r="11"/><circle cx="1516.41" cy="695.75" r="11"/><circle cx="1516.97" cy="695.75" r="11"/><circle cx="1517.53" cy="695.75" r="11"/><circle cx="1518.1" cy="695.75" r="11"/><circle cx="1518.66" cy="695.75" r="11"/><circle cx="1519.22" cy="695.75" r="11"/><circle cx="1519.79" cy="695.75" r="11"/><circle cx="1520.35" cy="695.75" r="11"/><circle cx="1520.91" cy="695.75" r="11"/><circle cx="1521.48" cy="695.75" r="11"/><circle cx="1522.04" cy="695.75" r="11"/><circle cx="1522.6" cy="695.75" r="11"/></g>
<g fill="#D95F02"><circle cx="1523.17" cy="698.22" r="11"/><circle cx="1523.73" cy="698.22" r="11"/><circle cx="1524.29" cy="698.22" r="11"/></g>
<g fill="#D0D0D0"><circle cx="1524.85" cy="698.22" r="11"/><circle cx="1525.42" cy="698.22" r="11"/></g>
<g fill="#0072B5"><circle cx="1525.98" cy="698.22" r="11"/><circle cx="1526.54" cy="698.22" r="11"/><circle cx="1527.11" cy="698.22" r="11"/><circle cx="1527.67" cy="698.22" r="11"/><circle cx="1528.23" cy="698.22" r="11"/><circle cx="1528.8" cy="698.22" r="11"/><circle cx="1529.36" cy="698.22" r="11"/><circle cx="1529.92" cy="698.22" r="11"/><circle cx="1530.49" cy="698.22" r="11"/><circle cx="1531.05" cy="698.22" r="11"/><circle cx="1531.61" cy="698.22" r="11"/><circle cx="1532.17" cy="698.22" r="11"/><circle cx="1532.74" cy="698.22" r="11"/><circle cx="1533.3" cy="698.22" r="11"/><circle cx="1533.86" cy="698.22" r="11"/><circle cx="1534.43" cy="698.22" r="11"/><circle cx="1534.99" cy="698.22" r="11"/></g>
<g fill="#D95F02"><circle cx="1535.55" cy="700.7" r="11"/><circle cx="1536.12" cy="700.7" r="11"/><circle cx="1536.68" cy="700.7" r="11"/><circle cx="1537.24" cy="700.7" r="11"/></g>
<g fill="#D0D0D0"><circle cx="1537.81" cy="700.7" r="11"/><circle cx="1538.37" cy="700.7" r="11"/><circle cx="1538.93" cy="700.7" r="11"/><circle cx="1539.49" cy="700.7" r="11"/><circle cx="1540.06" cy="700.7" r="11"/><circle cx="1540.62" cy="700.7" r="11"/><circle cx="1541.18" cy="700.7" r="11"/><circle cx="1541.75" cy="700.7" r="11"/><circle cx="1542.31" cy="700.7" r="11"/><circle cx="1542.87" cy="700.7" r="11"/><circle cx="1543.44" cy="700.7" r="11"/><circle cx="1544" cy="700.7" r="11"/></g>
<g fill="#0072B5"><circle cx="1544.56" cy="700.7" r="11"/><circle cx="1545.13" cy="700.7" r="11"/><circle cx="1545.69" cy="700.7" r="11"/><circle cx="1546.25" cy="700.7" r="11"/><circle cx="1546.82" cy="700.7" r="11"/><circle cx="1547.38" cy="700.7" r="11"/><circle cx="1547.94" cy="700.7" r="11"/><circle cx="1548.5" cy="700.7" r="11"/><circle cx="1549.07" cy="700.7" r="11"/><circle cx="1549.63" cy="700.7" r="11"/><circle cx="1550.19" cy="700.7" r="11"/><circle cx="1550.76" cy="700.7" r="11"/><circle cx="1551.32" cy="700.7" r="11"/><circle cx="1551.88" cy="700.7" r="11"/><circle cx="1552.45" cy="700.7" r="11"/><circle cx="1553.01" cy="700.7" r="11"/><circle cx="1553.57" cy="700.7" r="11"/><circle cx="1554.14" cy="700.7" r="11"/><circle cx="1554.7" cy="700.7" r="11"/></g>
<g fill="#D95F02"><circle cx="1555.26" cy="703.18" r="11"/><circle cx="1555.82" cy="703.18" r="11"/><circle cx="1556.39" cy="703.18" r="11"/></g>
<g fill="#D0D0D0"><circle cx="1556.95" cy="703.18" r="11"/><circle cx="1557.51" cy="703.18" r="11"/><circle cx="1558.08" cy="703.18" r="11"/><circle cx="1558.64" cy="703.18" r="11"/><circle cx="1559.2" cy="703.18" r="11"/><circle cx="1559.77" cy="703.18" r="11"/><circle cx="1560.33" cy="703.18" r="11"/><circle cx="1560.89" cy="703.18" r="11"/><circle cx="1561.46" cy="703.18" r="11"/></g>
<g fill="#0072B5"><circle cx="1562.02" cy="703.18" r="11"/><circle cx="1562.58" cy="703.18" r="11"/><circle cx="1563.15" cy="703.18" r="11"/><circle cx="1563.71" cy="703.18" r="11"/><circle cx="1564.27" cy="703.18" r="11"/><circle cx="1564.83" cy="703.18" r="11"/><circle cx="1565.4" cy="703.18" r="11"/><circle cx="1565.96" cy="703.18" r="11"/><circle cx="1566.52" cy="703.18" r="11"/><circle cx="1567.09" cy="703.18" r="11"/><circle cx="1567.65" cy="703.18" r="11"/><circle cx="1568.21" cy="703.18" r="11"/><circle cx="1568.78" cy="703.18" r="11"/><circle cx="1569.34" cy="703.18" r="11"/><circle cx="1569.9" cy="703.18" r="11"/><circle cx="1570.47" cy="703.18" r="11"/><circle cx="1571.03" cy="703.18" r="11"/><circle cx="1571.59" cy="703.18" r="11"/><circle cx="1572.15" cy="703.18" r="11"/><circle cx="1572.72" cy="703.18" r="11"/><circle cx="1573.28" cy="703.18" r="11"/><circle cx="1573.84" cy="703.18" r="11"/><circle cx="1574.41" cy="703.18" r="11"/><circle cx="1574.97" cy="703.18" r="11"/><circle cx="1575.53" cy="703.18" r="11"/><circle cx="1576.1" cy="703.18" r="11"/><circle cx="1576.66" cy="703.18" r="11"/><circle cx="1577.22" cy="703.18" r="11"/></g>
<g fill="#D95F02"><circle cx="1577.79" cy="705.66" r="11"/></g>
<g fill="#D0D0D0"><circle cx="1578.35" cy="705.66" r="11"/><circle cx="1578.91" cy="705.66" r="11"/><circle cx="1579.48" cy="705.66" r="11"/><circle cx="1580.04" cy="705.66" r="11"/><circle cx="1580.6" cy="705.66" r="11"/><circle cx="1581.16" cy="705.66" r="11"/><circle cx="1581.73" cy="705.66" r="11"/><circle cx="1582.29" cy="705.66" r="11"/><circle cx="1582.85" cy="705.66" r="11"/><circle cx="1583.42" cy="705.66" r="11"/><circle cx="1583.98" cy="705.66" r="11"/><circle cx="1584.54" cy="705.66" r="11"/><circle cx="1585.11" cy="705.66" r="11"/><circle cx="1585.67" cy="705.66" r="11"/><circle cx="1586.23" cy="705.66" r="11"/></g>
<g fill="#0072B5"><circle cx="1586.8" cy="705.66" r="11"/><circle cx="1587.36" cy="705.66" r="11"/><circle cx="1587.92" cy="705.66" r="11"/><circle cx="1588.48" cy="705.66" r="11"/><circle cx="1589.05" cy="705.66" r="11"/><circle cx="1589.61" cy="705.66" r="11"/><circle cx="1590.17" cy="705.66" r="11"/><circle cx="1590.74" cy="705.66" r="11"/><circle cx="1591.3" cy="705.66" r="11"/><circle cx="1591.86" cy="705.66" r="11"/><circle cx="1592.43" cy="705.66" r="11"/><circle cx="1592.99" cy="705.66" r="11"/><circle cx="1593.55" cy="705.66" r="11"/><circle cx="1594.12" cy="705.66" r="11"/><circle cx="1594.68" cy="705.66" r="11"/><circle cx="1595.24" cy="705.66" r="11"/><circle cx="1595.8" cy="705.66" r="11"/><circle cx="1596.37" cy="705.66" r="11"/><circle cx="1596.93" cy="705.66" r="11"/><circle cx="1597.49" cy="705.66" r="11"/><circle cx="1598.06" cy="705.66" r="11"/><circle cx="1598.62" cy="705.66" r="11"/><circle cx="1599.18" cy="705.66" r="11"/><circle cx="1599.75" cy="705.66" r="11"/></g>
<g fill="#D95F02"><circle cx="1600.31" cy="708.13" r="11"/><circle cx="1600.87" cy="708.13" r="11"/><circle cx="1601.44" cy="708.13" r="11"/><circle cx="1602" cy="708.13" r="11"/><circle cx="1602.56" cy="708.13" r="11"/><circle cx="1603.13" cy="708.13" r="11"/><circle cx="1603.69" cy="708.13" r="11"/><circle cx="1604.25" cy="708.13" r="11"/></g>
<g fill="#D0D0D0"><circle cx="1604.81" cy="708.13" r="11"/><circle cx="1605.38" cy="708.13" r="11"/><circle cx="1605.94" cy="708.13" r="11"/><circle cx="1606.5" cy="708.13" r="11"/><circle cx="1607.07" cy="708.13" r="11"/><circle cx="1607.63" cy="708.13" r="11"/><circle cx="1608.19" cy="708.13" r="11"/><circle cx="1608.76" cy="708.13" r="11"/><circle cx="1609.32" cy="708.13" r="11"/><circle cx="1609.88" cy="708.13" r="11"/><circle cx="1610.45" cy="708.13" r="11"/><circle cx="1611.01" cy="708.13" r="11"/><circle cx="1611.57" cy="708.13" r="11"/><circle cx="1612.13" cy="708.13" r="11"/><circle cx="1612.7" cy="708.13" r="11"/><circle cx="1613.26" cy="708.13" r="11"/></g>
<g fill="#0072B5"><circle cx="1613.82" cy="708.13" r="11"/><circle cx="1614.39" cy="708.13" r="11"/><circle cx="1614.95" cy="708.13" r="11"/><circle cx="1615.51" cy="708.13" r="11"/><circle cx="1616.08" cy="708.13" r="11"/><circle cx="1616.64" cy="708.13" r="11"/><circle cx="1617.2" cy="708.13" r="11"/><circle cx="1617.77" cy="708.13" r="11"/><circle cx="1618.33" cy="708.13" r="11"/><circle cx="1618.89" cy="708.13" r="11"/><circle cx="1619.46" cy="708.13" r="11"/><circle cx="1620.02" cy="708.13" r="11"/><circle cx="1620.58" cy="708.13" r="11"/><circle cx="1621.14" cy="708.13" r="11"/><circle cx="1621.71" cy="708.13" r="11"/><circle cx="1622.27" cy="708.13" r="11"/><circle cx="1622.83" cy="708.13" r="11"/><circle cx="1623.4" cy="708.13" r="11"/><circle cx="1623.96" cy="708.13" r="11"/><circle cx="1624.52" cy="708.13" r="11"/><circle cx="1625.09" cy="708.13" r="11"/><circle cx="1625.65" cy="708.13" r="11"/><circle cx="1626.21" cy="708.13" r="11"/><circle cx="1626.78" cy="708.13" r="11"/><circle cx="1627.34" cy="708.13" r="11"/><circle cx="1627.9" cy="708.13" r="11"/><circle cx="1628.46" cy="708.13" r="11"/><circle cx="1629.03" cy="708.13" r="11"/><circle cx="1629.59" cy="708.13" r="11"/><circle cx="1630.15" cy="708.13" r="11"/><circle cx="1630.72" cy="708.13" r="11"/><circle cx="1631.28" cy="708.13" r="11"/><circle cx="1631.84" cy="708.13" r="11"/><circle cx="1632.41" cy="708.13" r="11"/><circle cx="1632.97" cy="708.13" r="11"/></g>
<g fill="#D95F02"><circle cx="1633.53" cy="710.61" r="11"/><circle cx="1634.1" cy="710.61" r="11"/></g>
<g fill="#D0D0D0"><circle cx="1634.66" cy="710.61" r="11"/><circle cx="1635.22" cy="710.61" r="11"/><circle cx="1635.79" cy="710.61" r="11"/><circle cx="1636.35" cy="710.61" r="11"/><circle cx="1636.91" cy="710.61" r="11"/><circle cx="1637.47" cy="710.61" r="11"/></g>
<g fill="#0072B5"><circle cx="1638.04" cy="710.61" r="11"/><circle cx="1638.6" cy="710.61" r="11"/><circle cx="1639.16" cy="710.61" r="11"/><circle cx="1639.73" cy="710.61" r="11"/><circle cx="1640.29" cy="710.61" r="11"/><circle cx="1640.85" cy="710.61" r="11"/><circle cx="1641.42" cy="710.61" r="11"/><circle cx="1641.98" cy="710.61" r="11"/><circle cx="1642.54" cy="710.61" r="11"/><circle cx="1643.11" cy="710.61" r="11"/><circle cx="1643.67" cy="710.61" r="11"/><circle cx="1644.23" cy="710.61" r="11"/><circle cx="1644.79" cy="710.61" r="11"/><circle cx="1645.36" cy="710.61" r="11"/><circle cx="1645.92" cy="710.61" r="11"/><circle cx="1646.48" cy="710.61" r="11"/><circle cx="1647.05" cy="710.61" r="11"/><circle cx="1647.61" cy="710.61" r="11"/><circle cx="1648.17" cy="710.61" r="11"/><circle cx="1648.74" cy="710.61" r="11"/><circle cx="1649.3" cy="710.61" r="11"/><circle cx="1649.86" cy="710.61" r="11"/><circle cx="1650.43" cy="710.61" r="11"/><circle cx="1650.99" cy="710.61" r="11"/><circle cx="1651.55" cy="710.61" r="11"/><circle cx="1652.12" cy="710.61" r="11"/><circle cx="1652.68" cy="710.61" r="11"/><circle cx="1653.24" cy="710.61" r="11"/><circle cx="1653.8" cy="710.61" r="11"/><circle cx="1654.37" cy="710.61" r="11"/><circle cx="1654.93" cy="710.61" r="11"/><circle cx="1655.49" cy="710.61" r="11"/><circle cx="1656.06" cy="710.61" r="11"/><circle cx="1656.62" cy="710.61" r="11"/><circle cx="1657.18" cy="710.61" r="11"/><circle cx="1657.75" cy="710.61" r="11"/><circle cx="1658.31" cy="710.61" r="11"/><circle cx="1658.87" cy="710.61" r="11"/></g>
<g fill="#D95F02"><circle cx="1659.44" cy="713.09" r="11"/><circle cx="1660" cy="713.09" r="11"/><circle cx="1660.56" cy="713.09" r="11"/><circle cx="1661.12" cy="713.09" r="11"/><circle cx="1661.69" cy="713.09" r="11"/><circle cx="1662.25" cy="713.09" r="11"/><circle cx="1662.81" cy="713.09" r="11"/></g>
<g fill="#D0D0D0"><circle cx="1663.38" cy="713.09" r="11"/><circle cx="1663.94" cy="713.09" r="11"/><circle cx="1664.5" cy="713.09" r="11"/><circle cx="1665.07" cy="713.09" r="11"/><circle cx="1665.63" cy="713.09" r="11"/><circle cx="1666.19" cy="713.09" r="11"/><circle cx="1666.76" cy="713.09" r="11"/><circle cx="1667.32" cy="713.09" r="11"/><circle cx="1667.88" cy="713.09" r="11"/><circle cx="1668.44" cy="713.09" r="11"/><circle cx="1669.01" cy="713.09" r="11"/><circle cx="1669.57" cy="713.09" r="11"/><circle cx="1670.13" cy="713.09" r="11"/><circle cx="1670.7" cy="713.09" r="11"/><circle cx="1671.26" cy="713.09" r="11"/><circle cx="1671.82" cy="713.09" r="11"/><circle cx="1672.39" cy="713.09" r="11"/><circle cx="1672.95" cy="713.09" r="11"/><circle cx="1673.51" cy="713.09" r="11"/></g>
<g fill="#0072B5"><circle cx="1674.08" cy="713.09" r="11"/><circle cx="1674.64" cy="713.09" r="11"/><circle cx="1675.2" cy="713.09" r="11"/><circle cx="1675.77" cy="713.09" r="11"/><circle cx="1676.33" cy="713.09" r="11"/><circle cx="1676.89" cy="713.09" r="11"/><circle cx="1677.45" cy="713.09" r="11"/><circle cx="1678.02" cy="713.09" r="11"/><circle cx="1678.58" cy="713.09" r="11"/><circle cx="1679.14" cy="713.09" r="11"/><circle cx="1679.71" cy="713.09" r="11"/><circle cx="1680.27" cy="713.09" r="11"/><circle cx="1680.83" cy="713.09" r="11"/><circle cx="1681.4" cy="713.09" r="11"/><circle cx="1681.96" cy="713.09" r="11"/><circle cx="1682.52" cy="713.09" r="11"/><circle cx="1683.09" cy="713.09" r="11"/><circle cx="1683.65" cy="713.09" r="11"/><circle cx="1684.21" cy="713.09" r="11"/><circle cx="1684.77" cy="713.09" r="11"/><circle cx="1685.34" cy="713.09" r="11"/><circle cx="1685.9" cy="713.09" r="11"/><circle cx="1686.46" cy="713.09" r="11"/><circle cx="1687.03" cy="713.09" r="11"/><circle cx="1687.59" cy="713.09" r="11"/><circle cx="1688.15" cy="713.09" r="11"/><circle cx="1688.72" cy="713.09" r="11"/><circle cx="1689.28" cy="713.09" r="11"/><circle cx="1689.84" cy="713.09" r="11"/><circle cx="1690.41" cy="713.09" r="11"/><circle cx="1690.97" cy="713.09" r="11"/><circle cx="1691.53" cy="713.09" r="11"/><circle cx="1692.1" cy="713.09" r="11"/><circle cx="1692.66" cy="713.09" r="11"/><circle cx="1693.22" cy="713.09" r="11"/><circle cx="1693.78" cy="713.09" r="11"/><circle cx="1694.35" cy="713.09" r="11"/><circle cx="1694.91" cy="713.09" r="11"/><circle cx="1695.47" cy="713.09" r="11"/><circle cx="1696.04" cy="713.09" r="11"/><circle cx="1696.6" cy="713.09" r="11"/><circle cx="1697.16" cy="713.09" r="11"/><circle cx="1697.73" cy="713.09" r="11"/><circle cx="1698.29" cy="713.09" r="11"/><circle cx="1698.85" cy="713.09" r="11"/><circle cx="1699.42" cy="713.09" r="11"/><circle cx="1699.98" cy="713.09" r="11"/><circle cx="1700.54" cy="713.09" r="11"/><circle cx="1701.1" cy="713.09" r="11"/><circle cx="1701.67" cy="713.09" r="11"/><circle cx="1702.23" cy="713.09" r="11"/><circle cx="1702.79" cy="713.09" r="11"/><circle cx="1703.36" cy="713.09" r="11"/><circle cx="1703.92" cy="713.09" r="11"/><circle cx="1704.48" cy="713.09" r="11"/><circle cx="1705.05" cy="713.09" r="11"/></g>
<g fill="#D95F02"><circle cx="1705.61" cy="715.57" r="11"/><circle cx="1706.17" cy="715.57" r="11"/><circle cx="1706.74" cy="715.57" r="11"/><circle cx="1707.3" cy="715.57" r="11"/><circle cx="1707.86" cy="715.57" r="11"/><circle cx="1708.42" cy="715.57" r="11"/><circle cx="1708.99" cy="715.57" r="11"/><circle cx="1709.55" cy="715.57" r="11"/></g>
<g fill="#D0D0D0"><circle cx="1710.11" cy="715.57" r="11"/><circle cx="1710.68" cy="715.57" r="11"/><circle cx="1711.24" cy="715.57" r="11"/><circle cx="1711.8" cy="715.57" r="11"/><circle cx="1712.37" cy="715.57" r="11"/><circle cx="1712.93" cy="715.57" r="11"/><circle cx="1713.49" cy="715.57" r="11"/><circle cx="1714.06" cy="715.57" r="11"/><circle cx="1714.62" cy="715.57" r="11"/><circle cx="1715.18" cy="715.57" r="11"/><circle cx="1715.75" cy="715.57" r="11"/><circle cx="1716.31" cy="715.57" r="11"/><circle cx="1716.87" cy="715.57" r="11"/><circle cx="1717.43" cy="715.57" r="11"/><circle cx="1718" cy="715.57" r="11"/><circle cx="1718.56" cy="715.57" r="11"/><circle cx="1719.12" cy="715.57" r="11"/><circle cx="1719.69" cy="715.57" r="11"/><circle cx="1720.25" cy="715.57" r="11"/><circle cx="1720.81" cy="715.57" r="11"/><circle cx="1721.38" cy="715.57" r="11"/><circle cx="1721.94" cy="715.57" r="11"/></g>
<g fill="#0072B5"><circle cx="1722.5" cy="715.57" r="11"/><circle cx="1723.07" cy="715.57" r="11"/><circle cx="1723.63" cy="715.57" r="11"/><circle cx="1724.19" cy="715.57" r="11"/><circle cx="1724.75" cy="715.57" r="11"/><circle cx="1725.32" cy="715.57" r="11"/><circle cx="1725.88" cy="715.57" r="11"/><circle cx="1726.44" cy="715.57" r="11"/><circle cx="1727.01" cy="715.57" r="11"/><circle cx="1727.57" cy="715.57" r="11"/><circle cx="1728.13" cy="715.57" r="11"/><circle cx="1728.7" cy="715.57" r="11"/><circle cx="1729.26" cy="715.57" r="11"/><circle cx="1729.82" cy="715.57" r="11"/><circle cx="1730.39" cy="715.57" r="11"/><circle cx="1730.95" cy="715.57" r="11"/><circle cx="1731.51" cy="715.57" r="11"/><circle cx="1732.08" cy="715.57" r="11"/><circle cx="1732.64" cy="715.57" r="11"/><circle cx="1733.2" cy="715.57" r="11"/><circle cx="1733.76" cy="715.57" r="11"/><circle cx="1734.33" cy="715.57" r="11"/><circle cx="1734.89" cy="715.57" r="11"/><circle cx="1735.45" cy="715.57" r="11"/><circle cx="1736.02" cy="715.57" r="11"/><circle cx="1736.58" cy="715.57" r="11"/><circle cx="1737.14" cy="715.57" r="11"/><circle cx="1737.71" cy="715.57" r="11"/><circle cx="1738.27" cy="715.57" r="11"/><circle cx="1738.83" cy="715.57" r="11"/><circle cx="1739.4" cy="715.57" r="11"/><circle cx="1739.96" cy="715.57" r="11"/><circle cx="1740.52" cy="715.57" r="11"/><circle cx="1741.08" cy="715.57" r="11"/><circle cx="1741.65" cy="715.57" r="11"/><circle cx="1742.21" cy="715.57" r="11"/><circle cx="1742.77" cy="715.57" r="11"/><circle cx="1743.34" cy="715.57" r="11"/><circle cx="1743.9" cy="715.57" r="11"/><circle cx="1744.46" cy="715.57" r="11"/><circle cx="1745.03" cy="715.57" r="11"/><circle cx="1745.59" cy="715.57" r="11"/><circle cx="1746.15" cy="715.57" r="11"/><circle cx="1746.72" cy="715.57" r="11"/><circle cx="1747.28" cy="715.57" r="11"/><circle cx="1747.84" cy="715.57" r="11"/><circle cx="1748.41" cy="715.57" r="11"/><circle cx="1748.97" cy="715.57" r="11"/><circle cx="1749.53" cy="715.57" r="11"/><circle cx="1750.09" cy="715.57" r="11"/><circle cx="1750.66" cy="715.57" r="11"/><circle cx="1751.22" cy="715.57" r="11"/><circle cx="1751.78" cy="715.57" r="11"/><circle cx="1752.35" cy="715.57" r="11"/><circle cx="1752.91" cy="715.57" r="11"/><circle cx="1753.47" cy="715.57" r="11"/><circle cx="1754.04" cy="715.57" r="11"/><circle cx="1754.6" cy="715.57" r="11"/><circle cx="1755.16" cy="715.57" r="11"/><circle cx="1755.73" cy="715.57" r="11"/><circle cx="1756.29" cy="715.57" r="11"/><circle cx="1756.85" cy="715.57" r="11"/><circle cx="1757.41" cy="715.57" r="11"/><circle cx="1757.98" cy="715.57" r="11"/><circle cx="1758.54" cy="715.57" r="11"/><circle cx="1759.1" cy="715.57" r="11"/><circle cx="1759.67" cy="715.57" r="11"/><circle cx="1760.23" cy="715.57" r="11"/><circle cx="1760.79" cy="715.57" r="11"/><circle cx="1761.36" cy="715.57" r="11"/><circle cx="1761.92" cy="715.57" r="11"/><circle cx="1762.48" cy="715.57" r="11"/><circle cx="1763.05" cy="715.57" r="11"/><circle cx="1763.61" cy="715.57" r="11"/><circle cx="1764.17" cy="715.57" r="11"/><circle cx="1764.73" cy="715.57" r="11"/><circle cx="1765.3" cy="715.57" r="11"/><circle cx="1765.86" cy="715.57" r="11"/><circle cx="1766.42" cy="715.57" r="11"/><circle cx="1766.99" cy="715.57" r="11"/><circle cx="1767.55" cy="715.57" r="11"/><circle cx="1768.11" cy="715.57" r="11"/><circle cx="1768.68" cy="715.57" r="11"/><circle cx="1769.24" cy="715.57" r="11"/><circle cx="1769.8" cy="715.57" r="11"/><circle cx="1770.37" cy="715.57" r="11"/><circle cx="1770.93" cy="715.57" r="11"/><circle cx="1771.49" cy="715.57" r="11"/><circle cx="1772.06" cy="715.57" r="11"/><circle cx="1772.62" cy="715.57" r="11"/><circle cx="1773.18" cy="715.57" r="11"/></g>
<g fill="#D95F02"><circle cx="1773.74" cy="718.04" r="11"/><circle cx="1774.31" cy="718.04" r="11"/><circle cx="1774.87" cy="718.04" r="11"/><circle cx="1775.43" cy="718.04" r="11"/><circle cx="1776" cy="718.04" r="11"/><circle cx="1776.56" cy="718.04" r="11"/><circle cx="1777.12" cy="718.04" r="11"/></g>
<g fill="#D0D0D0"><circle cx="1777.69" cy="718.04" r="11"/><circle cx="1778.25" cy="718.04" r="11"/><circle cx="1778.81" cy="718.04" r="11"/><circle cx="1779.38" cy="718.04" r="11"/><circle cx="1779.94" cy="718.04" r="11"/><circle cx="1780.5" cy="718.04" r="11"/><circle cx="1781.06" cy="718.04" r="11"/><circle cx="1781.63" cy="718.04" r="11"/><circle cx="1782.19" cy="718.04" r="11"/><circle cx="1782.75" cy="718.04" r="11"/><circle cx="1783.32" cy="718.04" r="11"/><circle cx="1783.88" cy="718.04" r="11"/><circle cx="1784.44" cy="718.04" r="11"/><circle cx="1785.01" cy="718.04" r="11"/><circle cx="1785.57" cy="718.04" r="11"/><circle cx="1786.13" cy="718.04" r="11"/><circle cx="1786.7" cy="718.04" r="11"/><circle cx="1787.26" cy="718.04" r="11"/><circle cx="1787.82" cy="718.04" r="11"/><circle cx="1788.39" cy="718.04" r="11"/><circle cx="1788.95" cy="718.04" r="11"/><circle cx="1789.51" cy="718.04" r="11"/><circle cx="1790.07" cy="718.04" r="11"/><circle cx="1790.64" cy="718.04" r="11"/><circle cx="1791.2" cy="718.04" r="11"/><circle cx="1791.76" cy="718.04" r="11"/><circle cx="1792.33" cy="718.04" r="11"/><circle cx="1792.89" cy="718.04" r="11"/><circle cx="1793.45" cy="718.04" r="11"/><circle cx="1794.02" cy="718.04" r="11"/><circle cx="1794.58" cy="718.04" r="11"/><circle cx="1795.14" cy="718.04" r="11"/><circle cx="1795.71" cy="718.04" r="11"/><circle cx="1796.27" cy="718.04" r="11"/><circle cx="1796.83" cy="718.04" r="11"/><circle cx="1797.39" cy="718.04" r="11"/><circle cx="1797.96" cy="718.04" r="11"/><circle cx="1798.52" cy="718.04" r="11"/><circle cx="1799.08" cy="718.04" r="11"/><circle cx="1799.65" cy="718.04" r="11"/><circle cx="1800.21" cy="718.04" r="11"/><circle cx="1800.77" cy="718.04" r="11"/><circle cx="1801.34" cy="718.04" r="11"/><circle cx="1801.9" cy="718.04" r="11"/><circle cx="1802.46" cy="718.04" r="11"/><circle cx="1803.03" cy="718.04" r="11"/><circle cx="1803.59" cy="718.04" r="11"/><circle cx="1804.15" cy="718.04" r="11"/></g>
<g fill="#0072B5"><circle cx="1804.72" cy="718.04" r="11"/><circle cx="1805.28" cy="718.04" r="11"/><circle cx="1805.84" cy="718.04" r="11"/><circle cx="1806.4" cy="718.04" r="11"/><circle cx="1806.97" cy="718.04" r="11"/><circle cx="1807.53" cy="718.04" r="11"/><circle cx="1808.09" cy="718.04" r="11"/><circle cx="1808.66" cy="718.04" r="11"/><circle cx="1809.22" cy="718.04" r="11"/><circle cx="1809.78" cy="718.04" r="11"/><circle cx="1810.35" cy="718.04" r="11"/><circle cx="1810.91" cy="718.04" r="11"/><circle cx="1811.47" cy="718.04" r="11"/><circle cx="1812.04" cy="718.04" r="11"/><circle cx="1812.6" cy="718.04" r="11"/><circle cx="1813.16" cy="718.04" r="11"/><circle cx="1813.72" cy="718.04" r="11"/><circle cx="1814.29" cy="718.04" r="11"/><circle cx="1814.85" cy="718.04" r="11"/><circle cx="1815.41" cy="718.04" r="11"/><circle cx="1815.98" cy="718.04" r="11"/><circle cx="1816.54" cy="718.04" r="11"/><circle cx="1817.1" cy="718.04" r="11"/><circle cx="1817.67" cy="718.04" r="11"/><circle cx="1818.23" cy="718.04" r="11"/><circle cx="1818.79" cy="718.04" r="11"/><circle cx="1819.36" cy="718.04" r="11"/><circle cx="1819.92" cy="718.04" r="11"/><circle cx="1820.48" cy="718.04" r="11"/><circle cx="1821.05" cy="718.04" r="11"/><circle cx="1821.61" cy="718.04" r="11"/><circle cx="1822.17" cy="718.04" r="11"/><circle cx="1822.73" cy="718.04" r="11"/><circle cx="1823.3" cy="718.04" r="11"/><circle cx="1823.86" cy="718.04" r="11"/><circle cx="1824.42" cy="718.04" r="11"/><circle cx="1824.99" cy="718.04" r="11"/><circle cx="1825.55" cy="718.04" r="11"/><circle cx="1826.11" cy="718.04" r="11"/><circle cx="1826.68" cy="718.04" r="11"/><circle cx="1827.24" cy="718.04" r="11"/><circle cx="1827.8" cy="718.04" r="11"/><circle cx="1828.37" cy="718.04" r="11"/><circle cx="1828.93" cy="718.04" r="11"/><circle cx="1829.49" cy="718.04" r="11"/><circle cx="1830.05" cy="718.04" r="11"/><circle cx="1830.62" cy="718.04" r="11"/><circle cx="1831.18" cy="718.04" r="11"/><circle cx="1831.74" cy="718.04" r="11"/><circle cx="1832.31" cy="718.04" r="11"/><circle cx="1832.87" cy="718.04" r="11"/><circle cx="1833.43" cy="718.04" r="11"/><circle cx="1834" cy="718.04" r="11"/><circle cx="1834.56" cy="718.04" r="11"/><circle cx="1835.12" cy="718.04" r="11"/><circle cx="1835.69" cy="718.04" r="11"/><circle cx="1836.25" cy="718.04" r="11"/><circle cx="1836.81" cy="718.04" r="11"/><circle cx="1837.37" cy="718.04" r="11"/><circle cx="1837.94" cy="718.04" r="11"/><circle cx="1838.5" cy="718.04" r="11"/><circle cx="1839.06" cy="718.04" r="11"/><circle cx="1839.63" cy="718.04" r="11"/><circle cx="1840.19" cy="718.04" r="11"/><circle cx="1840.75" cy="718.04" r="11"/><circle cx="1841.32" cy="718.04" r="11"/><circle cx="1841.88" cy="718.04" r="11"/><circle cx="1842.44" cy="718.04" r="11"/><circle cx="1843.01" cy="718.04" r="11"/><circle cx="1843.57" cy="718.04" r="11"/><circle cx="1844.13" cy="718.04" r="11"/><circle cx="1844.7" cy="718.04" r="11"/><circle cx="1845.26" cy="718.04" r="11"/><circle cx="1845.82" cy="718.04" r="11"/><circle cx="1846.38" cy="718.04" r="11"/><circle cx="1846.95" cy="718.04" r="11"/><circle cx="1847.51" cy="718.04" r="11"/><circle cx="1848.07" cy="718.04" r="11"/><circle cx="1848.64" cy="718.04" r="11"/><circle cx="1849.2" cy="718.04" r="11"/><circle cx="1849.76" cy="718.04" r="11"/><circle cx="1850.33" cy="718.04" r="11"/><circle cx="1850.89" cy="718.04" r="11"/><circle cx="1851.45" cy="718.04" r="11"/><circle cx="1852.02" cy="718.04" r="11"/><circle cx="1852.58" cy="718.04" r="11"/><circle cx="1853.14" cy="718.04" r="11"/><circle cx="1853.7" cy="718.04" r="11"/><circle cx="1854.27" cy="718.04" r="11"/><circle cx="1854.83" cy="718.04" r="11"/><circle cx="1855.39" cy="718.04" r="11"/><circle cx="1855.96" cy="718.04" r="11"/><circle cx="1856.52" cy="718.04" r="11"/><circle cx="1857.08" cy="718.04" r="11"/><circle cx="1857.65" cy="718.04" r="11"/><circle cx="1858.21" cy="718.04" r="11"/><circle cx="1858.77" cy="718.04" r="11"/><circle cx="1859.34" cy="718.04" r="11"/><circle cx="1859.9" cy="718.04" r="11"/><circle cx="1860.46" cy="718.04" r="11"/><circle cx="1861.03" cy="718.04" r="11"/><circle cx="1861.59" cy="718.04" r="11"/><circle cx="1862.15" cy="718.04" r="11"/><circle cx="1862.71" cy="718.04" r="11"/><circle cx="1863.28" cy="718.04" r="11"/><circle cx="1863.84" cy="718.04" r="11"/><circle cx="1864.4" cy="718.04" r="11"/><circle cx="1864.97" cy="718.04" r="11"/><circle cx="1865.53" cy="718.04" r="11"/><circle cx="1866.09" cy="718.04" r="11"/><circle cx="1866.66" cy="718.04" r="11"/><circle cx="1867.22" cy="718.04" r="11"/><circle cx="1867.78" cy="718.04" r="11"/><circle cx="1868.35" cy="718.04" r="11"/><circle cx="1868.91" cy="718.04" r="11"/><circle cx="1869.47" cy="718.04" r="11"/><circle cx="1870.03" cy="718.04" r="11"/><circle cx="1870.6" cy="718.04" r="11"/><circle cx="1871.16" cy="718.04" r="11"/><circle cx="1871.72" cy="718.04" r="11"/><circle cx="1872.29" cy="718.04" r="11"/><circle cx="1872.85" cy="718.04" r="11"/><circle cx="1873.41" cy="718.04" r="11"/><circle cx="1873.98" cy="718.04" r="11"/><circle cx="1874.54" cy="718.04" r="11"/><circle cx="1875.1" cy="718.04" r="11"/><circle cx="1875.67" cy="718.04" r="11"/><circle cx="1876.23" cy="718.04" r="11"/><circle cx="1876.79" cy="718.04" r="11"/><circle cx="1877.36" cy="718.04" r="11"/><circle cx="1877.92" cy="718.04" r="11"/><circle cx="1878.48" cy="718.04" r="11"/><circle cx="1879.04" cy="718.04" r="11"/><circle cx="1879.61" cy="718.04" r="11"/><circle cx="1880.17" cy="718.04" r="11"/><circle cx="1880.73" cy="718.04" r="11"/><circle cx="1881.3" cy="718.04" r="11"/><circle cx="1881.86" cy="718.04" r="11"/><circle cx="1882.42" cy="718.04" r="11"/><circle cx="1882.99" cy="718.04" r="11"/></g>
<g fill="#D95F02"><circle cx="1883.55" cy="720.52" r="11"/><circle cx="1884.11" cy="720.52" r="11"/><circle cx="1884.68" cy="720.52" r="11"/><circle cx="1885.24" cy="720.52" r="11"/><circle cx="1885.8" cy="720.52" r="11"/><circle cx="1886.36" cy="720.52" r="11"/><circle cx="1886.93" cy="720.52" r="11"/><circle cx="1887.49" cy="720.52" r="11"/><circle cx="1888.05" cy="720.52" r="11"/><circle cx="1888.62" cy="720.52" r="11"/><circle cx="1889.18" cy="720.52" r="11"/></g>
<g fill="#D0D0D0"><circle cx="1889.74" cy="720.52" r="11"/><circle cx="1890.31" cy="720.52" r="11"/><circle cx="1890.87" cy="720.52" r="11"/><circle cx="1891.43" cy="720.52" r="11"/><circle cx="1892" cy="720.52" r="11"/><circle cx="1892.56" cy="720.52" r="11"/><circle cx="1893.12" cy="720.52" r="11"/><circle cx="1893.68" cy="720.52" r="11"/><circle cx="1894.25" cy="720.52" r="11"/><circle cx="1894.81" cy="720.52" r="11"/><circle cx="1895.37" cy="720.52" r="11"/><circle cx="1895.94" cy="720.52" r="11"/><circle cx="1896.5" cy="720.52" r="11"/><circle cx="1897.06" cy="720.52" r="11"/><circle cx="1897.63" cy="720.52" r="11"/><circle cx="1898.19" cy="720.52" r="11"/><circle cx="1898.75" cy="720.52" r="11"/><circle cx="1899.32" cy="720.52" r="11"/><circle cx="1899.88" cy="720.52" r="11"/><circle cx="1900.44" cy="720.52" r="11"/><circle cx="1901.01" cy="720.52" r="11"/><circle cx="1901.57" cy="720.52" r="11"/><circle cx="1902.13" cy="720.52" r="11"/><circle cx="1902.69" cy="720.52" r="11"/><circle cx="1903.26" cy="720.52" r="11"/><circle cx="1903.82" cy="720.52" r="11"/><circle cx="1904.38" cy="720.52" r="11"/><circle cx="1904.95" cy="720.52" r="11"/><circle cx="1905.51" cy="720.52" r="11"/><circle cx="1906.07" cy="720.52" r="11"/><circle cx="1906.64" cy="720.52" r="11"/><circle cx="1907.2" cy="720.52" r="11"/><circle cx="1907.76" cy="720.52" r="11"/><circle cx="1908.33" cy="720.52" r="11"/><circle cx="1908.89" cy="720.52" r="11"/><circle cx="1909.45" cy="720.52" r="11"/><circle cx="1910.01" cy="720.52" r="11"/><circle cx="1910.58" cy="720.52" r="11"/><circle cx="1911.14" cy="720.52" r="11"/><circle cx="1911.7" cy="720.52" r="11"/><circle cx="1912.27" cy="720.52" r="11"/><circle cx="1912.83" cy="720.52" r="11"/><circle cx="1913.39" cy="720.52" r="11"/><circle cx="1913.96" cy="720.52" r="11"/><circle cx="1914.52" cy="720.52" r="11"/><circle cx="1915.08" cy="720.52" r="11"/><circle cx="1915.65" cy="720.52" r="11"/><circle cx="1916.21" cy="720.52" r="11"/><circle cx="1916.77" cy="720.52" r="11"/><circle cx="1917.34" cy="720.52" r="11"/><circle cx="1917.9" cy="720.52" r="11"/><circle cx="1918.46" cy="720.52" r="11"/><circle cx="1919.02" cy="720.52" r="11"/><circle cx="1919.59" cy="720.52" r="11"/><circle cx="1920.15" cy="720.52" r="11"/><circle cx="1920.71" cy="720.52" r="11"/><circle cx="1921.28" cy="720.52" r="11"/><circle cx="1921.84" cy="720.52" r="11"/><circle cx="1922.4" cy="720.52" r="11"/></g>
<g fill="#0072B5"><circle cx="1922.97" cy="720.52" r="11"/><circle cx="1923.53" cy="720.52" r="11"/><circle cx="1924.09" cy="720.52" r="11"/><circle cx="1924.66" cy="720.52" r="11"/><circle cx="1925.22" cy="720.52" r="11"/><circle cx="1925.78" cy="720.52" r="11"/><circle cx="1926.34" cy="720.52" r="11"/><circle cx="1926.91" cy="720.52" r="11"/><circle cx="1927.47" cy="720.52" r="11"/><circle cx="1928.03" cy="720.52" r="11"/><circle cx="1928.6" cy="720.52" r="11"/><circle cx="1929.16" cy="720.52" r="11"/><circle cx="1929.72" cy="720.52" r="11"/><circle cx="1930.29" cy="720.52" r="11"/><circle cx="1930.85" cy="720.52" r="11"/><circle cx="1931.41" cy="720.52" r="11"/><circle cx="1931.98" cy="720.52" r="11"/><circle cx="1932.54" cy="720.52" r="11"/><circle cx="1933.1" cy="720.52" r="11"/><circle cx="1933.66" cy="720.52" r="11"/><circle cx="1934.23" cy="720.52" r="11"/><circle cx="1934.79" cy="720.52" r="11"/><circle cx="1935.35" cy="720.52" r="11"/><circle cx="1935.92" cy="720.52" r="11"/><circle cx="1936.48" cy="720.52" r="11"/><circle cx="1937.04" cy="720.52" r="11"/><circle cx="1937.61" cy="720.52" r="11"/><circle cx="1938.17" cy="720.52" r="11"/><circle cx="1938.73" cy="720.52" r="11"/><circle cx="1939.3" cy="720.52" r="11"/><circle cx="1939.86" cy="720.52" r="11"/><circle cx="1940.42" cy="720.52" r="11"/><circle cx="1940.99" cy="720.52" r="11"/><circle cx="1941.55" cy="720.52" r="11"/><circle cx="1942.11" cy="720.52" r="11"/><circle cx="1942.67" cy="720.52" r="11"/><circle cx="1943.24" cy="720.52" r="11"/><circle cx="1943.8" cy="720.52" r="11"/><circle cx="1944.36" cy="720.52" r="11"/><circle cx="1944.93" cy="720.52" r="11"/><circle cx="1945.49" cy="720.52" r="11"/><circle cx="1946.05" cy="720.52" r="11"/><circle cx="1946.62" cy="720.52" r="11"/><circle cx="1947.18" cy="720.52" r="11"/><circle cx="1947.74" cy="720.52" r="11"/><circle cx="1948.31" cy="720.52" r="11"/><circle cx="1948.87" cy="720.52" r="11"/><circle cx="1949.43" cy="720.52" r="11"/><circle cx="1949.99" cy="720.52" r="11"/><circle cx="1950.56" cy="720.52" r="11"/><circle cx="1951.12" cy="720.52" r="11"/><circle cx="1951.68" cy="720.52" r="11"/><circle cx="1952.25" cy="720.52" r="11"/><circle cx="1952.81" cy="720.52" r="11"/><circle cx="1953.37" cy="720.52" r="11"/><circle cx="1953.94" cy="720.52" r="11"/><circle cx="1954.5" cy="720.52" r="11"/><circle cx="1955.06" cy="720.52" r="11"/><circle cx="1955.63" cy="720.52" r="11"/><circle cx="1956.19" cy="720.52" r="11"/><circle cx="1956.75" cy="720.52" r="11"/><circle cx="1957.32" cy="720.52" r="11"/><circle cx="1957.88" cy="720.52" r="11"/><circle cx="1958.44" cy="720.52" r="11"/><circle cx="1959" cy="720.52" r="11"/><circle cx="1959.57" cy="720.52" r="11"/><circle cx="1960.13" cy="720.52" r="11"/><circle cx="1960.69" cy="720.52" r="11"/><circle cx="1961.26" cy="720.52" r="11"/><circle cx="1961.82" cy="720.52" r="11"/><circle cx="1962.38" cy="720.52" r="11"/><circle cx="1962.95" cy="720.52" r="11"/><circle cx="1963.51" cy="720.52" r="11"/><circle cx="1964.07" cy="720.52" r="11"/><circle cx="1964.64" cy="720.52" r="11"/><circle cx="1965.2" cy="720.52" r="11"/><circle cx="1965.76" cy="720.52" r="11"/><circle cx="1966.32" cy="720.52" r="11"/><circle cx="1966.89" cy="720.52" r="11"/><circle cx="1967.45" cy="720.52" r="11"/><circle cx="1968.01" cy="720.52" r="11"/><circle cx="1968.58" cy="720.52" r="11"/><circle cx="1969.14" cy="720.52" r="11"/><circle cx="1969.7" cy="720.52" r="11"/><circle cx="1970.27" cy="720.52" r="11"/><circle cx="1970.83" cy="720.52" r="11"/><circle cx="1971.39" cy="720.52" r="11"/><circle cx="1971.96" cy="720.52" r="11"/><circle cx="1972.52" cy="720.52" r="11"/><circle cx="1973.08" cy="720.52" r="11"/><circle cx="1973.65" cy="720.52" r="11"/><circle cx="1974.21" cy="720.52" r="11"/><circle cx="1974.77" cy="720.52" r="11"/><circle cx="1975.33" cy="720.52" r="11"/><circle cx="1975.9" cy="720.52" r="11"/><circle cx="1976.46" cy="720.52" r="11"/><circle cx="1977.02" cy="720.52" r="11"/><circle cx="1977.59" cy="720.52" r="11"/><circle cx="1978.15" cy="720.52" r="11"/><circle cx="1978.71" cy="720.52" r="11"/><circle cx="1979.28" cy="720.52" r="11"/><circle cx="1979.84" cy="720.52" r="11"/><circle cx="1980.4" cy="720.52" r="11"/><circle cx="1980.97" cy="720.52" r="11"/><circle cx="1981.53" cy="720.52" r="11"/><circle cx="1982.09" cy="720.52" r="11"/><circle cx="1982.65" cy="720.52" r="11"/><circle cx="1983.22" cy="720.52" r="11"/><circle cx="1983.78" cy="720.52" r="11"/><circle cx="1984.34" cy="720.52" r="11"/><circle cx="1984.91" cy="720.52" r="11"/><circle cx="1985.47" cy="720.52" r="11"/><circle cx="1986.03" cy="720.52" r="11"/><circle cx="1986.6" cy="720.52" r="11"/><circle cx="1987.16" cy="720.52" r="11"/><circle cx="1987.72" cy="720.52" r="11"/><circle cx="1988.29" cy="720.52" r="11"/><circle cx="1988.85" cy="720.52" r="11"/><circle cx="1989.41" cy="720.52" r="11"/><circle cx="1989.97" cy="720.52" r="11"/><circle cx="1990.54" cy="720.52" r="11"/><circle cx="1991.1" cy="720.52" r="11"/><circle cx="1991.66" cy="720.52" r="11"/><circle cx="1992.23" cy="720.52" r="11"/><circle cx="1992.79" cy="720.52" r="11"/><circle cx="1993.35" cy="720.52" r="11"/><circle cx="1993.92" cy="720.52" r="11"/><circle cx="1994.48" cy="720.52" r="11"/><circle cx="1995.04" cy="720.52" r="11"/><circle cx="1995.61" cy="720.52" r="11"/><circle cx="1996.17" cy="720.52" r="11"/><circle cx="1996.73" cy="720.52" r="11"/><circle cx="1997.3" cy="720.52" r="11"/><circle cx="1997.86" cy="720.52" r="11"/><circle cx="1998.42" cy="720.52" r="11"/><circle cx="1998.98" cy="720.52" r="11"/><circle cx="1999.55" cy="720.52" r="11"/><circle cx="2000.11" cy="720.52" r="11"/><circle cx="2000.67" cy="720.52" r="11"/><circle cx="2001.24" cy="720.52" r="11"/><circle cx="2001.8" cy="720.52" r="11"/><circle cx="2002.36" cy="720.52" r="11"/><circle cx="2002.93" cy="720.52" r="11"/><circle cx="2003.49" cy="720.52" r="11"/><circle cx="2004.05" cy="720.52" r="11"/><circle cx="2004.62" cy="720.52" r="11"/><circle cx="2005.18" cy="720.52" r="11"/><circle cx="2005.74" cy="720.52" r="11"/><circle cx="2006.3" cy="720.52" r="11"/><circle cx="2006.87" cy="720.52" r="11"/><circle cx="2007.43" cy="720.52" r="11"/><circle cx="2007.99" cy="720.52" r="11"/><circle cx="2008.56" cy="720.52" r="11"/><circle cx="2009.12" cy="720.52" r="11"/><circle cx="2009.68" cy="720.52" r="11"/><circle cx="2010.25" cy="720.52" r="11"/><circle cx="2010.81" cy="720.52" r="11"/><circle cx="2011.37" cy="720.52" r="11"/><circle cx="2011.94" cy="720.52" r="11"/><circle cx="2012.5" cy="720.52" r="11"/><circle cx="2013.06" cy="720.52" r="11"/><circle cx="2013.63" cy="720.52" r="11"/><circle cx="2014.19" cy="720.52" r="11"/><circle cx="2014.75" cy="720.52" r="11"/><circle cx="2015.31" cy="720.52" r="11"/><circle cx="2015.88" cy="720.52" r="11"/><circle cx="2016.44" cy="720.52" r="11"/><circle cx="2017" cy="720.52" r="11"/><circle cx="2017.57" cy="720.52" r="11"/><circle cx="2018.13" cy="720.52" r="11"/><circle cx="2018.69" cy="720.52" r="11"/><circle cx="2019.26" cy="720.52" r="11"/><circle cx="2019.82" cy="720.52" r="11"/><circle cx="2020.38" cy="720.52" r="11"/><circle cx="2020.95" cy="720.52" r="11"/><circle cx="2021.51" cy="720.52" r="11"/><circle cx="2022.07" cy="720.52" r="11"/><circle cx="2022.63" cy="720.52" r="11"/><circle cx="2023.2" cy="720.52" r="11"/><circle cx="2023.76" cy="720.52" r="11"/><circle cx="2024.32" cy="720.52" r="11"/><circle cx="2024.89" cy="720.52" r="11"/><circle cx="2025.45" cy="720.52" r="11"/><circle cx="2026.01" cy="720.52" r="11"/><circle cx="2026.58" cy="720.52" r="11"/><circle cx="2027.14" cy="720.52" r="11"/><circle cx="2027.7" cy="720.52" r="11"/><circle cx="2028.27" cy="720.52" r="11"/><circle cx="2028.83" cy="720.52" r="11"/><circle cx="2029.39" cy="720.52" r="11"/><circle cx="2029.96" cy="720.52" r="11"/><circle cx="2030.52" cy="720.52" r="11"/><circle cx="2031.08" cy="720.52" r="11"/><circle cx="2031.64" cy="720.52" r="11"/><circle cx="2032.21" cy="720.52" r="11"/><circle cx="2032.77" cy="720.52" r="11"/><circle cx="2033.33" cy="720.52" r="11"/><circle cx="2033.9" cy="720.52" r="11"/><circle cx="2034.46" cy="720.52" r="11"/><circle cx="2035.02" cy="720.52" r="11"/><circle cx="2035.59" cy="720.52" r="11"/><circle cx="2036.15" cy="720.52" r="11"/><circle cx="2036.71" cy="720.52" r="11"/><circle cx="2037.28" cy="720.52" r="11"/><circle cx="2037.84" cy="720.52" r="11"/><circle cx="2038.4" cy="720.52" r="11"/><circle cx="2038.96" cy="720.52" r="11"/><circle cx="2039.53" cy="720.52" r="11"/><circle cx="2040.09" cy="720.52" r="11"/><circle cx="2040.65" cy="720.52" r="11"/><circle cx="2041.22" cy="720.52" r="11"/><circle cx="2041.78" cy="720.52" r="11"/><circle cx="2042.34" cy="720.52" r="11"/><circle cx="2042.91" cy="720.52" r="11"/><circle cx="2043.47" cy="720.52" r="11"/><circle cx="2044.03" cy="720.52" r="11"/><circle cx="2044.6" cy="720.52" r="11"/><circle cx="2045.16" cy="720.52" r="11"/><circle cx="2045.72" cy="720.52" r="11"/><circle cx="2046.28" cy="720.52" r="11"/><circle cx="2046.85" cy="720.52" r="11"/><circle cx="2047.41" cy="720.52" r="11"/><circle cx="2047.97" cy="720.52" r="11"/><circle cx="2048.54" cy="720.52" r="11"/><circle cx="2049.1" cy="720.52" r="11"/><circle cx="2049.66" cy="720.52" r="11"/><circle cx="2050.23" cy="720.52" r="11"/><circle cx="2050.79" cy="720.52" r="11"/><circle cx="2051.35" cy="720.52" r="11"/><circle cx="2051.92" cy="720.52" r="11"/><circle cx="2052.48" cy="720.52" r="11"/><circle cx="2053.04" cy="720.52" r="11"/><circle cx="2053.61" cy="720.52" r="11"/><circle cx="2054.17" cy="720.52" r="11"/><circle cx="2054.73" cy="720.52" r="11"/><circle cx="2055.29" cy="720.52" r="11"/><circle cx="2055.86" cy="720.52" r="11"/><circle cx="2056.42" cy="720.52" r="11"/><circle cx="2056.98" cy="720.52" r="11"/><circle cx="2057.55" cy="720.52" r="11"/><circle cx="2058.11" cy="720.52" r="11"/><circle cx="2058.67" cy="720.52" r="11"/><circle cx="2059.24" cy="720.52" r="11"/><circle cx="2059.8" cy="720.52" r="11"/><circle cx="2060.36" cy="720.52" r="11"/><circle cx="2060.93" cy="720.52" r="11"/><circle cx="2061.49" cy="720.52" r="11"/><circle cx="2062.05" cy="720.52" r="11"/><circle cx="2062.61" cy="720.52" r="11"/><circle cx="2063.18" cy="720.52" r="11"/><circle cx="2063.74" cy="720.52" r="11"/><circle cx="2064.3" cy="720.52" r="11"/><circle cx="2064.87" cy="720.52" r="11"/><circle cx="2065.43" cy="720.52" r="11"/><circle cx="2065.99" cy="720.52" r="11"/><circle cx="2066.56" cy="720.52" r="11"/><circle cx="2067.12" cy="720.52" r="11"/><circle cx="2067.68" cy="720.52" r="11"/><circle cx="2068.25" cy="720.52" r="11"/><circle cx="2068.81" cy="720.52" r="11"/><circle cx="2069.37" cy="720.52" r="11"/><circle cx="2069.94" cy="720.52" r="11"/><circle cx="2070.5" cy="720.52" r="11"/><circle cx="2071.06" cy="720.52" r="11"/><circle cx="2071.62" cy="720.52" r="11"/><circle cx="2072.19" cy="720.52" r="11"/><circle cx="2072.75" cy="720.52" r="11"/><circle cx="2073.31" cy="720.52" r="11"/><circle cx="2073.88" cy="720.52" r="11"/><circle cx="2074.44" cy="720.52" r="11"/><circle cx="2075" cy="720.52" r="11"/><circle cx="2075.57" cy="720.52" r="11"/><circle cx="2076.13" cy="720.52" r="11"/><circle cx="2076.69" cy="720.52" r="11"/><circle cx="2077.26" cy="720.52" r="11"/><circle cx="2077.82" cy="720.52" r="11"/><circle cx="2078.38" cy="720.52" r="11"/><circle cx="2078.94" cy="720.52" r="11"/><circle cx="2079.51" cy="720.52" r="11"/><circle cx="2080.07" cy="720.52" r="11"/><circle cx="2080.63" cy="720.52" r="11"/><circle cx="2081.2" cy="720.52" r="11"/><circle cx="2081.76" cy="720.52" r="11"/><circle cx="2082.32" cy="720.52" r="11"/><circle cx="2082.89" cy="720.52" r="11"/><circle cx="2083.45" cy="720.52" r="11"/><circle cx="2084.01" cy="720.52" r="11"/><circle cx="2084.58" cy="720.52" r="11"/><circle cx="2085.14" cy="720.52" r="11"/><circle cx="2085.7" cy="720.52" r="11"/><circle cx="2086.27" cy="720.52" r="11"/><circle cx="2086.83" cy="720.52" r="11"/><circle cx="2087.39" cy="720.52" r="11"/><circle cx="2087.95" cy="720.52" r="11"/><circle cx="2088.52" cy="720.52" r="11"/><circle cx="2089.08" cy="720.52" r="11"/><circle cx="2089.64" cy="720.52" r="11"/><circle cx="2090.21" cy="720.52" r="11"/><circle cx="2090.77" cy="720.52" r="11"/><circle cx="2091.33" cy="720.52" r="11"/><circle cx="2091.9" cy="720.52" r="11"/></g>
</g>
</g>
<rect x="1815" y="32.1" width="278.6" height="160.8" fill="#fff"/>
<rect x="1820.3" y="37.2" width="45.3" height="138.8" fill="#F0F0F0"/>
<g stroke="#000" stroke-width="1.9">
<circle cx="1843" cy="60.1" r="9.6" fill="#D95F02"/>
<circle cx="1843" cy="106.3" r="9.6" fill="#D0D0D0"/>
<circle cx="1843" cy="152.8" r="9.6" fill="#0072B5"/>
</g>
<g class="lg">
<text x="1881.4" y="68.7">Human-associated</text>
<text x="1881.4" y="114.9">Semi-spontaneous</text>
<text x="1881.4" y="161.2">Spontaneous</text>
</g>
<g stroke="#000" stroke-width="1.6" stroke-linejoin="round">
<path d="M1941.6 384.4L2000.09 235.91A159.6 159.6 0 1 0 2101.2 384.4Z" fill="#0072B5"/>
<path d="M1941.6 384.4L2101.2 384.4A159.6 159.6 0 0 0 2026.41 249.2Z" fill="#D0D0D0"/>
<path d="M1941.6 384.4L2026.41 249.2A159.6 159.6 0 0 0 2000.09 235.91Z" fill="#D95F02"/>
</g>
<g class="sp">
<text x="1393.6" y="51">Sophora japonica</text>
<text x="1393" y="106.8">Ginkgo biloba</text>
<text x="1392.2" y="158.9">Ulmus pumila</text>
<text x="1393.4" y="221">Gleditsia sinensis</text>
<text x="1392.6" y="283.1">Platycladus orientalis</text>
<text x="1392.6" y="347">Pistacia chinensis</text>
<text x="1393" y="409">Celtis sinensis</text>
<text x="1393" y="466.2">Cinnamomum camphora</text>
<text x="1392.6" y="524.2">Diospyros kaki</text>
<text x="1395.8" y="584.7">Liquidambar formosana</text>
</g>
<text class="an" x="1819.5" y="587.6" style="font-size:32.1px">Endemic species</text>
<text class="an" x="1860.2" y="633.6" style="font-size:31.7px">n = 371</text>
<rect x="1874.35" y="693.15" width="232.1" height="47.3" fill="none" stroke="#AD1219" stroke-width="2.7"/>
<path d="M1989.6 692.5V606.7" stroke="#BE141B" stroke-width="1.6" fill="none"/>
<path d="M1989.6 592.5L1997.4 607.7H1981.8Z" fill="#C0141B"/>
<path d="M1286.1 753.9v7.4M1426.88 753.9v7.4M1567.65 753.9v7.4M1708.42 753.9v7.4M1849.2 753.9v7.4M1989.97 753.9v7.4M2130.75 753.9v7.4M1246.6 723h-7.3M1246.6 599.12h-7.3M1246.6 475.24h-7.3M1246.6 351.36h-7.3M1246.6 227.48h-7.3M1246.6 103.6h-7.3" stroke="#2e2e2e" stroke-width="2.7" fill="none"/>
<g class="tk" text-anchor="middle">
<text transform="translate(1286.1 792.9) scale(1 1.02)">0</text>
<text transform="translate(1426.88 792.9) scale(1 1.02)">250</text>
<text transform="translate(1567.65 792.9) scale(1 1.02)">500</text>
<text transform="translate(1708.42 792.9) scale(1 1.02)">750</text>
<text transform="translate(1849.2 792.9) scale(1 1.02)">1000</text>
<text transform="translate(1989.97 792.9) scale(1 1.02)">1250</text>
<text transform="translate(2130.75 792.9) scale(1 1.02)">1500</text>
</g>
<g class="tk" text-anchor="end">
<text transform="translate(1232.3 735.4) scale(1 1.02)">0</text>
<text transform="translate(1232.3 611.52) scale(1 1.02)">50</text>
<text transform="translate(1232.3 487.64) scale(1 1.02)">100</text>
<text transform="translate(1232.3 363.76) scale(1 1.02)">150</text>
<text transform="translate(1232.3 239.88) scale(1 1.02)">200</text>
<text transform="translate(1232.3 116) scale(1 1.02)">250</text>
</g>
<text class="ax" x="1571.2" y="853.3">Species sequence</text>
<text class="ay" transform="translate(1140.2 549) rotate(-90)">Observed range size</text>
<text class="pl" x="1102.8" y="35.0">B</text>
<circle cx="1820.2" cy="817" r="1.4" fill="#222"/>
</svg></body></html>
